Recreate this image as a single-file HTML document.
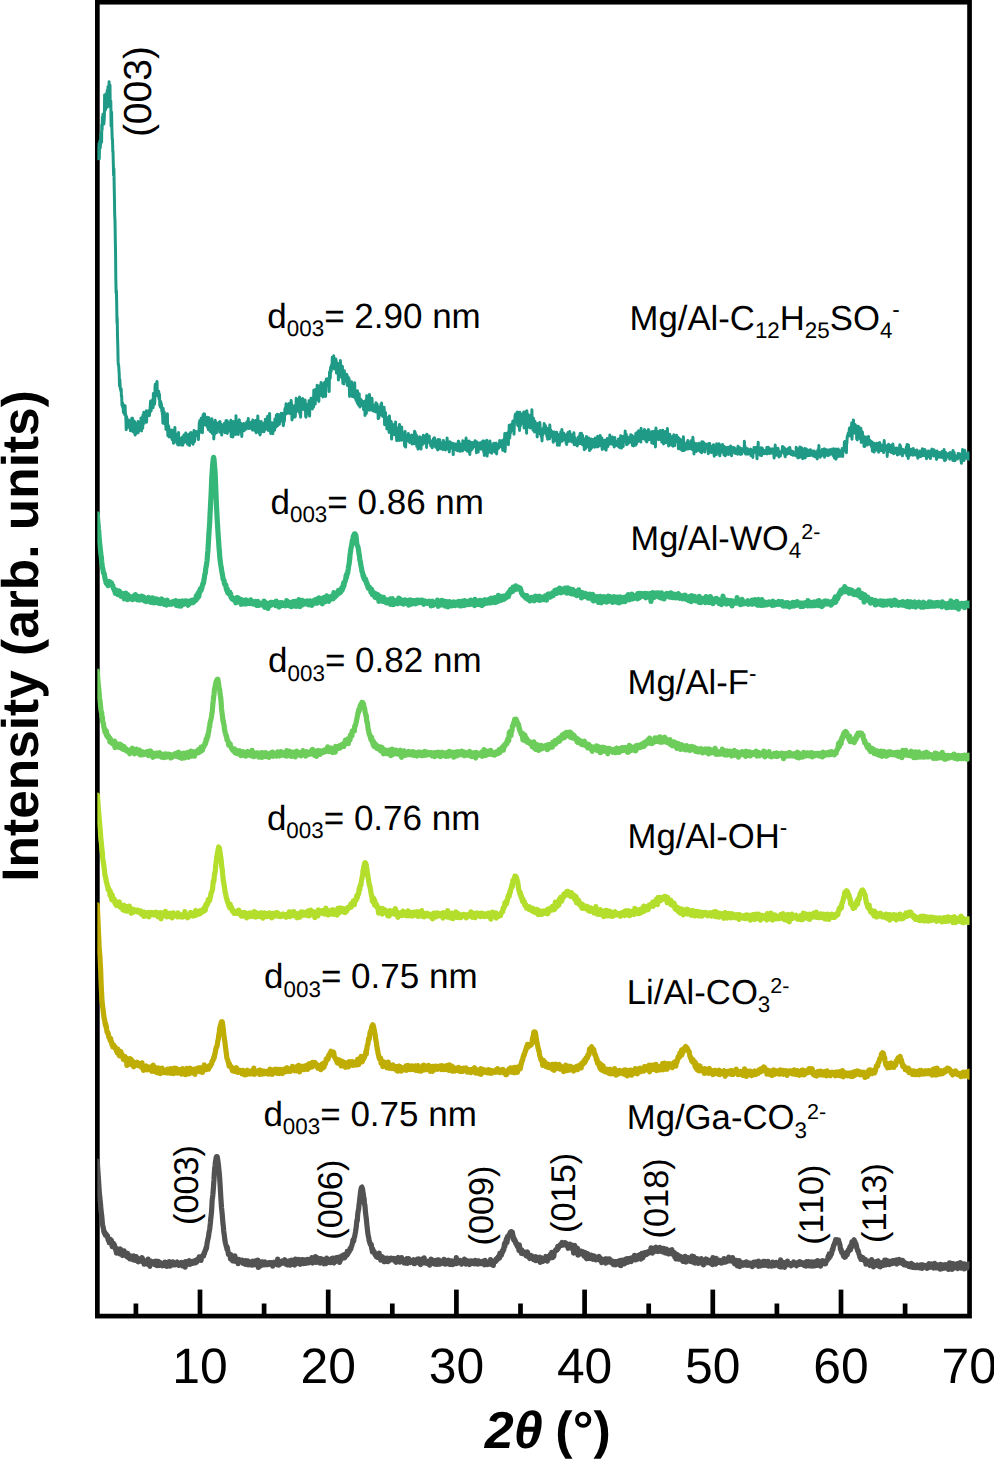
<!DOCTYPE html>
<html lang="en">
<head>
<meta charset="utf-8">
<title>XRD patterns of layered double hydroxides</title>
<style>
html,body{margin:0;padding:0;background:#fff;}
body{width:994px;height:1459px;overflow:hidden;}
svg{display:block;}
text{font-family:"Liberation Sans",sans-serif;fill:#000;text-rendering:geometricPrecision;font-kerning:none;}
</style>
</head>
<body>
<svg width="994" height="1459" viewBox="0 0 994 1459">
<rect x="0" y="0" width="994" height="1459" fill="#fff"/>
<g id="axes" stroke="#000" stroke-width="4.7" fill="none">
<rect x="97.35" y="2.2" width="872.20" height="1313.90"/>
<line x1="135.90" y1="1303.5" x2="135.90" y2="1316.1"/>
<line x1="200.00" y1="1289.6" x2="200.00" y2="1316.1"/>
<line x1="264.10" y1="1303.5" x2="264.10" y2="1316.1"/>
<line x1="328.20" y1="1289.6" x2="328.20" y2="1316.1"/>
<line x1="392.30" y1="1303.5" x2="392.30" y2="1316.1"/>
<line x1="456.40" y1="1289.6" x2="456.40" y2="1316.1"/>
<line x1="520.50" y1="1303.5" x2="520.50" y2="1316.1"/>
<line x1="584.60" y1="1289.6" x2="584.60" y2="1316.1"/>
<line x1="648.70" y1="1303.5" x2="648.70" y2="1316.1"/>
<line x1="712.80" y1="1289.6" x2="712.80" y2="1316.1"/>
<line x1="776.90" y1="1303.5" x2="776.90" y2="1316.1"/>
<line x1="841.00" y1="1289.6" x2="841.00" y2="1316.1"/>
<line x1="905.10" y1="1303.5" x2="905.10" y2="1316.1"/>
</g>
<clipPath id="plotclip"><rect x="97.35" y="2.2" width="872.20" height="1313.90"/></clipPath>
<g id="curves" clip-path="url(#plotclip)">
<path d="M97.3,158.0 97.6,158.9 97.9,153.2 98.2,147.3 98.5,149.2 98.8,143.7 99.0,150.3 99.3,158.6 99.6,143.4 99.9,141.0 100.2,148.1 100.4,145.7 100.7,142.4 101.0,132.9 101.3,138.3 101.6,142.3 101.8,125.0 102.1,130.2 102.4,117.2 102.7,120.2 103.0,114.0 103.2,124.5 103.5,114.3 103.8,124.0 104.1,120.8 104.4,115.7 104.6,94.9 104.9,108.4 105.2,110.2 105.5,109.4 105.8,94.1 106.0,100.6 106.3,94.6 106.6,94.0 106.9,107.4 107.2,90.5 107.4,94.8 107.7,100.4 108.0,86.7 108.3,89.4 108.6,90.9 108.8,91.1 109.1,81.8 109.4,94.2 109.7,106.6 110.0,85.0 110.2,106.9 110.5,103.7 110.8,101.0 111.1,126.1 111.4,121.3 111.6,112.1 111.9,128.8 112.2,139.2 112.5,139.2 112.8,151.4 113.0,151.2 113.3,162.8 113.6,175.5 113.9,168.4 114.2,186.6 114.4,196.1 114.7,215.2 115.0,220.5 115.3,238.9 115.6,256.1 115.8,277.5 116.1,292.7 116.4,290.5 116.7,304.5 117.0,322.9 117.2,317.9 117.5,335.8 117.8,346.4 118.1,361.4 118.4,365.1 118.6,365.2 118.9,369.2 119.2,373.5 119.5,385.9 119.8,379.3 120.0,382.9 120.3,388.9 120.6,389.1 120.9,391.1 121.2,388.8 121.4,396.2 121.7,396.0 122.0,405.5 122.3,404.7 122.6,403.0 122.8,407.8 123.1,404.5 123.4,412.4 123.7,408.8 124.0,412.9 124.2,405.5 124.5,414.4 124.8,406.2 125.1,405.8 125.4,414.9 125.6,413.3 125.9,419.2 126.2,429.7 126.5,416.5 126.8,418.3 127.0,422.8 127.3,424.8 127.6,422.4 127.9,422.7 128.2,427.3 128.4,426.8 128.7,420.0 129.0,424.6 129.3,425.4 129.6,420.8 129.8,427.0 130.1,422.2 130.4,430.7 130.7,427.4 131.0,427.2 131.2,424.3 131.5,426.6 131.8,418.3 132.1,422.4 132.4,429.3 132.6,418.2 132.9,431.8 133.2,420.2 133.5,431.6 133.8,424.5 134.0,431.9 134.3,429.0 134.6,421.5 134.9,434.1 135.2,435.0 135.4,428.2 135.7,427.2 136.0,427.7 136.3,423.9 136.6,433.2 136.8,425.6 137.1,427.7 137.4,424.2 137.7,424.8 138.0,421.6 138.2,432.8 138.5,426.2 138.8,431.0 139.1,426.4 139.4,423.0 139.6,424.3 139.9,423.0 140.2,425.2 140.5,423.1 140.8,423.1 141.0,417.9 141.3,420.1 141.6,430.9 141.9,420.0 142.2,417.9 142.4,423.8 142.7,428.3 143.0,414.9 143.3,420.2 143.6,417.8 143.8,412.3 144.1,423.3 144.4,419.5 144.7,419.5 145.0,415.3 145.2,420.5 145.5,415.5 145.8,416.9 146.1,411.9 146.4,410.9 146.6,422.2 146.9,413.2 147.2,416.4 147.5,414.3 147.8,411.8 148.0,410.9 148.3,415.6 148.6,410.7 148.9,410.8 149.2,410.9 149.4,415.7 149.7,412.7 150.0,410.7 150.3,405.6 150.6,401.0 150.8,411.4 151.1,410.8 151.4,404.8 151.7,407.4 152.0,407.8 152.2,407.4 152.5,406.9 152.8,399.4 153.1,407.8 153.4,393.5 153.6,402.5 153.9,399.7 154.2,400.4 154.5,404.3 154.8,401.4 155.0,387.7 155.3,384.2 155.6,395.9 155.9,386.4 156.2,391.0 156.4,395.1 156.7,383.1 157.0,381.4 157.3,393.8 157.6,393.7 157.8,393.4 158.1,396.0 158.4,393.0 158.7,391.2 159.0,399.0 159.2,396.3 159.5,394.2 159.8,405.5 160.1,403.8 160.4,407.0 160.6,401.4 160.9,404.0 161.2,403.4 161.5,405.0 161.8,411.1 162.0,407.4 162.3,413.7 162.6,414.6 162.9,423.3 163.2,408.3 163.4,419.9 163.7,416.3 164.0,417.6 164.3,412.0 164.6,417.5 164.8,424.0 165.1,421.1 165.4,422.8 165.7,422.1 166.0,429.5 166.2,425.1 166.5,416.1 166.8,423.8 167.1,418.8 167.4,413.8 167.6,426.8 167.9,435.8 168.2,430.7 168.5,425.8 168.8,427.4 169.0,436.9 169.3,433.1 169.6,432.9 169.9,432.8 170.2,433.5 170.4,437.0 170.7,436.2 171.0,435.1 171.3,430.1 171.6,436.8 171.8,432.2 172.1,439.7 172.4,430.3 172.7,435.2 173.0,436.0 173.2,430.9 173.5,443.3 173.8,442.4 174.1,435.1 174.4,440.1 174.6,438.8 174.9,427.4 175.2,438.7 175.5,437.6 175.8,438.4 176.0,434.1 176.3,437.3 176.6,437.8 176.9,443.1 177.2,440.0 177.4,438.9 177.7,444.7 178.0,437.0 178.3,437.7 178.6,432.5 178.8,445.1 179.1,443.0 179.4,442.8 179.7,441.9 180.0,439.9 180.2,440.3 180.5,438.6 180.8,438.7 181.1,439.7 181.4,445.1 181.6,441.5 181.9,439.2 182.2,437.3 182.5,437.1 182.8,445.3 183.0,441.2 183.3,439.6 183.6,438.0 183.9,435.1 184.2,438.9 184.4,442.4 184.7,437.6 185.0,438.2 185.3,438.2 185.6,439.3 185.8,432.9 186.1,437.9 186.4,435.5 186.7,442.0 187.0,435.7 187.2,440.7 187.5,444.2 187.8,437.2 188.1,436.0 188.4,439.0 188.6,438.1 188.9,434.3 189.2,439.7 189.5,445.6 189.8,436.8 190.0,436.9 190.3,433.6 190.6,438.7 190.9,432.5 191.2,433.0 191.4,442.2 191.7,433.5 192.0,441.2 192.3,442.9 192.6,437.8 192.8,438.8 193.1,444.3 193.4,435.6 193.7,433.8 194.0,430.6 194.2,436.0 194.5,441.6 194.8,439.3 195.1,431.3 195.4,431.4 195.6,432.5 195.9,435.6 196.2,433.2 196.5,434.6 196.8,434.7 197.0,431.8 197.3,432.6 197.6,433.3 197.9,431.7 198.2,433.9 198.4,439.6 198.7,433.5 199.0,430.7 199.3,422.5 199.6,431.4 199.8,420.5 200.1,422.5 200.4,432.1 200.7,430.8 201.0,426.2 201.2,418.3 201.5,423.4 201.8,421.1 202.1,426.2 202.4,432.7 202.6,422.6 202.9,417.3 203.2,414.8 203.5,419.4 203.8,418.4 204.0,413.7 204.3,419.5 204.6,413.9 204.9,424.5 205.2,424.6 205.4,425.2 205.7,418.6 206.0,423.6 206.3,421.2 206.6,420.6 206.8,421.4 207.1,417.5 207.4,417.3 207.7,427.8 208.0,423.7 208.2,425.9 208.5,429.8 208.8,417.8 209.1,422.4 209.4,427.0 209.6,428.3 209.9,425.0 210.2,431.5 210.5,427.9 210.8,421.6 211.0,422.9 211.3,430.8 211.6,429.3 211.9,418.7 212.2,433.4 212.4,430.1 212.7,433.5 213.0,425.7 213.3,426.2 213.6,422.5 213.8,439.0 214.1,426.8 214.4,434.8 214.7,424.8 215.0,428.5 215.2,420.3 215.5,426.1 215.8,432.3 216.1,422.3 216.4,432.8 216.6,429.5 216.9,423.3 217.2,425.8 217.5,426.0 217.8,427.9 218.0,425.7 218.3,424.4 218.6,426.8 218.9,423.6 219.2,422.4 219.4,428.0 219.7,432.2 220.0,421.4 220.3,428.3 220.6,425.4 220.8,423.9 221.1,432.2 221.4,426.0 221.7,435.1 222.0,424.9 222.2,430.1 222.5,427.4 222.8,425.0 223.1,431.1 223.4,427.7 223.6,431.2 223.9,428.2 224.2,423.6 224.5,428.0 224.8,428.7 225.0,432.8 225.3,424.4 225.6,428.3 225.9,420.7 226.2,431.4 226.4,423.6 226.7,420.4 227.0,428.2 227.3,433.5 227.6,421.6 227.8,423.6 228.1,425.2 228.4,423.4 228.7,430.2 229.0,424.9 229.2,425.2 229.5,431.1 229.8,425.1 230.1,430.4 230.4,424.1 230.6,423.0 230.9,420.2 231.2,436.8 231.5,427.0 231.8,429.6 232.0,428.3 232.3,429.2 232.6,428.7 232.9,437.0 233.2,423.8 233.4,421.4 233.7,423.9 234.0,422.4 234.3,431.8 234.6,432.1 234.8,424.1 235.1,422.1 235.4,426.8 235.7,434.6 236.0,415.7 236.2,430.7 236.5,423.5 236.8,433.0 237.1,423.5 237.4,427.0 237.6,421.5 237.9,423.9 238.2,434.5 238.5,432.0 238.8,426.5 239.0,424.3 239.3,419.7 239.6,426.5 239.9,428.1 240.2,427.8 240.4,427.8 240.7,423.1 241.0,427.9 241.3,428.0 241.6,434.0 241.8,436.5 242.1,427.5 242.4,424.7 242.7,427.8 243.0,425.4 243.2,424.7 243.5,427.8 243.8,423.4 244.1,430.8 244.4,427.6 244.6,429.1 244.9,427.2 245.2,424.7 245.5,423.7 245.8,426.9 246.0,425.5 246.3,429.0 246.6,427.9 246.9,421.8 247.2,428.2 247.4,421.8 247.7,425.1 248.0,426.5 248.3,418.5 248.6,428.2 248.8,428.5 249.1,427.1 249.4,425.9 249.7,426.1 250.0,423.3 250.2,426.5 250.5,425.2 250.8,428.1 251.1,422.3 251.4,428.7 251.6,428.3 251.9,427.0 252.2,425.6 252.5,430.1 252.8,420.1 253.0,429.6 253.3,428.7 253.6,428.8 253.9,429.3 254.2,424.6 254.4,426.3 254.7,430.4 255.0,429.4 255.3,428.4 255.6,420.6 255.8,429.8 256.1,432.7 256.4,431.9 256.7,428.4 257.0,420.3 257.2,431.6 257.5,426.7 257.8,415.9 258.1,429.0 258.4,420.5 258.6,421.4 258.9,424.4 259.2,433.0 259.5,425.5 259.8,428.4 260.0,435.0 260.3,434.3 260.6,426.7 260.9,426.0 261.2,421.4 261.4,423.9 261.7,428.9 262.0,428.8 262.3,427.5 262.6,431.4 262.8,423.4 263.1,426.7 263.4,430.2 263.7,429.5 264.0,431.7 264.2,428.6 264.5,425.4 264.8,428.4 265.1,422.2 265.4,419.3 265.6,429.3 265.9,426.4 266.2,428.0 266.5,418.9 266.8,424.9 267.0,423.8 267.3,422.5 267.6,416.2 267.9,424.8 268.2,430.4 268.4,428.0 268.7,423.5 269.0,426.1 269.3,429.5 269.6,413.6 269.8,425.5 270.1,428.4 270.4,429.0 270.7,433.5 271.0,430.9 271.2,427.1 271.5,426.9 271.8,429.0 272.1,422.8 272.4,424.9 272.6,429.1 272.9,433.7 273.2,423.9 273.5,424.2 273.8,425.2 274.0,430.2 274.3,423.7 274.6,430.3 274.9,419.0 275.2,422.3 275.4,422.0 275.7,426.3 276.0,427.2 276.3,415.3 276.6,417.8 276.8,423.2 277.1,418.4 277.4,414.2 277.7,425.7 278.0,422.9 278.2,422.6 278.5,417.9 278.8,424.6 279.1,418.5 279.4,424.3 279.6,414.8 279.9,414.8 280.2,419.5 280.5,415.0 280.8,421.1 281.0,418.9 281.3,413.2 281.6,417.6 281.9,415.3 282.2,420.9 282.4,413.4 282.7,414.0 283.0,421.3 283.3,425.7 283.6,424.2 283.8,414.8 284.1,415.2 284.4,420.9 284.7,412.8 285.0,408.4 285.2,413.1 285.5,414.3 285.8,407.9 286.1,403.7 286.4,404.3 286.6,413.8 286.9,406.8 287.2,409.3 287.5,410.7 287.8,412.3 288.0,407.5 288.3,411.2 288.6,404.4 288.9,406.7 289.2,403.4 289.4,413.5 289.7,407.9 290.0,404.5 290.3,406.2 290.6,406.9 290.8,411.2 291.1,400.4 291.4,403.0 291.7,406.1 292.0,419.9 292.2,412.4 292.5,407.4 292.8,411.3 293.1,417.6 293.4,406.8 293.6,406.2 293.9,413.6 294.2,410.2 294.5,411.1 294.8,405.5 295.0,417.0 295.3,416.0 295.6,410.6 295.9,411.1 296.2,398.3 296.4,410.9 296.7,407.0 297.0,409.9 297.3,411.1 297.6,406.3 297.8,399.9 298.1,409.6 298.4,404.4 298.7,406.3 299.0,405.0 299.2,406.3 299.5,397.0 299.8,413.6 300.1,409.1 300.4,413.1 300.6,417.2 300.9,408.0 301.2,399.4 301.5,403.7 301.8,402.2 302.0,405.5 302.3,408.3 302.6,398.4 302.9,409.5 303.2,400.8 303.4,409.3 303.7,407.4 304.0,406.4 304.3,407.6 304.6,405.4 304.8,405.0 305.1,400.0 305.4,407.8 305.7,416.6 306.0,417.2 306.2,414.0 306.5,411.0 306.8,404.4 307.1,414.3 307.4,407.0 307.6,406.8 307.9,405.5 308.2,407.1 308.5,404.4 308.8,405.8 309.0,400.7 309.3,403.8 309.6,416.1 309.9,404.6 310.2,403.5 310.4,406.8 310.7,407.3 311.0,398.2 311.3,402.2 311.6,407.2 311.8,403.7 312.1,402.6 312.4,409.0 312.7,397.9 313.0,401.2 313.2,397.9 313.5,407.1 313.8,390.2 314.1,395.9 314.4,396.2 314.6,401.6 314.9,400.9 315.2,404.3 315.5,389.6 315.8,400.5 316.0,395.1 316.3,393.0 316.6,398.5 316.9,391.1 317.2,385.2 317.4,393.2 317.7,387.4 318.0,391.3 318.3,396.0 318.6,395.5 318.8,401.5 319.1,392.6 319.4,385.9 319.7,389.5 320.0,388.5 320.2,386.8 320.5,394.7 320.8,389.2 321.1,382.5 321.4,395.4 321.6,391.3 321.9,393.4 322.2,392.0 322.5,394.4 322.8,391.2 323.0,396.9 323.3,392.7 323.6,392.3 323.9,392.2 324.2,382.7 324.4,388.8 324.7,388.1 325.0,390.1 325.3,382.0 325.6,396.5 325.8,388.6 326.1,381.7 326.4,378.9 326.7,385.5 327.0,385.9 327.2,382.1 327.5,385.4 327.8,380.8 328.1,385.8 328.4,378.4 328.6,380.7 328.9,384.7 329.2,391.6 329.5,372.4 329.8,374.0 330.0,371.0 330.3,378.2 330.6,367.4 330.9,369.9 331.2,371.4 331.4,365.7 331.7,364.9 332.0,366.5 332.3,357.3 332.6,359.8 332.8,364.4 333.1,366.6 333.4,364.4 333.7,355.7 334.0,362.3 334.2,368.9 334.5,367.6 334.8,364.4 335.1,360.2 335.4,368.2 335.6,362.1 335.9,359.1 336.2,361.2 336.5,373.1 336.8,366.9 337.0,372.0 337.3,363.7 337.6,371.3 337.9,363.6 338.2,366.2 338.4,380.1 338.7,371.5 339.0,365.3 339.3,367.7 339.6,370.2 339.8,375.0 340.1,366.6 340.4,360.5 340.7,368.3 341.0,370.2 341.2,371.0 341.5,377.5 341.8,372.7 342.1,375.6 342.4,366.2 342.6,376.7 342.9,383.5 343.2,377.2 343.5,375.1 343.8,375.1 344.0,383.9 344.3,370.7 344.6,375.4 344.9,378.8 345.2,380.8 345.4,375.4 345.7,379.7 346.0,377.2 346.3,379.7 346.6,378.9 346.8,374.3 347.1,380.5 347.4,385.5 347.7,376.7 348.0,380.8 348.2,385.8 348.5,377.6 348.8,384.4 349.1,378.7 349.4,390.1 349.6,396.4 349.9,395.4 350.2,384.8 350.5,390.0 350.8,387.4 351.0,387.8 351.3,395.4 351.6,381.7 351.9,393.9 352.2,388.9 352.4,396.6 352.7,391.0 353.0,387.3 353.3,392.4 353.6,395.1 353.8,392.1 354.1,394.8 354.4,390.3 354.7,382.8 355.0,398.1 355.2,397.5 355.5,395.2 355.8,395.3 356.1,400.4 356.4,393.5 356.6,392.7 356.9,395.6 357.2,402.7 357.5,390.7 357.8,403.6 358.0,395.2 358.3,393.4 358.6,405.2 358.9,399.1 359.2,393.7 359.4,398.7 359.7,405.3 360.0,407.0 360.3,399.6 360.6,403.9 360.8,405.8 361.1,399.6 361.4,404.7 361.7,403.1 362.0,400.9 362.2,401.3 362.5,404.2 362.8,404.1 363.1,401.4 363.4,402.2 363.6,409.6 363.9,405.4 364.2,408.7 364.5,410.3 364.8,407.4 365.0,415.5 365.3,400.8 365.6,408.6 365.9,403.3 366.2,413.7 366.4,413.0 366.7,395.7 367.0,400.4 367.3,408.2 367.6,408.9 367.8,408.7 368.1,404.9 368.4,407.4 368.7,408.4 369.0,404.9 369.2,410.2 369.5,394.6 369.8,408.4 370.1,400.5 370.4,410.0 370.6,404.4 370.9,401.3 371.2,407.4 371.5,401.3 371.8,401.4 372.0,398.3 372.3,405.7 372.6,408.2 372.9,410.8 373.2,405.3 373.4,411.0 373.7,406.2 374.0,405.8 374.3,409.0 374.6,411.4 374.8,404.9 375.1,405.4 375.4,406.0 375.7,407.3 376.0,402.8 376.2,412.1 376.5,405.5 376.8,409.9 377.1,404.0 377.4,409.9 377.6,410.3 377.9,406.8 378.2,418.6 378.5,411.1 378.8,418.1 379.0,414.5 379.3,407.3 379.6,408.9 379.9,413.1 380.2,411.8 380.4,412.1 380.7,410.9 381.0,404.2 381.3,411.9 381.6,403.0 381.8,415.5 382.1,410.8 382.4,411.2 382.7,413.9 383.0,416.5 383.2,409.0 383.5,407.9 383.8,411.4 384.1,407.3 384.4,412.6 384.6,424.8 384.9,413.0 385.2,421.3 385.5,412.4 385.8,420.5 386.0,418.1 386.3,419.7 386.6,423.0 386.9,428.9 387.2,422.2 387.4,422.4 387.7,417.8 388.0,425.4 388.3,422.0 388.6,427.4 388.8,423.9 389.1,432.4 389.4,416.0 389.7,424.1 390.0,429.8 390.2,424.7 390.5,423.1 390.8,425.8 391.1,421.2 391.4,428.3 391.6,439.1 391.9,433.6 392.2,423.8 392.5,425.2 392.8,427.5 393.0,434.1 393.3,426.2 393.6,427.0 393.9,434.3 394.2,434.5 394.4,429.2 394.7,426.1 395.0,424.4 395.3,428.4 395.6,421.9 395.8,435.2 396.1,429.4 396.4,434.5 396.7,440.7 397.0,437.8 397.2,428.1 397.5,436.9 397.8,438.3 398.1,430.4 398.4,429.8 398.6,433.5 398.9,427.5 399.2,440.5 399.5,424.5 399.8,430.1 400.0,433.7 400.3,434.1 400.6,435.8 400.9,436.4 401.2,434.6 401.4,440.2 401.7,427.1 402.0,435.9 402.3,433.2 402.6,436.7 402.8,437.2 403.1,432.8 403.4,434.0 403.7,439.8 404.0,438.2 404.2,434.2 404.5,445.0 404.8,446.1 405.1,431.5 405.4,438.5 405.6,447.1 405.9,440.5 406.2,438.4 406.5,436.8 406.8,435.6 407.0,437.0 407.3,435.8 407.6,440.8 407.9,436.5 408.2,436.4 408.4,433.6 408.7,438.1 409.0,435.0 409.3,437.7 409.6,442.4 409.8,439.9 410.1,440.5 410.4,440.0 410.7,439.0 411.0,438.4 411.2,437.7 411.5,441.8 411.8,435.0 412.1,444.1 412.4,439.3 412.6,436.4 412.9,437.4 413.2,436.8 413.5,440.0 413.8,436.8 414.0,443.7 414.3,436.7 414.6,431.2 414.9,437.0 415.2,432.3 415.4,439.6 415.7,443.7 416.0,442.2 416.3,435.0 416.6,437.2 416.8,446.5 417.1,441.2 417.4,440.1 417.7,444.0 418.0,449.1 418.2,445.0 418.5,440.8 418.8,441.7 419.1,442.6 419.4,438.3 419.6,436.7 419.9,440.8 420.2,437.2 420.5,440.4 420.8,441.1 421.0,449.1 421.3,437.8 421.6,440.4 421.9,440.3 422.2,442.5 422.4,444.7 422.7,439.3 423.0,438.2 423.3,435.3 423.6,437.9 423.8,443.1 424.1,441.5 424.4,437.8 424.7,440.1 425.0,441.6 425.2,443.3 425.5,439.5 425.8,440.7 426.1,435.3 426.4,437.7 426.6,447.4 426.9,434.2 427.2,440.7 427.5,442.7 427.8,440.7 428.0,439.3 428.3,441.9 428.6,442.2 428.9,442.0 429.2,435.9 429.4,441.9 429.7,439.5 430.0,440.6 430.3,443.4 430.6,444.8 430.8,445.8 431.1,441.1 431.4,446.0 431.7,446.9 432.0,446.8 432.2,447.7 432.5,442.6 432.8,442.6 433.1,446.0 433.4,438.7 433.6,444.1 433.9,441.6 434.2,442.3 434.5,437.7 434.8,440.6 435.0,443.6 435.3,446.7 435.6,447.1 435.9,443.6 436.2,443.3 436.4,441.3 436.7,445.4 437.0,443.3 437.3,446.2 437.6,450.0 437.8,444.2 438.1,439.5 438.4,441.6 438.7,439.7 439.0,440.6 439.2,448.8 439.5,445.4 439.8,439.8 440.1,446.8 440.4,448.8 440.6,443.7 440.9,442.7 441.2,443.8 441.5,445.9 441.8,447.1 442.0,448.8 442.3,449.0 442.6,448.9 442.9,449.5 443.2,447.3 443.4,440.4 443.7,444.9 444.0,446.3 444.3,444.1 444.6,448.3 444.8,444.3 445.1,442.5 445.4,450.0 445.7,447.6 446.0,446.2 446.2,448.5 446.5,448.9 446.8,446.6 447.1,437.9 447.4,443.5 447.6,444.2 447.9,442.5 448.2,446.3 448.5,449.4 448.8,444.1 449.0,442.1 449.3,452.0 449.6,444.3 449.9,441.8 450.2,446.5 450.4,447.1 450.7,443.5 451.0,448.2 451.3,444.2 451.6,442.9 451.8,446.3 452.1,448.2 452.4,443.8 452.7,446.8 453.0,445.5 453.2,454.6 453.5,443.6 453.8,450.1 454.1,445.7 454.4,445.4 454.6,448.1 454.9,448.6 455.2,449.8 455.5,446.9 455.8,444.0 456.0,444.2 456.3,447.4 456.6,447.7 456.9,450.2 457.2,447.2 457.4,449.2 457.7,450.6 458.0,446.4 458.3,441.3 458.6,442.2 458.8,441.4 459.1,450.9 459.4,443.3 459.7,449.8 460.0,447.7 460.2,451.3 460.5,449.1 460.8,445.6 461.1,445.3 461.4,446.2 461.6,446.5 461.9,444.3 462.2,445.9 462.5,451.0 462.8,440.7 463.0,446.8 463.3,443.1 463.6,446.6 463.9,448.6 464.2,445.8 464.4,448.4 464.7,441.1 465.0,449.4 465.3,444.1 465.6,448.0 465.8,446.6 466.1,438.0 466.4,443.7 466.7,446.7 467.0,450.9 467.2,446.9 467.5,446.9 467.8,441.7 468.1,450.5 468.4,451.7 468.6,446.2 468.9,445.4 469.2,441.1 469.5,448.9 469.8,454.5 470.0,448.4 470.3,450.1 470.6,447.8 470.9,443.1 471.2,450.3 471.4,442.4 471.7,445.6 472.0,447.1 472.3,449.0 472.6,447.5 472.8,447.5 473.1,444.0 473.4,442.4 473.7,446.5 474.0,444.2 474.2,442.4 474.5,442.5 474.8,445.0 475.1,440.8 475.4,442.4 475.6,441.6 475.9,447.2 476.2,447.9 476.5,452.8 476.8,442.1 477.0,444.7 477.3,449.6 477.6,446.2 477.9,445.9 478.2,452.1 478.4,445.9 478.7,443.5 479.0,443.0 479.3,448.1 479.6,448.0 479.8,443.0 480.1,444.2 480.4,448.8 480.7,449.0 481.0,445.4 481.2,449.2 481.5,449.1 481.8,442.1 482.1,446.5 482.4,448.7 482.6,445.8 482.9,441.1 483.2,446.7 483.5,449.8 483.8,452.3 484.0,441.1 484.3,455.4 484.6,444.3 484.9,450.5 485.2,451.3 485.4,450.6 485.7,448.1 486.0,444.3 486.3,449.6 486.6,445.6 486.8,440.2 487.1,456.1 487.4,449.8 487.7,453.1 488.0,445.0 488.2,452.0 488.5,452.4 488.8,452.3 489.1,447.6 489.4,444.1 489.6,447.1 489.9,441.1 490.2,442.5 490.5,447.8 490.8,444.6 491.0,447.0 491.3,447.2 491.6,453.2 491.9,451.3 492.2,447.3 492.4,451.0 492.7,445.0 493.0,446.3 493.3,450.0 493.6,443.5 493.8,446.3 494.1,443.2 494.4,447.4 494.7,452.0 495.0,444.7 495.2,447.6 495.5,444.2 495.8,443.3 496.1,443.0 496.4,451.2 496.6,453.9 496.9,448.1 497.2,444.3 497.5,448.6 497.8,445.4 498.0,448.8 498.3,447.2 498.6,447.1 498.9,448.0 499.2,444.2 499.4,444.7 499.7,440.5 500.0,444.4 500.3,441.3 500.6,445.2 500.8,442.5 501.1,445.8 501.4,446.8 501.7,440.7 502.0,442.6 502.2,442.0 502.5,447.4 502.8,450.3 503.1,447.5 503.4,443.5 503.6,449.2 503.9,439.2 504.2,448.8 504.5,441.2 504.8,433.6 505.0,451.6 505.3,447.4 505.6,437.7 505.9,441.3 506.2,439.3 506.4,439.9 506.7,433.3 507.0,435.6 507.3,439.4 507.6,437.8 507.8,441.1 508.1,436.1 508.4,444.8 508.7,431.6 509.0,435.1 509.2,425.2 509.5,427.3 509.8,437.9 510.1,427.3 510.4,433.2 510.6,429.9 510.9,424.8 511.2,427.3 511.5,425.9 511.8,425.4 512.0,430.4 512.3,429.3 512.6,423.1 512.9,420.9 513.2,425.6 513.4,423.1 513.7,427.5 514.0,434.2 514.3,425.2 514.6,420.5 514.8,419.2 515.1,415.4 515.4,414.7 515.7,413.8 516.0,416.2 516.2,415.8 516.5,421.1 516.8,415.9 517.1,416.8 517.4,412.1 517.6,425.3 517.9,420.1 518.2,426.0 518.5,421.4 518.8,424.7 519.0,416.7 519.3,421.2 519.6,430.4 519.9,412.3 520.2,423.4 520.4,425.8 520.7,420.0 521.0,421.6 521.3,424.0 521.6,415.1 521.8,420.1 522.1,414.2 522.4,415.1 522.7,415.5 523.0,417.8 523.2,419.2 523.5,420.7 523.8,412.0 524.1,428.0 524.4,424.2 524.6,422.3 524.9,417.3 525.2,418.6 525.5,421.7 525.8,421.1 526.0,411.4 526.3,422.8 526.6,433.2 526.9,410.8 527.2,424.3 527.4,421.4 527.7,419.3 528.0,426.4 528.3,414.4 528.6,420.9 528.8,427.1 529.1,419.4 529.4,418.4 529.7,421.0 530.0,418.5 530.2,428.0 530.5,416.6 530.8,425.1 531.1,415.3 531.4,424.5 531.6,421.1 531.9,409.7 532.2,422.1 532.5,417.4 532.8,420.6 533.0,430.2 533.3,418.1 533.6,418.7 533.9,430.7 534.2,424.9 534.4,431.9 534.7,426.5 535.0,421.3 535.3,425.4 535.6,431.8 535.8,430.8 536.1,426.8 536.4,427.4 536.7,426.9 537.0,425.1 537.2,437.0 537.5,428.4 537.8,423.4 538.1,426.7 538.4,432.5 538.6,432.4 538.9,429.0 539.2,426.7 539.5,430.1 539.8,422.4 540.0,424.3 540.3,434.1 540.6,428.4 540.9,432.5 541.2,436.5 541.4,434.0 541.7,431.3 542.0,441.0 542.3,434.5 542.6,430.0 542.8,435.0 543.1,433.7 543.4,428.1 543.7,432.4 544.0,431.5 544.2,423.6 544.5,431.7 544.8,431.3 545.1,430.8 545.4,425.6 545.6,431.4 545.9,432.9 546.2,433.6 546.5,428.3 546.8,436.1 547.0,428.2 547.3,432.6 547.6,439.3 547.9,430.8 548.2,431.7 548.4,438.6 548.7,432.4 549.0,432.9 549.3,435.2 549.6,438.8 549.8,425.1 550.1,431.0 550.4,430.4 550.7,430.1 551.0,431.2 551.2,431.4 551.5,436.2 551.8,431.3 552.1,435.7 552.4,436.9 552.6,432.3 552.9,435.9 553.2,442.3 553.5,436.9 553.8,433.0 554.0,435.5 554.3,432.0 554.6,437.0 554.9,439.5 555.2,432.7 555.4,435.3 555.7,440.7 556.0,434.2 556.3,437.1 556.6,432.3 556.8,433.2 557.1,434.5 557.4,445.2 557.7,435.1 558.0,434.7 558.2,434.6 558.5,436.3 558.8,439.6 559.1,437.8 559.4,445.2 559.6,438.0 559.9,442.9 560.2,438.4 560.5,439.8 560.8,431.9 561.0,437.0 561.3,437.3 561.6,436.7 561.9,429.4 562.2,441.2 562.4,436.4 562.7,436.2 563.0,437.0 563.3,437.2 563.6,439.7 563.8,433.3 564.1,434.7 564.4,439.4 564.7,438.9 565.0,437.0 565.2,436.3 565.5,435.4 565.8,438.4 566.1,443.1 566.4,434.7 566.6,444.5 566.9,442.0 567.2,437.2 567.5,441.9 567.8,433.5 568.0,432.6 568.3,434.3 568.6,437.6 568.9,438.0 569.2,437.3 569.4,439.7 569.7,431.4 570.0,441.2 570.3,434.2 570.6,437.1 570.8,438.0 571.1,435.4 571.4,434.6 571.7,436.0 572.0,439.7 572.2,442.0 572.5,441.9 572.8,436.3 573.1,437.1 573.4,436.7 573.6,441.7 573.9,432.7 574.2,444.7 574.5,438.5 574.8,437.4 575.0,441.5 575.3,444.1 575.6,441.7 575.9,444.3 576.2,441.0 576.4,445.0 576.7,445.1 577.0,440.3 577.3,445.9 577.6,441.4 577.8,441.1 578.1,437.6 578.4,439.9 578.7,443.7 579.0,436.4 579.2,443.4 579.5,442.4 579.8,442.2 580.1,433.4 580.4,440.9 580.6,443.6 580.9,438.7 581.2,441.8 581.5,433.2 581.8,443.9 582.0,439.3 582.3,444.7 582.6,435.3 582.9,444.2 583.2,441.0 583.4,444.7 583.7,438.7 584.0,439.8 584.3,449.8 584.6,439.2 584.8,439.7 585.1,441.2 585.4,438.7 585.7,446.4 586.0,448.3 586.2,440.0 586.5,436.5 586.8,446.5 587.1,446.3 587.4,445.4 587.6,446.6 587.9,439.7 588.2,442.1 588.5,438.0 588.8,438.0 589.0,446.1 589.3,440.6 589.6,450.6 589.9,443.2 590.2,440.8 590.4,445.7 590.7,449.1 591.0,444.7 591.3,439.0 591.6,444.4 591.8,447.8 592.1,441.5 592.4,440.6 592.7,446.6 593.0,443.7 593.2,439.6 593.5,442.0 593.8,440.8 594.1,444.3 594.4,443.7 594.6,447.2 594.9,445.7 595.2,438.1 595.5,444.7 595.8,446.4 596.0,444.9 596.3,446.8 596.6,441.6 596.9,440.2 597.2,446.5 597.4,439.8 597.7,436.2 598.0,446.8 598.3,441.0 598.6,442.3 598.8,438.7 599.1,438.9 599.4,439.5 599.7,442.1 600.0,444.5 600.2,435.6 600.5,445.8 600.8,439.3 601.1,439.6 601.4,445.5 601.6,442.9 601.9,438.0 602.2,449.4 602.5,440.2 602.8,443.9 603.0,443.7 603.3,447.8 603.6,441.5 603.9,446.4 604.2,440.4 604.4,446.7 604.7,440.3 605.0,441.6 605.3,449.3 605.6,443.9 605.8,443.1 606.1,450.3 606.4,443.9 606.7,439.8 607.0,445.1 607.2,438.5 607.5,446.4 607.8,446.6 608.1,440.5 608.4,440.2 608.6,443.0 608.9,442.4 609.2,438.9 609.5,444.2 609.8,435.1 610.0,440.6 610.3,440.7 610.6,441.1 610.9,443.1 611.2,437.7 611.4,444.0 611.7,441.2 612.0,439.6 612.3,437.0 612.6,437.6 612.8,442.9 613.1,438.3 613.4,441.8 613.7,445.3 614.0,445.1 614.2,446.9 614.5,440.4 614.8,437.5 615.1,444.9 615.4,442.4 615.6,445.2 615.9,441.2 616.2,445.4 616.5,444.1 616.8,443.6 617.0,442.8 617.3,442.4 617.6,441.7 617.9,441.7 618.2,444.3 618.4,438.9 618.7,446.9 619.0,440.3 619.3,444.2 619.6,440.3 619.8,439.6 620.1,447.8 620.4,439.3 620.7,435.8 621.0,437.8 621.2,439.2 621.5,448.1 621.8,441.0 622.1,443.6 622.4,436.5 622.6,441.4 622.9,442.5 623.2,446.5 623.5,437.4 623.8,442.1 624.0,440.9 624.3,436.0 624.6,439.6 624.9,438.6 625.2,431.0 625.4,441.7 625.7,441.4 626.0,437.7 626.3,434.3 626.6,444.7 626.8,440.1 627.1,442.9 627.4,444.3 627.7,437.0 628.0,441.9 628.2,437.9 628.5,438.5 628.8,438.3 629.1,438.6 629.4,442.7 629.6,438.9 629.9,437.8 630.2,437.3 630.5,439.5 630.8,434.7 631.0,436.2 631.3,437.8 631.6,435.8 631.9,437.4 632.2,435.5 632.4,445.5 632.7,442.8 633.0,439.3 633.3,437.3 633.6,446.0 633.8,438.6 634.1,437.0 634.4,438.4 634.7,438.4 635.0,442.6 635.2,437.0 635.5,445.2 635.8,433.5 636.1,439.6 636.4,432.9 636.6,443.9 636.9,435.4 637.2,436.4 637.5,440.3 637.8,441.5 638.0,432.1 638.3,435.1 638.6,430.8 638.9,436.9 639.2,435.9 639.4,434.9 639.7,433.5 640.0,434.6 640.3,433.1 640.6,438.2 640.8,442.1 641.1,428.3 641.4,435.5 641.7,434.3 642.0,437.9 642.2,432.1 642.5,435.3 642.8,431.7 643.1,438.7 643.4,436.2 643.6,435.2 643.9,437.3 644.2,434.8 644.5,429.5 644.8,438.2 645.0,437.0 645.3,435.2 645.6,439.8 645.9,440.7 646.2,431.4 646.4,432.7 646.7,442.0 647.0,441.5 647.3,432.9 647.6,431.1 647.8,433.3 648.1,433.8 648.4,429.5 648.7,436.0 649.0,430.7 649.2,431.0 649.5,439.6 649.8,433.2 650.1,435.6 650.4,438.5 650.6,439.2 650.9,434.6 651.2,436.2 651.5,432.7 651.8,443.0 652.0,438.6 652.3,431.6 652.6,436.1 652.9,438.9 653.2,438.0 653.4,443.4 653.7,441.6 654.0,434.0 654.3,435.8 654.6,431.1 654.8,437.2 655.1,436.8 655.4,447.0 655.7,436.7 656.0,428.0 656.2,433.7 656.5,436.8 656.8,431.4 657.1,433.0 657.4,435.0 657.6,437.8 657.9,435.8 658.2,433.0 658.5,439.7 658.8,434.5 659.0,434.6 659.3,431.2 659.6,433.6 659.9,439.3 660.2,430.4 660.4,436.5 660.7,439.6 661.0,435.4 661.3,437.8 661.6,432.5 661.8,442.1 662.1,441.3 662.4,437.9 662.7,430.2 663.0,433.0 663.2,441.0 663.5,443.9 663.8,438.4 664.1,442.1 664.4,434.9 664.6,436.6 664.9,437.4 665.2,439.1 665.5,431.5 665.8,441.1 666.0,442.7 666.3,433.1 666.6,432.4 666.9,439.0 667.2,435.2 667.4,428.6 667.7,440.9 668.0,438.4 668.3,436.1 668.6,446.0 668.8,438.5 669.1,435.1 669.4,438.5 669.7,434.2 670.0,435.3 670.2,439.8 670.5,436.3 670.8,436.8 671.1,444.9 671.4,441.9 671.6,441.8 671.9,440.9 672.2,440.8 672.5,444.6 672.8,439.2 673.0,446.3 673.3,436.1 673.6,438.8 673.9,434.8 674.2,438.8 674.4,442.1 674.7,445.6 675.0,438.1 675.3,440.7 675.6,439.5 675.8,438.3 676.1,436.9 676.4,441.5 676.7,435.3 677.0,442.0 677.2,441.8 677.5,439.6 677.8,438.5 678.1,437.4 678.4,448.8 678.6,437.8 678.9,447.9 679.2,444.8 679.5,441.6 679.8,439.0 680.0,446.6 680.3,449.0 680.6,440.1 680.9,442.3 681.2,446.9 681.4,444.6 681.7,450.2 682.0,441.7 682.3,445.5 682.6,439.7 682.8,450.8 683.1,441.5 683.4,436.7 683.7,443.7 684.0,443.7 684.2,450.5 684.5,443.2 684.8,444.3 685.1,446.4 685.4,449.6 685.6,444.4 685.9,448.0 686.2,446.4 686.5,443.8 686.8,445.1 687.0,445.0 687.3,442.0 687.6,448.9 687.9,440.6 688.2,448.9 688.4,448.2 688.7,445.0 689.0,442.9 689.3,444.6 689.6,446.9 689.8,447.8 690.1,446.4 690.4,448.7 690.7,443.9 691.0,446.4 691.2,440.8 691.5,448.2 691.8,446.3 692.1,444.6 692.4,449.6 692.6,448.2 692.9,437.3 693.2,446.2 693.5,441.7 693.8,449.5 694.0,454.0 694.3,444.7 694.6,446.6 694.9,445.6 695.2,447.5 695.4,448.5 695.7,450.5 696.0,443.6 696.3,451.4 696.6,443.9 696.8,447.6 697.1,450.3 697.4,449.0 697.7,444.0 698.0,444.8 698.2,445.6 698.5,446.8 698.8,450.5 699.1,443.2 699.4,448.5 699.6,449.0 699.9,448.9 700.2,448.6 700.5,451.8 700.8,448.8 701.0,449.9 701.3,449.1 701.6,452.8 701.9,441.8 702.2,451.3 702.4,446.8 702.7,446.7 703.0,444.7 703.3,442.1 703.6,446.6 703.8,445.7 704.1,449.2 704.4,443.4 704.7,452.0 705.0,448.7 705.2,447.2 705.5,445.8 705.8,445.6 706.1,444.7 706.4,446.4 706.6,448.1 706.9,447.6 707.2,444.0 707.5,447.4 707.8,445.6 708.0,448.7 708.3,453.7 708.6,450.1 708.9,447.4 709.2,443.6 709.4,444.3 709.7,443.5 710.0,450.5 710.3,446.3 710.6,448.7 710.8,446.7 711.1,448.8 711.4,452.6 711.7,446.7 712.0,447.7 712.2,446.4 712.5,451.2 712.8,445.8 713.1,445.5 713.4,444.8 713.6,444.8 713.9,450.2 714.2,456.2 714.5,446.1 714.8,451.7 715.0,449.7 715.3,445.9 715.6,448.2 715.9,448.4 716.2,447.1 716.4,454.6 716.7,443.8 717.0,450.3 717.3,450.1 717.6,447.6 717.8,449.7 718.1,451.8 718.4,449.7 718.7,450.5 719.0,451.3 719.2,443.7 719.5,453.6 719.8,455.8 720.1,452.2 720.4,452.3 720.6,445.6 720.9,449.2 721.2,447.3 721.5,448.0 721.8,452.3 722.0,447.4 722.3,449.3 722.6,444.4 722.9,449.3 723.2,450.0 723.4,447.8 723.7,447.8 724.0,455.0 724.3,446.5 724.6,447.0 724.8,447.7 725.1,453.2 725.4,455.7 725.7,450.9 726.0,448.0 726.2,448.8 726.5,452.9 726.8,447.5 727.1,454.1 727.4,454.0 727.6,450.3 727.9,451.9 728.2,452.2 728.5,454.4 728.8,447.3 729.0,453.4 729.3,449.2 729.6,448.2 729.9,450.6 730.2,449.7 730.4,447.6 730.7,446.0 731.0,447.8 731.3,454.3 731.6,455.7 731.8,452.2 732.1,453.6 732.4,449.0 732.7,450.3 733.0,451.2 733.2,447.6 733.5,447.8 733.8,450.8 734.1,449.7 734.4,447.7 734.6,451.6 734.9,449.9 735.2,453.4 735.5,450.6 735.8,449.8 736.0,451.0 736.3,450.2 736.6,448.9 736.9,449.6 737.2,452.7 737.4,452.5 737.7,454.2 738.0,446.2 738.3,449.7 738.6,449.7 738.8,451.3 739.1,449.6 739.4,449.4 739.7,452.9 740.0,451.3 740.2,447.7 740.5,454.4 740.8,453.5 741.1,449.4 741.4,453.1 741.6,448.9 741.9,453.9 742.2,450.3 742.5,448.8 742.8,449.9 743.0,448.9 743.3,451.5 743.6,451.4 743.9,451.1 744.2,449.5 744.4,441.3 744.7,451.3 745.0,446.0 745.3,451.7 745.6,454.0 745.8,451.8 746.1,450.0 746.4,450.6 746.7,450.7 747.0,449.6 747.2,449.5 747.5,448.6 747.8,454.2 748.1,451.1 748.4,453.6 748.6,450.5 748.9,451.3 749.2,450.7 749.5,452.4 749.8,453.3 750.0,451.8 750.3,449.4 750.6,449.1 750.9,455.6 751.2,450.4 751.4,450.4 751.7,455.1 752.0,454.1 752.3,452.6 752.6,450.2 752.8,457.4 753.1,452.3 753.4,452.7 753.7,450.8 754.0,447.5 754.2,447.7 754.5,452.3 754.8,452.3 755.1,450.6 755.4,448.2 755.6,447.5 755.9,450.4 756.2,447.5 756.5,453.7 756.8,454.3 757.0,458.8 757.3,453.6 757.6,449.8 757.9,449.0 758.2,442.3 758.4,449.8 758.7,450.9 759.0,453.9 759.3,453.0 759.6,452.9 759.8,451.9 760.1,453.1 760.4,455.2 760.7,448.6 761.0,450.2 761.2,447.7 761.5,455.6 761.8,454.8 762.1,453.4 762.4,448.3 762.6,451.9 762.9,450.8 763.2,451.6 763.5,450.9 763.8,452.8 764.0,450.4 764.3,453.7 764.6,452.1 764.9,450.7 765.2,451.2 765.4,450.3 765.7,453.6 766.0,450.8 766.3,452.2 766.6,450.5 766.8,447.6 767.1,453.9 767.4,448.7 767.7,453.3 768.0,452.6 768.2,447.2 768.5,449.0 768.8,450.2 769.1,449.4 769.4,448.4 769.6,453.5 769.9,450.9 770.2,452.6 770.5,450.4 770.8,452.4 771.0,449.6 771.3,451.5 771.6,453.1 771.9,451.7 772.2,450.4 772.4,448.8 772.7,452.0 773.0,452.5 773.3,450.9 773.6,449.6 773.8,453.0 774.1,458.1 774.4,450.9 774.7,452.5 775.0,452.6 775.2,445.0 775.5,452.0 775.8,449.8 776.1,455.3 776.4,451.0 776.6,449.7 776.9,451.1 777.2,452.1 777.5,450.3 777.8,451.6 778.0,448.2 778.3,451.2 778.6,453.8 778.9,456.9 779.2,453.6 779.4,452.5 779.7,454.8 780.0,454.4 780.3,456.1 780.6,454.6 780.8,451.5 781.1,452.5 781.4,452.3 781.7,452.6 782.0,452.4 782.2,449.8 782.5,446.4 782.8,450.1 783.1,446.7 783.4,452.1 783.6,451.9 783.9,447.6 784.2,453.7 784.5,454.2 784.8,452.2 785.0,456.3 785.3,456.8 785.6,448.9 785.9,454.7 786.2,453.1 786.4,453.1 786.7,454.4 787.0,450.2 787.3,450.6 787.6,450.0 787.8,450.2 788.1,451.9 788.4,448.4 788.7,449.5 789.0,453.6 789.2,452.0 789.5,453.2 789.8,447.4 790.1,450.2 790.4,450.8 790.6,452.3 790.9,450.8 791.2,454.6 791.5,452.1 791.8,452.3 792.0,452.4 792.3,454.1 792.6,451.2 792.9,455.2 793.2,453.5 793.4,452.8 793.7,452.5 794.0,453.7 794.3,455.0 794.6,454.8 794.8,453.4 795.1,454.7 795.4,452.8 795.7,455.7 796.0,452.5 796.2,447.3 796.5,455.9 796.8,452.8 797.1,449.6 797.4,452.1 797.6,450.4 797.9,457.9 798.2,453.9 798.5,448.7 798.8,454.0 799.0,451.7 799.3,457.5 799.6,450.1 799.9,447.1 800.2,452.9 800.4,451.9 800.7,451.7 801.0,447.4 801.3,453.8 801.6,457.0 801.8,448.0 802.1,455.7 802.4,451.4 802.7,458.7 803.0,453.9 803.2,452.4 803.5,455.6 803.8,454.2 804.1,451.4 804.4,454.7 804.6,451.6 804.9,448.5 805.2,458.0 805.5,452.1 805.8,451.4 806.0,453.8 806.3,449.1 806.6,449.6 806.9,451.7 807.2,451.7 807.4,453.1 807.7,455.8 808.0,451.8 808.3,454.2 808.6,454.5 808.8,450.3 809.1,453.6 809.4,450.7 809.7,455.6 810.0,454.1 810.2,453.0 810.5,449.7 810.8,453.3 811.1,451.1 811.4,454.8 811.6,452.7 811.9,451.0 812.2,455.3 812.5,454.8 812.8,451.5 813.0,455.9 813.3,452.3 813.6,452.2 813.9,453.3 814.2,451.1 814.4,451.9 814.7,452.6 815.0,456.8 815.3,456.7 815.6,452.3 815.8,457.0 816.1,452.9 816.4,453.9 816.7,455.2 817.0,453.7 817.2,459.0 817.5,453.6 817.8,450.0 818.1,456.2 818.4,452.0 818.6,452.2 818.9,445.5 819.2,455.5 819.5,455.0 819.8,455.0 820.0,455.4 820.3,457.2 820.6,452.8 820.9,455.3 821.2,451.1 821.4,452.1 821.7,455.6 822.0,453.9 822.3,449.6 822.6,453.8 822.8,452.5 823.1,450.9 823.4,454.0 823.7,451.9 824.0,449.0 824.2,450.2 824.5,457.3 824.8,449.1 825.1,453.5 825.4,454.4 825.6,454.5 825.9,449.8 826.2,452.1 826.5,453.2 826.8,454.9 827.0,451.3 827.3,450.0 827.6,455.4 827.9,455.6 828.2,453.8 828.4,451.3 828.7,453.8 829.0,453.1 829.3,454.9 829.6,449.7 829.8,453.1 830.1,452.4 830.4,450.0 830.7,453.3 831.0,452.9 831.2,451.7 831.5,453.8 831.8,449.2 832.1,452.6 832.4,453.8 832.6,453.4 832.9,455.4 833.2,449.7 833.5,448.9 833.8,453.3 834.0,453.8 834.3,458.0 834.6,454.2 834.9,450.5 835.2,454.7 835.4,450.5 835.7,448.9 836.0,459.2 836.3,453.4 836.6,454.4 836.8,454.0 837.1,457.1 837.4,453.3 837.7,455.6 838.0,449.9 838.2,449.0 838.5,456.1 838.8,456.2 839.1,453.8 839.4,453.0 839.6,452.9 839.9,450.7 840.2,456.3 840.5,454.1 840.8,453.7 841.0,453.3 841.3,454.9 841.6,453.4 841.9,453.7 842.2,448.4 842.4,452.4 842.7,456.5 843.0,448.6 843.3,449.1 843.6,451.4 843.8,451.0 844.1,449.3 844.4,441.9 844.7,447.6 845.0,441.6 845.2,441.9 845.5,445.7 845.8,442.2 846.1,445.3 846.4,452.8 846.6,443.9 846.9,443.2 847.2,436.7 847.5,437.0 847.8,434.7 848.0,436.0 848.3,433.1 848.6,434.0 848.9,435.0 849.2,431.0 849.4,428.4 849.7,427.8 850.0,434.8 850.3,432.4 850.6,436.1 850.8,435.6 851.1,428.8 851.4,432.8 851.7,422.9 852.0,439.3 852.2,434.1 852.5,427.5 852.8,423.1 853.1,430.0 853.4,419.9 853.6,424.9 853.9,431.8 854.2,428.9 854.5,426.5 854.8,433.1 855.0,424.4 855.3,430.5 855.6,427.2 855.9,425.9 856.2,432.0 856.4,425.7 856.7,439.0 857.0,428.1 857.3,439.9 857.6,426.5 857.8,434.3 858.1,426.6 858.4,426.3 858.7,433.2 859.0,435.7 859.2,427.6 859.5,438.4 859.8,430.4 860.1,434.7 860.4,436.2 860.6,437.5 860.9,428.3 861.2,442.5 861.5,438.8 861.8,435.4 862.0,433.7 862.3,431.7 862.6,433.5 862.9,441.1 863.2,438.3 863.4,435.9 863.7,438.5 864.0,446.4 864.3,440.0 864.6,439.4 864.8,446.4 865.1,443.5 865.4,442.2 865.7,440.1 866.0,437.1 866.2,438.6 866.5,441.1 866.8,442.1 867.1,444.2 867.4,445.0 867.6,444.0 867.9,444.2 868.2,440.2 868.5,436.5 868.8,442.1 869.0,440.8 869.3,441.9 869.6,443.3 869.9,440.2 870.2,440.8 870.4,444.2 870.7,445.0 871.0,442.6 871.3,446.4 871.6,444.2 871.8,441.8 872.1,445.3 872.4,451.2 872.7,443.2 873.0,449.1 873.2,449.9 873.5,450.3 873.8,443.1 874.1,452.1 874.4,446.2 874.6,445.1 874.9,445.3 875.2,448.0 875.5,446.3 875.8,445.7 876.0,450.3 876.3,444.2 876.6,443.2 876.9,448.9 877.2,448.7 877.4,450.0 877.7,443.5 878.0,450.1 878.3,448.3 878.6,452.2 878.8,443.2 879.1,447.7 879.4,446.3 879.7,442.4 880.0,445.1 880.2,450.7 880.5,445.9 880.8,445.2 881.1,450.0 881.4,450.5 881.6,450.5 881.9,445.3 882.2,447.5 882.5,450.8 882.8,445.9 883.0,445.7 883.3,450.4 883.6,452.6 883.9,444.7 884.2,440.5 884.4,443.9 884.7,445.3 885.0,447.9 885.3,450.1 885.6,448.0 885.8,446.4 886.1,448.9 886.4,445.8 886.7,448.5 887.0,446.8 887.2,456.4 887.5,451.1 887.8,446.4 888.1,446.0 888.4,447.7 888.6,444.3 888.9,446.9 889.2,447.0 889.5,451.6 889.8,448.0 890.0,447.0 890.3,445.5 890.6,446.0 890.9,449.2 891.2,448.8 891.4,452.6 891.7,447.7 892.0,452.5 892.3,450.3 892.6,449.6 892.8,444.1 893.1,446.2 893.4,451.8 893.7,453.7 894.0,450.4 894.2,452.0 894.5,448.8 894.8,449.0 895.1,448.2 895.4,452.8 895.6,451.1 895.9,449.5 896.2,449.3 896.5,451.8 896.8,451.2 897.0,448.1 897.3,455.0 897.6,451.1 897.9,450.5 898.2,454.5 898.4,453.3 898.7,450.3 899.0,452.1 899.3,447.8 899.6,449.0 899.8,444.7 900.1,454.0 900.4,445.7 900.7,452.7 901.0,448.7 901.2,448.3 901.5,450.4 901.8,451.7 902.1,452.7 902.4,455.8 902.6,452.1 902.9,453.5 903.2,449.6 903.5,453.1 903.8,451.7 904.0,450.1 904.3,451.1 904.6,451.2 904.9,451.9 905.2,452.5 905.4,450.1 905.7,449.6 906.0,453.5 906.3,447.1 906.6,450.0 906.8,455.7 907.1,444.6 907.4,449.9 907.7,453.5 908.0,447.5 908.2,458.5 908.5,445.1 908.8,455.6 909.1,455.9 909.4,454.3 909.6,451.4 909.9,452.9 910.2,449.7 910.5,454.1 910.8,449.2 911.0,451.4 911.3,454.7 911.6,449.3 911.9,451.3 912.2,452.7 912.4,448.9 912.7,455.3 913.0,453.2 913.3,448.5 913.6,452.3 913.8,450.5 914.1,450.8 914.4,452.7 914.7,450.8 915.0,455.0 915.2,450.8 915.5,455.1 915.8,452.6 916.1,454.9 916.4,451.4 916.6,451.5 916.9,449.9 917.2,454.3 917.5,455.2 917.8,458.2 918.0,456.1 918.3,453.6 918.6,452.5 918.9,454.0 919.2,453.0 919.4,456.7 919.7,455.5 920.0,451.1 920.3,451.5 920.6,456.6 920.8,454.0 921.1,452.7 921.4,456.2 921.7,452.4 922.0,452.7 922.2,452.3 922.5,448.7 922.8,455.6 923.1,450.6 923.4,452.2 923.6,451.8 923.9,455.4 924.2,453.5 924.5,453.7 924.8,449.6 925.0,453.5 925.3,450.2 925.6,454.5 925.9,454.7 926.2,453.8 926.4,458.8 926.7,455.2 927.0,455.4 927.3,454.3 927.6,453.6 927.8,456.3 928.1,456.7 928.4,451.0 928.7,456.6 929.0,455.4 929.2,456.5 929.5,455.3 929.8,451.3 930.1,451.5 930.4,458.6 930.6,454.9 930.9,451.0 931.2,455.2 931.5,453.6 931.8,450.1 932.0,449.1 932.3,450.7 932.6,455.2 932.9,454.4 933.2,454.0 933.4,455.3 933.7,456.0 934.0,449.8 934.3,454.0 934.6,452.8 934.8,451.9 935.1,453.5 935.4,454.5 935.7,454.2 936.0,451.5 936.2,453.7 936.5,459.5 936.8,452.5 937.1,451.0 937.4,455.6 937.6,456.3 937.9,456.1 938.2,452.4 938.5,457.3 938.8,453.2 939.0,452.5 939.3,453.7 939.6,454.9 939.9,456.8 940.2,456.6 940.4,455.1 940.7,457.3 941.0,455.4 941.3,457.3 941.6,452.0 941.8,451.6 942.1,457.1 942.4,452.1 942.7,454.6 943.0,455.1 943.2,454.2 943.5,454.3 943.8,458.6 944.1,449.6 944.4,457.4 944.6,460.7 944.9,455.5 945.2,455.4 945.5,457.1 945.8,459.7 946.0,452.7 946.3,455.7 946.6,455.1 946.9,456.8 947.2,455.9 947.4,457.0 947.7,454.6 948.0,455.7 948.3,454.0 948.6,454.0 948.8,455.3 949.1,455.3 949.4,452.9 949.7,459.2 950.0,455.3 950.2,452.5 950.5,458.2 950.8,453.9 951.1,456.8 951.4,455.6 951.6,456.3 951.9,456.1 952.2,454.4 952.5,455.8 952.8,460.4 953.0,450.6 953.3,455.9 953.6,456.8 953.9,453.3 954.2,452.6 954.4,460.8 954.7,454.9 955.0,460.6 955.3,457.0 955.6,456.0 955.8,456.9 956.1,457.3 956.4,458.6 956.7,456.9 957.0,456.2 957.2,456.3 957.5,459.0 957.8,457.8 958.1,453.6 958.4,454.4 958.6,456.7 958.9,454.5 959.2,455.1 959.5,453.7 959.8,455.3 960.0,456.9 960.3,458.3 960.6,456.0 960.9,460.7 961.2,455.8 961.4,463.3 961.7,458.3 962.0,457.1 962.3,454.9 962.6,449.5 962.8,455.7 963.1,456.4 963.4,460.5 963.7,452.9 964.0,460.4 964.2,455.5 964.5,457.7 964.8,450.2 965.1,456.4 965.4,455.3 965.6,457.6 965.9,456.3 966.2,453.4 966.5,458.3 966.8,457.7 967.0,457.5 967.3,458.4 967.6,458.6 967.9,456.0 968.2,453.0 968.4,452.9 968.7,459.2 969.0,457.7 969.3,456.3 969.6,455.1 969.8,456.2 970.1,456.2 970.4,455.3" fill="none" stroke="#1f9a86" stroke-width="3.0" stroke-linejoin="round" stroke-linecap="round"/>
<path d="M97.3,513.9 97.7,521.1 98.1,524.3 98.4,528.2 98.8,532.1 99.1,536.7 99.5,541.6 99.9,545.3 100.2,548.2 100.6,551.7 100.9,554.4 101.3,556.8 101.7,561.8 102.0,563.8 102.4,567.7 102.7,568.0 103.1,570.4 103.5,572.9 103.8,573.5 104.2,573.5 104.5,575.4 104.9,578.0 105.3,579.6 105.6,580.3 106.0,582.4 106.3,583.3 106.7,583.6 107.1,584.0 107.4,584.3 107.8,585.2 108.1,585.6 108.5,584.8 108.9,584.9 109.2,583.7 109.6,581.5 109.9,582.1 110.3,583.6 110.7,583.0 111.0,583.4 111.4,582.7 111.7,583.7 112.1,585.1 112.5,586.2 112.8,585.5 113.2,587.3 113.5,588.5 113.9,588.5 114.3,590.0 114.6,591.1 115.0,589.5 115.3,593.4 115.7,590.3 116.1,590.7 116.4,590.9 116.8,590.5 117.1,592.4 117.5,592.0 117.9,594.7 118.2,593.3 118.6,593.4 118.9,592.5 119.3,590.9 119.7,593.0 120.0,592.0 120.4,594.9 120.7,593.6 121.1,596.3 121.5,595.0 121.8,595.3 122.2,594.5 122.5,594.6 122.9,595.4 123.3,595.9 123.6,593.6 124.0,595.5 124.3,598.9 124.7,594.8 125.1,594.7 125.4,594.1 125.8,593.1 126.1,597.2 126.5,595.6 126.9,596.0 127.2,598.5 127.6,599.6 127.9,594.5 128.3,597.6 128.7,597.0 129.0,596.8 129.4,597.0 129.7,596.3 130.1,598.8 130.5,597.5 130.8,597.1 131.2,598.6 131.5,598.1 131.9,597.6 132.3,597.4 132.6,599.6 133.0,597.9 133.3,597.0 133.7,596.0 134.1,596.8 134.4,595.8 134.8,597.6 135.1,597.9 135.5,594.6 135.9,597.7 136.2,598.7 136.6,598.1 136.9,596.5 137.3,599.8 137.7,597.0 138.0,596.3 138.4,596.5 138.7,598.2 139.1,599.7 139.5,600.0 139.8,598.7 140.2,596.7 140.5,597.5 140.9,597.2 141.3,598.4 141.6,596.1 142.0,598.9 142.3,599.7 142.7,598.6 143.1,599.6 143.4,597.6 143.8,596.9 144.1,598.1 144.5,600.8 144.9,600.7 145.2,598.6 145.6,601.1 145.9,598.9 146.3,601.6 146.7,600.2 147.0,598.8 147.4,600.7 147.7,598.5 148.1,598.3 148.5,597.6 148.8,600.1 149.2,599.7 149.5,599.8 149.9,599.3 150.3,602.1 150.6,599.4 151.0,599.0 151.3,601.9 151.7,602.3 152.1,600.7 152.4,597.8 152.8,599.5 153.1,601.3 153.5,600.5 153.9,602.8 154.2,598.6 154.6,601.6 154.9,599.8 155.3,602.7 155.7,600.7 156.0,602.4 156.4,600.0 156.7,599.0 157.1,599.5 157.5,600.3 157.8,599.7 158.2,603.0 158.5,603.2 158.9,601.8 159.3,600.0 159.6,601.3 160.0,600.6 160.3,603.7 160.7,602.1 161.1,602.4 161.4,601.2 161.8,599.0 162.1,600.8 162.5,600.4 162.9,602.5 163.2,602.2 163.6,601.0 163.9,601.6 164.3,604.4 164.7,600.9 165.0,601.0 165.4,602.0 165.7,601.4 166.1,601.8 166.5,603.2 166.8,605.0 167.2,600.1 167.5,602.6 167.9,602.7 168.3,602.6 168.6,602.5 169.0,602.3 169.3,604.2 169.7,602.2 170.1,602.7 170.4,602.9 170.8,603.0 171.1,602.7 171.5,604.3 171.9,602.9 172.2,603.2 172.6,602.9 172.9,601.6 173.3,601.8 173.7,601.5 174.0,603.3 174.4,602.0 174.7,601.5 175.1,603.3 175.5,603.7 175.8,600.5 176.2,605.3 176.5,603.0 176.9,602.8 177.3,604.5 177.6,603.1 178.0,602.1 178.3,606.0 178.7,601.4 179.1,602.8 179.4,604.1 179.8,601.4 180.1,602.7 180.5,603.4 180.9,606.2 181.2,601.6 181.6,602.7 181.9,603.7 182.3,602.9 182.7,601.0 183.0,603.3 183.4,602.8 183.7,603.3 184.1,604.2 184.5,604.0 184.8,603.1 185.2,602.9 185.5,600.9 185.9,602.2 186.3,602.7 186.6,601.8 187.0,602.5 187.3,601.1 187.7,604.4 188.1,605.2 188.4,601.6 188.8,602.7 189.1,601.7 189.5,603.8 189.9,602.6 190.2,602.0 190.6,601.5 190.9,602.0 191.3,600.3 191.7,602.6 192.0,600.6 192.4,602.2 192.7,601.6 193.1,602.6 193.5,601.2 193.8,602.1 194.2,599.7 194.5,601.1 194.9,599.9 195.3,600.0 195.6,599.4 196.0,600.0 196.3,595.9 196.7,598.3 197.1,595.4 197.4,598.3 197.8,593.6 198.1,594.2 198.5,592.6 198.9,596.4 199.2,591.7 199.6,592.9 199.9,591.3 200.3,589.0 200.7,590.1 201.0,590.4 201.4,588.6 201.7,588.7 202.1,586.3 202.5,585.5 202.8,583.8 203.2,583.1 203.5,583.2 203.9,580.1 204.3,578.2 204.6,575.7 205.0,573.6 205.3,573.6 205.7,569.1 206.1,567.1 206.4,565.3 206.8,562.7 207.1,560.2 207.5,554.8 207.9,551.0 208.2,545.9 208.6,539.3 208.9,533.4 209.3,528.1 209.7,522.6 210.0,514.8 210.4,508.1 210.7,501.4 211.1,494.3 211.5,484.7 211.8,477.0 212.2,471.8 212.5,466.6 212.9,462.2 213.3,458.5 213.6,457.3 214.0,458.9 214.3,462.9 214.7,467.7 215.1,472.2 215.4,479.5 215.8,488.9 216.1,497.2 216.5,505.8 216.9,513.5 217.2,519.6 217.6,525.6 217.9,531.2 218.3,537.0 218.7,542.3 219.0,547.6 219.4,551.8 219.7,556.1 220.1,559.6 220.5,563.2 220.8,565.2 221.2,567.1 221.5,569.8 221.9,571.7 222.3,574.2 222.6,575.5 223.0,578.5 223.3,579.7 223.7,579.8 224.1,580.8 224.4,583.5 224.8,584.4 225.1,584.9 225.5,584.5 225.9,585.1 226.2,588.5 226.6,589.8 226.9,590.7 227.3,589.0 227.7,592.6 228.0,591.1 228.4,593.1 228.7,593.8 229.1,592.7 229.5,593.6 229.8,592.1 230.2,594.3 230.5,593.6 230.9,597.1 231.3,597.1 231.6,598.6 232.0,598.3 232.3,597.4 232.7,599.0 233.1,598.4 233.4,599.9 233.8,599.8 234.1,598.5 234.5,599.9 234.9,600.1 235.2,599.7 235.6,601.5 235.9,602.8 236.3,599.9 236.7,600.0 237.0,597.5 237.4,600.6 237.7,600.2 238.1,597.9 238.5,601.4 238.8,601.9 239.2,600.1 239.5,600.7 239.9,600.0 240.3,602.5 240.6,599.3 241.0,601.1 241.3,604.4 241.7,601.7 242.1,602.4 242.4,601.6 242.8,600.2 243.1,601.9 243.5,602.5 243.9,600.6 244.2,602.5 244.6,603.9 244.9,603.7 245.3,600.0 245.7,600.9 246.0,600.0 246.4,603.8 246.7,603.2 247.1,603.4 247.5,601.2 247.8,600.9 248.2,602.7 248.5,602.7 248.9,601.4 249.3,602.9 249.6,603.6 250.0,603.0 250.3,601.3 250.7,599.8 251.1,602.5 251.4,603.1 251.8,602.5 252.1,602.3 252.5,602.0 252.9,604.0 253.2,602.9 253.6,603.2 253.9,601.7 254.3,602.3 254.7,603.4 255.0,601.8 255.4,601.5 255.7,602.8 256.1,605.0 256.5,603.6 256.8,605.4 257.2,603.2 257.5,603.0 257.9,601.5 258.3,602.7 258.6,605.5 259.0,604.0 259.3,604.6 259.7,604.6 260.1,603.6 260.4,603.4 260.8,603.9 261.1,604.7 261.5,604.4 261.9,604.5 262.2,604.0 262.6,602.8 262.9,603.5 263.3,602.6 263.7,605.3 264.0,601.1 264.4,603.7 264.7,607.3 265.1,603.6 265.5,602.5 265.8,604.1 266.2,605.9 266.5,603.9 266.9,605.0 267.3,604.3 267.6,603.7 268.0,608.5 268.3,604.3 268.7,603.5 269.1,603.6 269.4,604.8 269.8,604.9 270.1,605.4 270.5,604.5 270.9,602.4 271.2,605.1 271.6,604.0 271.9,604.0 272.3,602.4 272.7,603.6 273.0,603.4 273.4,604.4 273.7,602.5 274.1,604.5 274.5,604.6 274.8,603.0 275.2,603.6 275.5,603.3 275.9,605.7 276.3,601.1 276.6,604.0 277.0,602.2 277.3,603.9 277.7,605.7 278.1,603.6 278.4,604.7 278.8,603.3 279.1,607.1 279.5,605.7 279.9,606.0 280.2,602.6 280.6,602.9 280.9,605.9 281.3,604.2 281.7,604.1 282.0,604.9 282.4,602.7 282.7,605.4 283.1,604.4 283.5,605.0 283.8,603.4 284.2,605.0 284.5,603.3 284.9,605.6 285.3,605.8 285.6,605.5 286.0,604.9 286.3,605.1 286.7,600.5 287.1,605.3 287.4,603.7 287.8,604.2 288.1,603.7 288.5,602.1 288.9,603.3 289.2,604.9 289.6,605.9 289.9,603.1 290.3,602.7 290.7,605.9 291.0,602.6 291.4,606.7 291.7,603.9 292.1,602.6 292.5,605.1 292.8,606.1 293.2,601.7 293.5,605.8 293.9,603.2 294.3,605.7 294.6,603.0 295.0,601.3 295.3,604.2 295.7,604.8 296.1,606.4 296.4,605.8 296.8,604.4 297.1,603.0 297.5,602.6 297.9,602.9 298.2,602.1 298.6,602.8 298.9,599.6 299.3,603.4 299.7,603.1 300.0,606.7 300.4,604.1 300.7,602.4 301.1,603.8 301.5,601.3 301.8,602.1 302.2,600.3 302.5,604.9 302.9,603.7 303.3,601.2 303.6,602.7 304.0,604.1 304.3,603.4 304.7,603.3 305.1,601.5 305.4,601.8 305.8,602.8 306.1,603.9 306.5,601.4 306.9,601.0 307.2,604.1 307.6,601.2 307.9,604.0 308.3,602.8 308.7,603.6 309.0,604.8 309.4,603.3 309.7,603.4 310.1,600.9 310.5,601.2 310.8,603.1 311.2,604.3 311.5,604.1 311.9,605.3 312.3,602.5 312.6,602.3 313.0,603.4 313.3,601.9 313.7,601.8 314.1,600.3 314.4,603.2 314.8,600.2 315.1,602.4 315.5,599.6 315.9,603.2 316.2,600.1 316.6,602.7 316.9,599.2 317.3,600.8 317.7,603.0 318.0,600.2 318.4,601.4 318.7,600.5 319.1,597.9 319.5,601.5 319.8,601.7 320.2,599.4 320.5,601.7 320.9,599.7 321.3,599.4 321.6,600.7 322.0,599.7 322.3,603.9 322.7,598.3 323.1,601.5 323.4,601.8 323.8,597.5 324.1,597.8 324.5,601.0 324.9,599.4 325.2,600.6 325.6,601.6 325.9,599.3 326.3,598.3 326.7,595.8 327.0,599.9 327.4,598.2 327.7,599.8 328.1,599.6 328.5,597.2 328.8,601.4 329.2,600.4 329.5,599.9 329.9,596.9 330.3,597.8 330.6,597.5 331.0,597.5 331.3,596.3 331.7,598.4 332.1,597.9 332.4,597.9 332.8,596.4 333.1,598.8 333.5,597.0 333.9,592.5 334.2,595.3 334.6,595.9 334.9,597.2 335.3,595.1 335.7,594.9 336.0,594.0 336.4,595.7 336.7,593.8 337.1,593.2 337.5,592.7 337.8,594.3 338.2,592.4 338.5,590.3 338.9,593.4 339.3,591.1 339.6,592.3 340.0,592.0 340.3,592.7 340.7,591.9 341.1,589.5 341.4,589.5 341.8,587.6 342.1,590.4 342.5,588.2 342.9,588.6 343.2,585.7 343.6,582.8 343.9,586.1 344.3,583.4 344.7,582.4 345.0,581.2 345.4,580.7 345.7,579.4 346.1,575.5 346.5,577.6 346.8,574.2 347.2,572.9 347.5,573.8 347.9,571.3 348.3,568.8 348.6,566.1 349.0,564.8 349.3,562.4 349.7,559.1 350.1,554.2 350.4,552.4 350.8,549.4 351.1,547.7 351.5,545.7 351.9,543.8 352.2,540.9 352.6,540.2 352.9,538.8 353.3,536.4 353.7,535.4 354.0,535.4 354.4,533.9 354.7,533.9 355.1,533.8 355.5,534.9 355.8,535.2 356.2,537.7 356.5,540.7 356.9,544.5 357.3,545.3 357.6,546.1 358.0,547.1 358.3,548.7 358.7,551.3 359.1,554.6 359.4,555.2 359.8,560.1 360.1,560.5 360.5,562.5 360.9,565.3 361.2,566.8 361.6,568.5 361.9,571.6 362.3,571.7 362.7,573.3 363.0,575.6 363.4,576.8 363.7,575.6 364.1,578.9 364.5,578.6 364.8,579.1 365.2,580.5 365.5,578.9 365.9,580.5 366.3,582.1 366.6,583.8 367.0,583.2 367.3,584.2 367.7,586.4 368.1,587.6 368.4,587.3 368.8,588.6 369.1,586.8 369.5,587.5 369.9,588.9 370.2,588.5 370.6,588.7 370.9,592.4 371.3,590.1 371.7,589.5 372.0,592.1 372.4,594.5 372.7,592.4 373.1,594.5 373.5,592.5 373.8,592.8 374.2,592.9 374.5,594.0 374.9,597.2 375.3,593.3 375.6,597.6 376.0,594.2 376.3,595.5 376.7,597.3 377.1,597.3 377.4,597.0 377.8,594.6 378.1,597.6 378.5,595.8 378.9,601.3 379.2,597.4 379.6,598.2 379.9,596.4 380.3,597.6 380.7,596.6 381.0,600.1 381.4,598.5 381.7,599.8 382.1,598.2 382.5,598.7 382.8,601.4 383.2,598.3 383.5,597.3 383.9,600.6 384.3,598.6 384.6,599.7 385.0,601.7 385.3,599.4 385.7,601.9 386.1,599.9 386.4,602.9 386.8,602.8 387.1,600.4 387.5,600.9 387.9,600.1 388.2,601.6 388.6,602.9 388.9,599.5 389.3,602.7 389.7,599.7 390.0,600.3 390.4,599.0 390.7,604.5 391.1,601.6 391.5,601.9 391.8,600.6 392.2,603.1 392.5,598.6 392.9,601.6 393.3,604.7 393.6,601.1 394.0,601.7 394.3,602.6 394.7,600.5 395.1,601.7 395.4,603.0 395.8,601.9 396.1,602.2 396.5,601.2 396.9,602.1 397.2,601.8 397.6,603.8 397.9,602.7 398.3,601.4 398.7,598.2 399.0,602.7 399.4,602.8 399.7,600.4 400.1,598.9 400.5,600.1 400.8,603.1 401.2,600.2 401.5,601.1 401.9,602.1 402.3,603.5 402.6,601.7 403.0,601.6 403.3,601.0 403.7,604.1 404.1,603.3 404.4,601.7 404.8,599.8 405.1,600.7 405.5,602.6 405.9,600.8 406.2,603.1 406.6,602.3 406.9,602.3 407.3,602.8 407.7,602.6 408.0,600.6 408.4,601.4 408.7,605.2 409.1,600.2 409.5,601.2 409.8,603.4 410.2,601.7 410.5,600.8 410.9,600.0 411.3,602.7 411.6,603.4 412.0,603.9 412.3,602.0 412.7,603.4 413.1,600.5 413.4,602.2 413.8,601.0 414.1,602.3 414.5,603.1 414.9,603.5 415.2,600.6 415.6,603.9 415.9,601.4 416.3,600.6 416.7,601.9 417.0,600.0 417.4,602.1 417.7,602.5 418.1,601.9 418.5,602.9 418.8,601.7 419.2,602.2 419.5,600.2 419.9,602.3 420.3,601.0 420.6,601.6 421.0,602.1 421.3,602.5 421.7,600.0 422.1,600.1 422.4,601.9 422.8,603.0 423.1,602.9 423.5,603.6 423.9,604.2 424.2,603.1 424.6,602.4 424.9,601.0 425.3,601.1 425.7,601.8 426.0,602.9 426.4,602.8 426.7,602.5 427.1,602.3 427.5,603.4 427.8,602.9 428.2,603.0 428.5,603.0 428.9,601.8 429.3,601.2 429.6,603.3 430.0,603.2 430.3,602.4 430.7,602.1 431.1,605.9 431.4,601.7 431.8,602.4 432.1,603.1 432.5,601.2 432.9,603.0 433.2,605.3 433.6,604.1 433.9,603.7 434.3,603.7 434.7,603.0 435.0,604.2 435.4,602.7 435.7,602.3 436.1,603.1 436.5,604.2 436.8,603.4 437.2,603.9 437.5,600.2 437.9,604.7 438.3,606.3 438.6,604.9 439.0,602.6 439.3,601.9 439.7,603.5 440.1,601.7 440.4,604.1 440.8,602.4 441.1,604.5 441.5,605.0 441.9,600.3 442.2,603.6 442.6,602.2 442.9,601.2 443.3,602.3 443.7,602.9 444.0,604.7 444.4,601.1 444.7,604.7 445.1,606.1 445.5,604.1 445.8,604.0 446.2,603.3 446.5,601.6 446.9,604.0 447.3,603.8 447.6,604.3 448.0,606.9 448.3,604.3 448.7,603.9 449.1,605.5 449.4,601.5 449.8,601.8 450.1,602.8 450.5,602.5 450.9,604.3 451.2,602.9 451.6,605.8 451.9,605.5 452.3,604.5 452.7,602.9 453.0,604.2 453.4,604.5 453.7,601.9 454.1,603.9 454.5,604.4 454.8,603.7 455.2,605.6 455.5,605.1 455.9,602.3 456.3,603.6 456.6,602.2 457.0,604.2 457.3,602.2 457.7,604.7 458.1,603.9 458.4,604.7 458.8,603.2 459.1,601.4 459.5,605.8 459.9,603.1 460.2,605.3 460.6,603.9 460.9,604.3 461.3,605.9 461.7,603.8 462.0,605.3 462.4,601.2 462.7,604.5 463.1,602.9 463.5,603.1 463.8,603.3 464.2,603.7 464.5,605.5 464.9,600.6 465.3,603.3 465.6,602.2 466.0,604.8 466.3,602.6 466.7,603.8 467.1,602.6 467.4,604.1 467.8,604.5 468.1,602.5 468.5,603.1 468.9,601.1 469.2,603.5 469.6,604.2 469.9,602.2 470.3,604.5 470.7,600.1 471.0,600.4 471.4,601.0 471.7,602.2 472.1,602.9 472.5,602.8 472.8,602.7 473.2,603.8 473.5,602.1 473.9,601.0 474.3,601.0 474.6,605.7 475.0,599.4 475.3,602.4 475.7,604.7 476.1,603.3 476.4,601.4 476.8,602.6 477.1,603.8 477.5,604.2 477.9,601.2 478.2,603.6 478.6,602.8 478.9,604.0 479.3,604.4 479.7,601.9 480.0,600.3 480.4,602.9 480.7,604.8 481.1,603.2 481.5,602.6 481.8,605.6 482.2,600.7 482.5,603.4 482.9,601.3 483.3,602.2 483.6,602.2 484.0,604.2 484.3,600.7 484.7,601.2 485.1,599.7 485.4,602.6 485.8,601.2 486.1,602.4 486.5,600.3 486.9,601.3 487.2,603.2 487.6,601.5 487.9,602.6 488.3,602.4 488.7,601.1 489.0,599.4 489.4,602.9 489.7,601.7 490.1,602.8 490.5,598.5 490.8,599.0 491.2,598.2 491.5,600.0 491.9,602.7 492.3,601.9 492.6,601.0 493.0,601.2 493.3,602.0 493.7,600.4 494.1,601.4 494.4,600.9 494.8,597.6 495.1,600.1 495.5,602.5 495.9,599.9 496.2,600.2 496.6,599.4 496.9,599.5 497.3,601.7 497.7,599.7 498.0,598.5 498.4,595.4 498.7,598.9 499.1,596.8 499.5,596.9 499.8,600.6 500.2,600.4 500.5,596.5 500.9,600.4 501.3,599.7 501.6,597.8 502.0,599.8 502.3,596.3 502.7,596.8 503.1,596.3 503.4,596.6 503.8,599.4 504.1,596.0 504.5,596.1 504.9,596.3 505.2,597.8 505.6,597.0 505.9,598.0 506.3,596.1 506.7,595.0 507.0,595.4 507.4,595.5 507.7,593.7 508.1,594.7 508.5,596.6 508.8,592.3 509.2,592.6 509.5,593.7 509.9,590.7 510.3,590.1 510.6,589.4 511.0,590.7 511.3,590.7 511.7,589.7 512.1,589.8 512.4,591.6 512.8,590.8 513.1,587.2 513.5,589.2 513.9,589.2 514.2,590.1 514.6,588.5 514.9,587.8 515.3,588.0 515.7,585.9 516.0,588.5 516.4,587.5 516.7,589.1 517.1,586.8 517.5,587.6 517.8,586.9 518.2,587.0 518.5,589.0 518.9,588.0 519.3,589.1 519.6,588.0 520.0,589.7 520.3,588.1 520.7,590.2 521.1,590.7 521.4,593.0 521.8,593.0 522.1,593.2 522.5,594.8 522.9,594.5 523.2,595.3 523.6,596.0 523.9,595.1 524.3,595.1 524.7,596.3 525.0,595.5 525.4,596.9 525.7,598.2 526.1,598.1 526.5,596.6 526.8,595.6 527.2,597.5 527.5,597.6 527.9,599.5 528.3,597.7 528.6,598.1 529.0,599.4 529.3,598.0 529.7,598.5 530.1,601.0 530.4,600.7 530.8,599.7 531.1,599.2 531.5,597.4 531.9,599.6 532.2,598.9 532.6,599.1 532.9,598.0 533.3,598.8 533.7,598.5 534.0,599.2 534.4,600.8 534.7,599.2 535.1,596.3 535.5,597.3 535.8,596.3 536.2,597.5 536.5,599.4 536.9,599.1 537.3,597.6 537.6,598.9 538.0,597.3 538.3,596.3 538.7,596.3 539.1,597.1 539.4,600.4 539.8,596.3 540.1,600.0 540.5,600.1 540.9,597.8 541.2,598.0 541.6,597.1 541.9,597.9 542.3,598.9 542.7,597.9 543.0,599.3 543.4,599.5 543.7,598.2 544.1,598.1 544.5,597.5 544.8,598.0 545.2,595.8 545.5,598.0 545.9,597.6 546.3,596.1 546.6,600.1 547.0,595.8 547.3,595.8 547.7,597.2 548.1,594.0 548.4,595.4 548.8,594.1 549.1,594.7 549.5,595.7 549.9,596.1 550.2,597.0 550.6,596.4 550.9,596.7 551.3,595.6 551.7,593.7 552.0,595.9 552.4,593.2 552.7,592.7 553.1,595.7 553.5,594.4 553.8,593.3 554.2,593.9 554.5,593.8 554.9,590.3 555.3,592.0 555.6,590.2 556.0,592.0 556.3,590.7 556.7,593.5 557.1,592.1 557.4,590.2 557.8,591.2 558.1,589.4 558.5,591.2 558.9,592.0 559.2,591.5 559.6,588.0 559.9,590.5 560.3,591.8 560.7,591.5 561.0,592.8 561.4,588.9 561.7,591.8 562.1,589.9 562.5,591.2 562.8,591.5 563.2,591.9 563.5,589.9 563.9,591.1 564.3,588.9 564.6,588.5 565.0,591.6 565.3,590.6 565.7,588.1 566.1,589.3 566.4,590.7 566.8,593.1 567.1,592.3 567.5,591.9 567.9,587.8 568.2,590.5 568.6,591.4 568.9,591.2 569.3,591.3 569.7,590.2 570.0,593.3 570.4,592.9 570.7,590.5 571.1,589.2 571.5,593.8 571.8,589.9 572.2,592.6 572.5,593.8 572.9,589.5 573.3,591.5 573.6,590.6 574.0,592.0 574.3,591.8 574.7,594.4 575.1,592.5 575.4,591.7 575.8,593.6 576.1,591.6 576.5,591.6 576.9,595.7 577.2,591.1 577.6,591.8 577.9,592.8 578.3,591.2 578.7,589.8 579.0,594.9 579.4,592.2 579.7,592.7 580.1,593.1 580.5,592.4 580.8,592.4 581.2,594.4 581.5,598.0 581.9,595.6 582.3,595.8 582.6,592.5 583.0,594.9 583.3,593.3 583.7,596.4 584.1,595.0 584.4,595.5 584.8,595.4 585.1,594.8 585.5,593.5 585.9,596.7 586.2,593.9 586.6,594.3 586.9,595.7 587.3,595.2 587.7,596.8 588.0,598.0 588.4,597.0 588.7,597.0 589.1,596.8 589.5,598.2 589.8,594.2 590.2,597.7 590.5,595.8 590.9,595.5 591.3,597.5 591.6,597.0 592.0,598.5 592.3,599.4 592.7,594.4 593.1,597.9 593.4,601.0 593.8,599.4 594.1,600.4 594.5,598.5 594.9,596.4 595.2,596.9 595.6,599.7 595.9,600.1 596.3,597.7 596.7,598.5 597.0,599.3 597.4,596.5 597.7,598.6 598.1,601.5 598.5,602.4 598.8,599.2 599.2,602.0 599.5,598.7 599.9,598.3 600.3,596.3 600.6,600.9 601.0,599.1 601.3,602.9 601.7,600.1 602.1,599.9 602.4,597.1 602.8,601.8 603.1,599.2 603.5,599.5 603.9,596.5 604.2,601.1 604.6,601.2 604.9,598.8 605.3,599.8 605.7,600.3 606.0,601.1 606.4,599.9 606.7,602.2 607.1,599.3 607.5,598.8 607.8,599.0 608.2,596.0 608.5,598.5 608.9,601.2 609.3,600.1 609.6,598.5 610.0,600.2 610.3,596.7 610.7,599.3 611.1,600.4 611.4,600.7 611.8,598.5 612.1,601.0 612.5,602.4 612.9,599.0 613.2,600.7 613.6,597.3 613.9,596.7 614.3,600.5 614.7,599.7 615.0,599.9 615.4,598.7 615.7,599.1 616.1,600.8 616.5,602.1 616.8,599.2 617.2,597.1 617.5,601.4 617.9,600.4 618.3,600.5 618.6,599.8 619.0,602.9 619.3,599.6 619.7,600.2 620.1,596.8 620.4,598.6 620.8,598.4 621.1,599.4 621.5,599.9 621.9,598.4 622.2,601.8 622.6,597.9 622.9,598.7 623.3,599.6 623.7,597.5 624.0,600.0 624.4,600.0 624.7,598.7 625.1,601.7 625.5,599.1 625.8,599.3 626.2,597.4 626.5,596.3 626.9,597.7 627.3,598.1 627.6,597.8 628.0,599.5 628.3,594.7 628.7,596.5 629.1,595.4 629.4,599.9 629.8,597.0 630.1,597.0 630.5,596.0 630.9,598.9 631.2,596.8 631.6,597.7 631.9,594.2 632.3,598.9 632.7,597.6 633.0,597.8 633.4,598.7 633.7,596.5 634.1,596.4 634.5,597.6 634.8,597.1 635.2,596.0 635.5,596.4 635.9,595.5 636.3,597.2 636.6,597.5 637.0,596.0 637.3,598.8 637.7,593.6 638.1,595.5 638.4,598.4 638.8,595.2 639.1,593.4 639.5,597.8 639.9,596.5 640.2,593.9 640.6,596.9 640.9,594.1 641.3,593.6 641.7,595.4 642.0,594.9 642.4,593.9 642.7,595.0 643.1,594.0 643.5,595.6 643.8,595.5 644.2,596.6 644.5,594.8 644.9,593.4 645.3,593.4 645.6,595.0 646.0,597.8 646.3,596.7 646.7,594.4 647.1,596.8 647.4,593.6 647.8,596.9 648.1,594.7 648.5,596.5 648.9,596.2 649.2,594.9 649.6,595.8 649.9,593.6 650.3,595.1 650.7,596.9 651.0,601.5 651.4,596.3 651.7,595.3 652.1,593.6 652.5,596.8 652.8,592.6 653.2,593.9 653.5,595.7 653.9,593.3 654.3,597.5 654.6,596.8 655.0,594.3 655.3,594.3 655.7,593.1 656.1,593.0 656.4,595.8 656.8,596.1 657.1,595.7 657.5,595.5 657.9,594.3 658.2,595.7 658.6,592.9 658.9,595.2 659.3,597.4 659.7,597.2 660.0,594.5 660.4,594.7 660.7,597.3 661.1,597.9 661.5,592.9 661.8,594.6 662.2,595.6 662.5,597.1 662.9,594.0 663.3,596.3 663.6,594.9 664.0,599.0 664.3,596.0 664.7,595.2 665.1,594.9 665.4,597.1 665.8,596.5 666.1,593.9 666.5,595.9 666.9,593.5 667.2,594.5 667.6,593.7 667.9,593.7 668.3,594.7 668.7,594.3 669.0,596.6 669.4,597.0 669.7,595.5 670.1,594.2 670.5,597.2 670.8,592.9 671.2,593.1 671.5,597.2 671.9,597.1 672.3,597.6 672.6,595.8 673.0,594.3 673.3,595.5 673.7,597.1 674.1,595.1 674.4,595.3 674.8,594.3 675.1,594.7 675.5,597.8 675.9,597.2 676.2,594.8 676.6,594.9 676.9,595.8 677.3,597.5 677.7,594.9 678.0,596.5 678.4,593.5 678.7,594.9 679.1,597.5 679.5,598.2 679.8,595.2 680.2,595.8 680.5,598.2 680.9,596.4 681.3,596.2 681.6,597.9 682.0,597.4 682.3,598.8 682.7,598.4 683.1,596.4 683.4,597.1 683.8,597.2 684.1,595.3 684.5,595.9 684.9,598.9 685.2,595.1 685.6,599.0 685.9,598.0 686.3,597.4 686.7,598.5 687.0,598.4 687.4,599.6 687.7,597.2 688.1,597.5 688.5,597.5 688.8,600.7 689.2,599.4 689.5,596.6 689.9,597.6 690.3,597.0 690.6,598.2 691.0,598.5 691.3,601.7 691.7,595.6 692.1,599.9 692.4,599.0 692.8,597.4 693.1,598.2 693.5,597.8 693.9,598.6 694.2,600.1 694.6,596.4 694.9,600.6 695.3,598.2 695.7,601.0 696.0,599.4 696.4,600.7 696.7,599.8 697.1,600.6 697.5,599.1 697.8,597.8 698.2,600.1 698.5,600.2 698.9,602.3 699.3,596.3 699.6,599.0 700.0,600.9 700.3,597.5 700.7,599.1 701.1,602.6 701.4,601.6 701.8,598.3 702.1,601.7 702.5,601.4 702.9,600.8 703.2,600.3 703.6,600.1 703.9,598.5 704.3,599.1 704.7,600.9 705.0,600.1 705.4,602.6 705.7,599.5 706.1,596.5 706.5,599.6 706.8,600.5 707.2,600.7 707.5,600.2 707.9,599.0 708.3,602.4 708.6,599.3 709.0,601.3 709.3,599.9 709.7,598.6 710.1,602.4 710.4,596.7 710.8,599.2 711.1,601.1 711.5,599.9 711.9,601.6 712.2,600.4 712.6,599.9 712.9,603.7 713.3,600.3 713.7,600.4 714.0,599.1 714.4,599.6 714.7,601.6 715.1,601.5 715.5,600.7 715.8,599.8 716.2,601.8 716.5,598.4 716.9,600.4 717.3,600.5 717.6,599.7 718.0,601.1 718.3,600.0 718.7,599.8 719.1,603.6 719.4,602.1 719.8,602.8 720.1,601.1 720.5,602.5 720.9,602.2 721.2,602.9 721.6,604.6 721.9,600.9 722.3,601.6 722.7,601.2 723.0,596.2 723.4,599.3 723.7,601.3 724.1,602.2 724.5,600.5 724.8,603.0 725.2,603.2 725.5,600.8 725.9,603.5 726.3,603.9 726.6,602.1 727.0,600.1 727.3,603.6 727.7,601.3 728.1,601.0 728.4,601.7 728.8,600.8 729.1,603.1 729.5,602.7 729.9,603.4 730.2,602.5 730.6,600.6 730.9,601.5 731.3,603.0 731.7,601.2 732.0,605.9 732.4,601.4 732.7,601.0 733.1,603.5 733.5,602.9 733.8,601.8 734.2,601.6 734.5,602.5 734.9,603.1 735.3,603.0 735.6,601.5 736.0,602.6 736.3,603.2 736.7,603.1 737.1,597.7 737.4,600.8 737.8,601.0 738.1,601.8 738.5,602.4 738.9,603.4 739.2,603.0 739.6,602.0 739.9,602.2 740.3,604.7 740.7,601.3 741.0,602.6 741.4,604.4 741.7,602.7 742.1,599.4 742.5,602.8 742.8,601.8 743.2,602.2 743.5,603.8 743.9,603.0 744.3,602.0 744.6,603.6 745.0,603.0 745.3,602.6 745.7,602.8 746.1,602.8 746.4,602.0 746.8,601.8 747.1,602.5 747.5,601.2 747.9,600.7 748.2,604.4 748.6,602.2 748.9,602.5 749.3,602.4 749.7,602.6 750.0,602.6 750.4,602.7 750.7,601.5 751.1,603.9 751.5,601.7 751.8,604.1 752.2,600.0 752.5,601.2 752.9,604.1 753.3,602.5 753.6,601.8 754.0,603.3 754.3,601.3 754.7,602.9 755.1,599.7 755.4,602.2 755.8,601.9 756.1,603.6 756.5,604.1 756.9,601.7 757.2,605.1 757.6,602.0 757.9,600.0 758.3,599.6 758.7,605.1 759.0,602.8 759.4,602.0 759.7,601.9 760.1,601.4 760.5,604.9 760.8,602.9 761.2,605.5 761.5,602.7 761.9,599.7 762.3,604.2 762.6,602.5 763.0,602.7 763.3,605.3 763.7,602.7 764.1,604.7 764.4,603.1 764.8,602.1 765.1,603.9 765.5,602.3 765.9,604.9 766.2,604.5 766.6,603.3 766.9,604.1 767.3,604.0 767.7,602.9 768.0,604.5 768.4,603.0 768.7,604.1 769.1,602.0 769.5,603.5 769.8,603.9 770.2,602.2 770.5,602.8 770.9,602.6 771.3,604.4 771.6,602.4 772.0,604.0 772.3,605.5 772.7,603.9 773.1,601.2 773.4,603.6 773.8,604.9 774.1,603.1 774.5,605.0 774.9,604.4 775.2,604.1 775.6,603.2 775.9,602.8 776.3,603.2 776.7,603.7 777.0,604.3 777.4,604.2 777.7,603.2 778.1,603.7 778.5,604.2 778.8,601.4 779.2,602.6 779.5,602.6 779.9,603.4 780.3,603.3 780.6,603.3 781.0,602.5 781.3,604.6 781.7,604.1 782.1,601.5 782.4,603.8 782.8,602.2 783.1,606.1 783.5,603.1 783.9,603.2 784.2,603.9 784.6,603.5 784.9,603.7 785.3,606.0 785.7,604.1 786.0,605.0 786.4,605.4 786.7,602.5 787.1,606.2 787.5,604.8 787.8,605.2 788.2,602.7 788.5,605.0 788.9,604.5 789.3,603.2 789.6,607.1 790.0,604.7 790.3,603.6 790.7,604.2 791.1,605.2 791.4,605.5 791.8,604.8 792.1,605.6 792.5,606.0 792.9,602.3 793.2,603.3 793.6,602.7 793.9,604.1 794.3,606.0 794.7,604.9 795.0,602.6 795.4,603.6 795.7,605.4 796.1,603.3 796.5,603.9 796.8,604.4 797.2,601.5 797.5,605.1 797.9,604.5 798.3,604.8 798.6,602.7 799.0,603.0 799.3,603.2 799.7,604.4 800.1,604.1 800.4,604.2 800.8,606.5 801.1,605.8 801.5,603.0 801.9,603.1 802.2,606.4 802.6,603.6 802.9,605.9 803.3,606.2 803.7,603.3 804.0,603.6 804.4,604.1 804.7,602.8 805.1,602.7 805.5,603.5 805.8,605.2 806.2,603.4 806.5,603.7 806.9,603.3 807.3,602.1 807.6,606.0 808.0,600.7 808.3,603.1 808.7,604.7 809.1,602.0 809.4,604.8 809.8,605.7 810.1,602.8 810.5,604.2 810.9,602.4 811.2,604.6 811.6,604.0 811.9,604.2 812.3,605.8 812.7,604.5 813.0,605.7 813.4,604.7 813.7,602.2 814.1,604.2 814.5,604.5 814.8,601.8 815.2,605.6 815.5,603.9 815.9,604.3 816.3,602.5 816.6,603.8 817.0,604.1 817.3,603.3 817.7,603.8 818.1,600.8 818.4,605.6 818.8,602.1 819.1,600.6 819.5,602.3 819.9,602.4 820.2,604.3 820.6,602.3 820.9,603.9 821.3,602.2 821.7,606.6 822.0,604.2 822.4,606.2 822.7,602.0 823.1,604.3 823.5,602.1 823.8,604.2 824.2,604.3 824.5,601.1 824.9,601.7 825.3,601.7 825.6,601.2 826.0,602.2 826.3,601.9 826.7,601.2 827.1,603.3 827.4,603.9 827.8,601.3 828.1,602.3 828.5,603.0 828.9,602.7 829.2,602.0 829.6,604.1 829.9,604.1 830.3,603.8 830.7,602.6 831.0,605.1 831.4,604.7 831.7,602.2 832.1,602.3 832.5,603.6 832.8,601.1 833.2,602.2 833.5,601.5 833.9,600.2 834.3,600.4 834.6,598.3 835.0,599.2 835.3,596.8 835.7,602.3 836.1,600.9 836.4,600.1 836.8,598.3 837.1,598.9 837.5,598.8 837.9,598.0 838.2,597.4 838.6,594.6 838.9,595.7 839.3,594.1 839.7,592.6 840.0,591.8 840.4,593.5 840.7,593.6 841.1,590.0 841.5,592.9 841.8,592.0 842.2,589.8 842.5,589.5 842.9,589.7 843.3,591.0 843.6,589.3 844.0,588.1 844.3,590.4 844.7,586.7 845.1,590.1 845.4,591.8 845.8,590.5 846.1,591.3 846.5,590.9 846.9,591.3 847.2,590.4 847.6,589.0 847.9,590.0 848.3,590.3 848.7,592.5 849.0,593.2 849.4,591.3 849.7,589.6 850.1,589.7 850.5,590.6 850.8,593.2 851.2,591.6 851.5,591.1 851.9,590.1 852.3,592.7 852.6,591.9 853.0,591.5 853.3,591.9 853.7,594.4 854.1,591.8 854.4,594.7 854.8,594.3 855.1,592.6 855.5,594.1 855.9,592.8 856.2,591.9 856.6,592.9 856.9,592.1 857.3,594.6 857.7,594.0 858.0,595.1 858.4,595.6 858.7,589.8 859.1,595.3 859.5,592.3 859.8,595.4 860.2,594.1 860.5,595.7 860.9,597.7 861.3,593.3 861.6,596.3 862.0,596.1 862.3,593.5 862.7,597.5 863.1,596.8 863.4,596.1 863.8,596.0 864.1,602.1 864.5,596.8 864.9,594.9 865.2,596.4 865.6,597.4 865.9,597.6 866.3,598.2 866.7,597.0 867.0,599.5 867.4,598.2 867.7,597.1 868.1,598.0 868.5,598.8 868.8,600.8 869.2,600.4 869.5,599.4 869.9,600.0 870.3,600.5 870.6,603.2 871.0,599.6 871.3,601.3 871.7,601.8 872.1,599.5 872.4,601.3 872.8,601.3 873.1,600.6 873.5,602.1 873.9,602.8 874.2,603.1 874.6,601.3 874.9,601.9 875.3,604.9 875.7,600.3 876.0,602.2 876.4,603.2 876.7,602.2 877.1,602.9 877.5,602.3 877.8,603.2 878.2,604.0 878.5,601.9 878.9,602.5 879.3,602.2 879.6,601.7 880.0,602.3 880.3,600.8 880.7,603.5 881.1,604.9 881.4,604.9 881.8,604.3 882.1,601.2 882.5,604.7 882.9,601.6 883.2,602.6 883.6,605.3 883.9,601.2 884.3,603.9 884.7,603.2 885.0,602.6 885.4,601.6 885.7,603.5 886.1,602.3 886.5,604.4 886.8,604.7 887.2,601.1 887.5,602.3 887.9,602.6 888.3,601.4 888.6,601.5 889.0,603.3 889.3,602.9 889.7,600.9 890.1,602.5 890.4,603.9 890.8,601.6 891.1,602.0 891.5,605.5 891.9,605.1 892.2,601.1 892.6,601.5 892.9,603.9 893.3,601.7 893.7,603.1 894.0,602.8 894.4,604.2 894.7,600.0 895.1,600.4 895.5,601.8 895.8,604.9 896.2,603.3 896.5,601.2 896.9,604.3 897.3,604.6 897.6,603.3 898.0,603.2 898.3,604.3 898.7,605.3 899.1,603.9 899.4,604.4 899.8,603.7 900.1,603.2 900.5,602.5 900.9,604.1 901.2,603.4 901.6,603.5 901.9,605.1 902.3,604.5 902.7,605.0 903.0,601.7 903.4,604.6 903.7,603.1 904.1,602.8 904.5,602.7 904.8,605.6 905.2,605.1 905.5,603.0 905.9,602.4 906.3,604.0 906.6,603.4 907.0,606.3 907.3,602.0 907.7,601.5 908.1,603.7 908.4,604.1 908.8,604.3 909.1,605.2 909.5,607.0 909.9,603.7 910.2,603.4 910.6,601.8 910.9,604.5 911.3,605.4 911.7,603.9 912.0,605.9 912.4,604.3 912.7,606.4 913.1,604.7 913.5,602.8 913.8,603.4 914.2,602.2 914.5,602.0 914.9,604.7 915.3,605.6 915.6,607.1 916.0,604.3 916.3,604.1 916.7,602.9 917.1,605.8 917.4,605.0 917.8,603.7 918.1,605.4 918.5,605.3 918.9,602.0 919.2,605.5 919.6,604.7 919.9,604.0 920.3,604.0 920.7,607.0 921.0,606.7 921.4,607.1 921.7,603.0 922.1,603.7 922.5,605.9 922.8,603.0 923.2,603.7 923.5,602.2 923.9,607.2 924.3,606.1 924.6,605.3 925.0,605.0 925.3,604.2 925.7,604.2 926.1,605.6 926.4,603.8 926.8,606.4 927.1,604.1 927.5,603.6 927.9,606.6 928.2,604.6 928.6,605.6 928.9,604.3 929.3,601.8 929.7,605.6 930.0,603.0 930.4,606.3 930.7,602.7 931.1,602.3 931.5,605.3 931.8,605.4 932.2,605.0 932.5,603.2 932.9,606.1 933.3,602.9 933.6,604.3 934.0,603.8 934.3,604.4 934.7,606.1 935.1,604.0 935.4,605.7 935.8,605.8 936.1,602.6 936.5,603.3 936.9,604.4 937.2,604.1 937.6,605.3 937.9,602.3 938.3,605.9 938.7,605.9 939.0,604.7 939.4,603.0 939.7,604.9 940.1,604.2 940.5,605.7 940.8,604.8 941.2,605.9 941.5,604.3 941.9,606.9 942.3,601.8 942.6,603.5 943.0,605.6 943.3,602.8 943.7,605.9 944.1,603.2 944.4,605.0 944.8,603.7 945.1,604.3 945.5,605.1 945.9,604.8 946.2,604.4 946.6,607.8 946.9,604.9 947.3,603.6 947.7,606.2 948.0,606.0 948.4,606.6 948.7,607.3 949.1,603.6 949.5,606.3 949.8,606.5 950.2,604.9 950.5,605.2 950.9,600.8 951.3,604.1 951.6,607.3 952.0,602.5 952.3,604.2 952.7,605.3 953.1,605.7 953.4,607.1 953.8,602.5 954.1,605.0 954.5,606.1 954.9,603.1 955.2,604.8 955.6,607.5 955.9,606.7 956.3,605.6 956.7,601.3 957.0,604.7 957.4,605.4 957.7,604.5 958.1,604.8 958.5,609.1 958.8,604.6 959.2,603.6 959.5,605.2 959.9,604.5 960.3,604.5 960.6,604.8 961.0,606.0 961.3,605.2 961.7,603.3 962.1,604.7 962.4,605.5 962.8,604.3 963.1,606.5 963.5,606.0 963.9,603.5 964.2,605.3 964.6,607.6 964.9,607.0 965.3,604.8 965.7,606.1 966.0,604.0 966.4,602.9 966.7,605.7 967.1,605.2 967.5,605.6 967.8,604.9 968.2,605.3 968.5,604.2 968.9,605.5 969.3,606.0 969.6,604.8 970.0,606.0 970.3,602.5" fill="none" stroke="#35b779" stroke-width="5.2" stroke-linejoin="round" stroke-linecap="round"/>
<path d="M97.3,671.1 97.7,677.8 98.1,682.4 98.4,685.4 98.8,689.3 99.1,692.5 99.5,697.2 99.9,700.8 100.2,702.6 100.6,706.7 100.9,709.3 101.3,711.9 101.7,712.7 102.0,716.7 102.4,717.1 102.7,721.9 103.1,722.7 103.5,723.5 103.8,727.1 104.2,728.5 104.5,728.4 104.9,731.9 105.3,730.0 105.6,732.3 106.0,734.3 106.3,730.6 106.7,735.7 107.1,735.0 107.4,735.8 107.8,735.1 108.1,737.6 108.5,736.3 108.9,737.0 109.2,738.2 109.6,737.7 109.9,742.0 110.3,738.5 110.7,739.7 111.0,740.7 111.4,741.5 111.7,743.0 112.1,743.4 112.5,742.1 112.8,742.2 113.2,743.1 113.5,744.6 113.9,744.7 114.3,743.1 114.6,741.0 115.0,747.6 115.3,746.0 115.7,745.2 116.1,745.5 116.4,744.5 116.8,743.9 117.1,745.2 117.5,745.5 117.9,745.1 118.2,744.1 118.6,745.9 118.9,747.4 119.3,746.0 119.7,747.0 120.0,744.0 120.4,746.9 120.7,747.2 121.1,745.7 121.5,745.1 121.8,748.4 122.2,746.8 122.5,748.8 122.9,747.6 123.3,749.3 123.6,748.0 124.0,746.4 124.3,748.6 124.7,748.4 125.1,749.9 125.4,748.4 125.8,748.6 126.1,750.6 126.5,751.1 126.9,750.6 127.2,751.1 127.6,750.4 127.9,750.9 128.3,751.2 128.7,750.6 129.0,750.2 129.4,750.4 129.7,753.8 130.1,750.4 130.5,750.2 130.8,750.1 131.2,750.6 131.5,751.1 131.9,749.2 132.3,748.1 132.6,751.5 133.0,748.8 133.3,751.6 133.7,751.5 134.1,753.1 134.4,753.9 134.8,752.1 135.1,750.9 135.5,750.1 135.9,750.7 136.2,752.0 136.6,749.0 136.9,752.2 137.3,752.1 137.7,753.1 138.0,751.8 138.4,752.5 138.7,751.4 139.1,751.9 139.5,750.1 139.8,752.8 140.2,754.9 140.5,753.0 140.9,753.4 141.3,751.5 141.6,755.0 142.0,752.0 142.3,754.2 142.7,753.3 143.1,751.9 143.4,754.7 143.8,753.4 144.1,753.6 144.5,754.1 144.9,753.5 145.2,753.0 145.6,754.2 145.9,753.1 146.3,753.8 146.7,752.8 147.0,751.7 147.4,752.9 147.7,753.2 148.1,753.9 148.5,755.6 148.8,751.6 149.2,754.2 149.5,751.0 149.9,752.6 150.3,753.4 150.6,751.0 151.0,751.6 151.3,754.4 151.7,754.3 152.1,754.1 152.4,753.1 152.8,757.3 153.1,754.1 153.5,753.1 153.9,756.7 154.2,755.3 154.6,753.9 154.9,756.1 155.3,754.7 155.7,755.4 156.0,754.9 156.4,753.1 156.7,755.9 157.1,754.8 157.5,753.2 157.8,753.6 158.2,756.0 158.5,754.2 158.9,754.8 159.3,755.7 159.6,755.0 160.0,752.7 160.3,755.7 160.7,756.1 161.1,756.1 161.4,757.1 161.8,755.4 162.1,756.0 162.5,757.1 162.9,754.6 163.2,757.4 163.6,757.4 163.9,756.1 164.3,757.6 164.7,756.2 165.0,753.9 165.4,756.6 165.7,755.5 166.1,755.7 166.5,755.3 166.8,757.0 167.2,755.9 167.5,754.2 167.9,755.9 168.3,756.2 168.6,754.2 169.0,754.6 169.3,754.7 169.7,754.4 170.1,755.7 170.4,756.6 170.8,757.9 171.1,756.9 171.5,756.7 171.9,756.8 172.2,757.1 172.6,754.8 172.9,756.2 173.3,755.7 173.7,755.1 174.0,754.7 174.4,754.6 174.7,754.9 175.1,753.6 175.5,756.0 175.8,755.3 176.2,755.4 176.5,755.7 176.9,756.3 177.3,754.5 177.6,755.1 178.0,753.0 178.3,752.2 178.7,752.6 179.1,757.3 179.4,752.7 179.8,755.8 180.1,757.2 180.5,754.5 180.9,757.3 181.2,757.6 181.6,756.4 181.9,758.3 182.3,755.9 182.7,754.0 183.0,755.7 183.4,754.3 183.7,753.1 184.1,753.1 184.5,758.0 184.8,754.1 185.2,754.7 185.5,753.8 185.9,754.9 186.3,754.3 186.6,754.1 187.0,752.9 187.3,752.6 187.7,753.5 188.1,754.9 188.4,757.3 188.8,755.8 189.1,756.8 189.5,754.9 189.9,754.1 190.2,752.3 190.6,754.1 190.9,751.1 191.3,753.6 191.7,756.2 192.0,754.3 192.4,755.4 192.7,753.2 193.1,751.8 193.5,753.0 193.8,753.0 194.2,755.2 194.5,756.2 194.9,752.3 195.3,752.8 195.6,753.0 196.0,752.7 196.3,751.5 196.7,753.0 197.1,753.2 197.4,753.0 197.8,750.8 198.1,751.9 198.5,749.6 198.9,752.7 199.2,750.0 199.6,750.6 199.9,750.0 200.3,749.4 200.7,748.4 201.0,747.1 201.4,751.2 201.7,748.8 202.1,748.4 202.5,750.3 202.8,746.8 203.2,747.2 203.5,745.9 203.9,746.9 204.3,745.4 204.6,744.5 205.0,743.1 205.3,743.2 205.7,743.6 206.1,739.2 206.4,740.5 206.8,739.4 207.1,738.4 207.5,735.7 207.9,736.5 208.2,733.6 208.6,732.4 208.9,730.4 209.3,727.2 209.7,726.5 210.0,722.8 210.4,721.7 210.7,720.3 211.1,718.5 211.5,716.4 211.8,713.9 212.2,712.4 212.5,708.4 212.9,703.6 213.3,700.3 213.6,697.2 214.0,694.3 214.3,691.0 214.7,688.2 215.1,687.1 215.4,684.8 215.8,683.1 216.1,681.7 216.5,680.6 216.9,680.4 217.2,679.4 217.6,679.7 217.9,679.2 218.3,681.9 218.7,684.3 219.0,687.7 219.4,688.6 219.7,689.8 220.1,693.9 220.5,696.3 220.8,698.9 221.2,703.1 221.5,708.5 221.9,711.9 222.3,714.8 222.6,716.9 223.0,721.3 223.3,720.9 223.7,724.0 224.1,724.7 224.4,729.4 224.8,730.4 225.1,732.6 225.5,733.5 225.9,734.9 226.2,736.5 226.6,736.0 226.9,739.6 227.3,740.6 227.7,740.0 228.0,741.3 228.4,742.6 228.7,745.1 229.1,744.3 229.5,744.5 229.8,744.4 230.2,743.8 230.5,745.6 230.9,747.1 231.3,747.3 231.6,748.2 232.0,749.5 232.3,749.6 232.7,749.8 233.1,750.6 233.4,750.4 233.8,750.5 234.1,751.3 234.5,748.9 234.9,752.7 235.2,749.6 235.6,752.6 235.9,751.6 236.3,753.3 236.7,751.9 237.0,750.6 237.4,753.6 237.7,752.5 238.1,752.5 238.5,752.6 238.8,754.0 239.2,753.8 239.5,753.1 239.9,750.7 240.3,752.4 240.6,753.2 241.0,755.7 241.3,753.8 241.7,753.2 242.1,755.1 242.4,753.4 242.8,753.6 243.1,753.9 243.5,751.7 243.9,755.2 244.2,754.5 244.6,753.6 244.9,752.5 245.3,754.4 245.7,756.1 246.0,753.4 246.4,752.8 246.7,754.9 247.1,752.2 247.5,751.4 247.8,753.9 248.2,753.6 248.5,754.2 248.9,753.8 249.3,755.1 249.6,754.3 250.0,753.9 250.3,754.1 250.7,755.6 251.1,756.0 251.4,756.0 251.8,755.7 252.1,750.3 252.5,753.4 252.9,754.3 253.2,755.1 253.6,752.5 253.9,756.7 254.3,755.2 254.7,753.9 255.0,755.0 255.4,754.3 255.7,753.7 256.1,755.5 256.5,754.1 256.8,752.8 257.2,753.9 257.5,754.6 257.9,753.2 258.3,756.5 258.6,753.2 259.0,757.2 259.3,756.0 259.7,753.4 260.1,754.9 260.4,756.3 260.8,754.4 261.1,753.0 261.5,754.8 261.9,757.4 262.2,752.6 262.6,755.4 262.9,754.6 263.3,754.5 263.7,754.1 264.0,754.2 264.4,756.0 264.7,755.4 265.1,753.2 265.5,756.7 265.8,752.7 266.2,755.5 266.5,754.8 266.9,756.2 267.3,755.0 267.6,756.0 268.0,754.5 268.3,755.8 268.7,754.9 269.1,757.4 269.4,753.5 269.8,756.1 270.1,755.1 270.5,754.7 270.9,753.6 271.2,755.0 271.6,752.3 271.9,752.4 272.3,755.3 272.7,752.2 273.0,756.3 273.4,753.9 273.7,754.6 274.1,754.4 274.5,754.9 274.8,753.9 275.2,753.7 275.5,754.1 275.9,755.7 276.3,755.8 276.6,756.0 277.0,754.7 277.3,753.9 277.7,751.8 278.1,755.1 278.4,755.3 278.8,753.6 279.1,755.3 279.5,755.9 279.9,754.3 280.2,755.6 280.6,754.5 280.9,751.7 281.3,753.4 281.7,753.5 282.0,754.8 282.4,752.9 282.7,753.5 283.1,752.7 283.5,754.0 283.8,754.1 284.2,755.4 284.5,755.1 284.9,754.2 285.3,754.3 285.6,754.2 286.0,754.1 286.3,756.2 286.7,750.5 287.1,753.7 287.4,754.4 287.8,755.5 288.1,752.4 288.5,754.4 288.9,755.1 289.2,753.3 289.6,751.2 289.9,753.4 290.3,752.2 290.7,754.8 291.0,752.7 291.4,756.4 291.7,754.1 292.1,752.7 292.5,753.1 292.8,752.3 293.2,754.4 293.5,755.9 293.9,753.5 294.3,755.1 294.6,752.5 295.0,754.2 295.3,757.0 295.7,751.8 296.1,755.5 296.4,755.4 296.8,751.1 297.1,751.7 297.5,752.3 297.9,755.0 298.2,753.1 298.6,753.4 298.9,754.6 299.3,753.8 299.7,753.9 300.0,753.2 300.4,755.2 300.7,752.5 301.1,755.9 301.5,753.1 301.8,752.4 302.2,754.4 302.5,754.2 302.9,750.7 303.3,753.8 303.6,751.6 304.0,752.3 304.3,754.6 304.7,752.2 305.1,753.9 305.4,752.9 305.8,756.1 306.1,753.2 306.5,751.7 306.9,751.8 307.2,752.0 307.6,753.5 307.9,753.3 308.3,754.6 308.7,753.5 309.0,753.4 309.4,753.6 309.7,753.0 310.1,753.5 310.5,754.2 310.8,754.2 311.2,752.3 311.5,750.5 311.9,751.9 312.3,753.4 312.6,749.4 313.0,752.2 313.3,753.5 313.7,752.1 314.1,751.2 314.4,755.3 314.8,754.7 315.1,752.4 315.5,754.6 315.9,754.5 316.2,751.0 316.6,756.4 316.9,751.2 317.3,752.1 317.7,750.9 318.0,752.5 318.4,750.5 318.7,752.3 319.1,753.8 319.5,752.6 319.8,751.8 320.2,754.4 320.5,750.8 320.9,753.5 321.3,751.6 321.6,752.3 322.0,752.0 322.3,752.1 322.7,751.7 323.1,750.6 323.4,750.9 323.8,752.3 324.1,751.4 324.5,749.9 324.9,750.5 325.2,750.4 325.6,751.3 325.9,751.6 326.3,751.4 326.7,750.2 327.0,751.1 327.4,749.1 327.7,746.8 328.1,750.8 328.5,748.5 328.8,749.4 329.2,749.0 329.5,751.6 329.9,748.8 330.3,750.9 330.6,749.7 331.0,748.6 331.3,748.0 331.7,750.9 332.1,750.7 332.4,751.1 332.8,752.6 333.1,750.2 333.5,750.2 333.9,749.5 334.2,749.7 334.6,748.9 334.9,748.0 335.3,752.1 335.7,746.4 336.0,749.3 336.4,749.4 336.7,748.9 337.1,747.1 337.5,748.1 337.8,747.5 338.2,746.5 338.5,747.8 338.9,747.1 339.3,746.7 339.6,748.3 340.0,745.6 340.3,747.6 340.7,745.8 341.1,747.2 341.4,746.4 341.8,746.5 342.1,744.4 342.5,744.5 342.9,744.1 343.2,745.4 343.6,746.0 343.9,746.3 344.3,743.6 344.7,744.3 345.0,741.4 345.4,740.2 345.7,742.0 346.1,742.0 346.5,740.5 346.8,740.0 347.2,742.7 347.5,740.6 347.9,739.0 348.3,743.7 348.6,740.4 349.0,739.2 349.3,739.9 349.7,737.4 350.1,739.9 350.4,735.0 350.8,734.6 351.1,735.4 351.5,733.8 351.9,736.0 352.2,731.0 352.6,731.3 352.9,731.8 353.3,731.4 353.7,731.1 354.0,729.2 354.4,731.0 354.7,726.1 355.1,726.0 355.5,725.7 355.8,723.5 356.2,722.3 356.5,720.7 356.9,718.9 357.3,716.5 357.6,715.3 358.0,712.4 358.3,713.1 358.7,709.7 359.1,711.3 359.4,709.5 359.8,708.0 360.1,706.1 360.5,704.8 360.9,705.9 361.2,704.1 361.6,703.7 361.9,702.5 362.3,703.3 362.7,702.6 363.0,703.7 363.4,703.6 363.7,705.4 364.1,707.8 364.5,708.2 364.8,709.8 365.2,712.7 365.5,713.4 365.9,716.1 366.3,715.4 366.6,720.0 367.0,722.5 367.3,722.2 367.7,725.2 368.1,729.1 368.4,729.8 368.8,731.7 369.1,733.8 369.5,734.2 369.9,736.1 370.2,735.4 370.6,737.8 370.9,739.7 371.3,739.6 371.7,737.3 372.0,741.6 372.4,741.6 372.7,741.2 373.1,744.6 373.5,741.4 373.8,746.2 374.2,743.8 374.5,746.7 374.9,745.2 375.3,743.8 375.6,746.0 376.0,746.6 376.3,747.2 376.7,748.2 377.1,745.6 377.4,747.9 377.8,748.5 378.1,747.3 378.5,746.6 378.9,746.8 379.2,749.5 379.6,749.8 379.9,747.6 380.3,747.1 380.7,751.0 381.0,747.2 381.4,749.8 381.7,748.6 382.1,747.5 382.5,750.3 382.8,750.0 383.2,752.5 383.5,753.8 383.9,750.5 384.3,752.3 384.6,752.5 385.0,750.4 385.3,750.0 385.7,753.6 386.1,751.0 386.4,751.5 386.8,751.3 387.1,751.6 387.5,751.0 387.9,752.9 388.2,753.7 388.6,751.5 388.9,750.2 389.3,752.2 389.7,750.1 390.0,751.3 390.4,754.0 390.7,755.6 391.1,752.9 391.5,750.9 391.8,753.5 392.2,749.2 392.5,751.5 392.9,754.6 393.3,753.6 393.6,750.6 394.0,750.2 394.3,753.8 394.7,752.6 395.1,751.8 395.4,753.3 395.8,751.9 396.1,750.0 396.5,753.9 396.9,751.9 397.2,751.4 397.6,750.9 397.9,753.2 398.3,751.7 398.7,753.8 399.0,752.5 399.4,754.4 399.7,752.4 400.1,752.0 400.5,750.2 400.8,751.4 401.2,754.0 401.5,757.3 401.9,751.3 402.3,751.6 402.6,753.5 403.0,753.7 403.3,752.1 403.7,753.2 404.1,750.9 404.4,752.7 404.8,754.4 405.1,755.5 405.5,752.9 405.9,752.8 406.2,753.8 406.6,754.8 406.9,753.9 407.3,752.2 407.7,753.7 408.0,754.6 408.4,752.3 408.7,751.4 409.1,754.0 409.5,753.8 409.8,754.7 410.2,753.4 410.5,752.4 410.9,752.7 411.3,751.9 411.6,752.0 412.0,752.6 412.3,752.7 412.7,755.0 413.1,751.7 413.4,753.4 413.8,752.6 414.1,755.5 414.5,753.8 414.9,752.9 415.2,754.6 415.6,753.6 415.9,752.8 416.3,755.7 416.7,754.5 417.0,756.0 417.4,755.2 417.7,754.6 418.1,753.8 418.5,752.1 418.8,754.6 419.2,753.7 419.5,754.6 419.9,753.6 420.3,752.7 420.6,752.2 421.0,754.6 421.3,755.5 421.7,753.3 422.1,754.3 422.4,755.6 422.8,752.5 423.1,753.2 423.5,752.2 423.9,755.4 424.2,754.1 424.6,753.1 424.9,751.5 425.3,753.5 425.7,755.2 426.0,753.4 426.4,753.2 426.7,754.7 427.1,752.1 427.5,753.9 427.8,754.7 428.2,752.8 428.5,752.7 428.9,754.2 429.3,753.7 429.6,753.6 430.0,754.2 430.3,754.2 430.7,752.6 431.1,753.0 431.4,754.6 431.8,755.5 432.1,755.8 432.5,752.8 432.9,755.5 433.2,755.0 433.6,753.9 433.9,754.7 434.3,755.2 434.7,756.5 435.0,752.6 435.4,754.9 435.7,753.8 436.1,753.8 436.5,755.6 436.8,755.2 437.2,752.7 437.5,753.7 437.9,754.4 438.3,752.1 438.6,755.3 439.0,754.0 439.3,754.3 439.7,754.6 440.1,756.6 440.4,754.2 440.8,753.6 441.1,756.5 441.5,753.5 441.9,753.4 442.2,752.2 442.6,755.7 442.9,754.5 443.3,754.8 443.7,754.4 444.0,754.0 444.4,753.1 444.7,753.1 445.1,754.8 445.5,754.4 445.8,756.5 446.2,753.2 446.5,753.5 446.9,752.8 447.3,756.1 447.6,752.5 448.0,755.3 448.3,756.2 448.7,754.0 449.1,755.2 449.4,751.3 449.8,753.7 450.1,752.0 450.5,754.5 450.9,754.3 451.2,753.2 451.6,755.6 451.9,754.7 452.3,753.5 452.7,753.6 453.0,752.2 453.4,754.0 453.7,757.2 454.1,753.3 454.5,754.8 454.8,753.5 455.2,755.4 455.5,754.9 455.9,753.9 456.3,751.8 456.6,753.6 457.0,755.9 457.3,753.9 457.7,755.1 458.1,753.6 458.4,751.7 458.8,754.8 459.1,754.7 459.5,753.5 459.9,753.7 460.2,754.7 460.6,753.4 460.9,754.7 461.3,754.0 461.7,751.0 462.0,754.1 462.4,753.4 462.7,753.1 463.1,754.8 463.5,753.6 463.8,755.0 464.2,755.7 464.5,754.4 464.9,752.1 465.3,753.2 465.6,755.5 466.0,753.9 466.3,753.1 466.7,754.1 467.1,754.9 467.4,754.6 467.8,755.1 468.1,753.1 468.5,753.8 468.9,753.8 469.2,754.2 469.6,751.3 469.9,753.9 470.3,752.3 470.7,756.1 471.0,756.3 471.4,756.5 471.7,755.3 472.1,753.5 472.5,755.5 472.8,753.9 473.2,755.0 473.5,752.9 473.9,753.3 474.3,754.8 474.6,756.5 475.0,754.1 475.3,757.2 475.7,757.9 476.1,752.3 476.4,754.0 476.8,752.7 477.1,753.9 477.5,753.3 477.9,753.9 478.2,755.4 478.6,755.3 478.9,754.4 479.3,754.0 479.7,754.2 480.0,754.2 480.4,754.8 480.7,754.0 481.1,754.6 481.5,752.1 481.8,755.0 482.2,756.3 482.5,754.2 482.9,751.9 483.3,755.7 483.6,753.4 484.0,749.7 484.3,753.5 484.7,754.7 485.1,754.4 485.4,755.5 485.8,754.7 486.1,754.0 486.5,751.0 486.9,752.2 487.2,754.0 487.6,754.7 487.9,752.3 488.3,752.8 488.7,754.3 489.0,751.0 489.4,750.9 489.7,753.3 490.1,754.0 490.5,752.9 490.8,750.4 491.2,753.6 491.5,751.7 491.9,754.4 492.3,753.4 492.6,753.9 493.0,754.4 493.3,752.7 493.7,754.6 494.1,755.1 494.4,753.9 494.8,755.1 495.1,752.6 495.5,754.4 495.9,753.5 496.2,751.9 496.6,752.9 496.9,752.2 497.3,752.0 497.7,752.6 498.0,753.7 498.4,751.7 498.7,752.0 499.1,749.7 499.5,751.5 499.8,752.6 500.2,751.9 500.5,751.1 500.9,749.5 501.3,748.5 501.6,749.4 502.0,747.3 502.3,747.1 502.7,749.8 503.1,746.8 503.4,750.2 503.8,745.7 504.1,747.5 504.5,745.2 504.9,746.2 505.2,744.2 505.6,744.7 505.9,743.8 506.3,742.6 506.7,743.1 507.0,743.6 507.4,739.9 507.7,741.1 508.1,739.1 508.5,738.0 508.8,740.6 509.2,732.9 509.5,734.3 509.9,731.6 510.3,733.1 510.6,732.4 511.0,735.5 511.3,730.9 511.7,731.5 512.1,729.9 512.4,726.2 512.8,726.2 513.1,726.2 513.5,723.4 513.9,722.4 514.2,721.6 514.6,719.4 514.9,719.4 515.3,719.8 515.7,719.8 516.0,719.1 516.4,720.0 516.7,720.8 517.1,721.6 517.5,723.4 517.8,724.0 518.2,725.3 518.5,724.2 518.9,726.3 519.3,729.3 519.6,728.6 520.0,731.4 520.3,731.5 520.7,732.1 521.1,734.2 521.4,733.1 521.8,733.3 522.1,734.1 522.5,735.7 522.9,740.0 523.2,733.5 523.6,737.0 523.9,737.2 524.3,739.3 524.7,737.8 525.0,735.2 525.4,741.0 525.7,737.9 526.1,739.7 526.5,738.2 526.8,738.9 527.2,740.0 527.5,742.3 527.9,742.5 528.3,740.6 528.6,742.6 529.0,741.4 529.3,742.4 529.7,742.7 530.1,743.7 530.4,742.0 530.8,743.0 531.1,743.8 531.5,743.8 531.9,742.6 532.2,746.7 532.6,743.6 532.9,745.7 533.3,745.0 533.7,746.8 534.0,741.9 534.4,748.4 534.7,745.2 535.1,743.9 535.5,746.1 535.8,749.4 536.2,747.0 536.5,744.6 536.9,745.9 537.3,748.7 537.6,744.8 538.0,746.7 538.3,746.7 538.7,750.4 539.1,746.9 539.4,749.3 539.8,746.6 540.1,746.5 540.5,749.1 540.9,748.7 541.2,745.4 541.6,748.8 541.9,748.8 542.3,747.1 542.7,748.3 543.0,748.3 543.4,747.3 543.7,747.1 544.1,747.0 544.5,747.5 544.8,745.9 545.2,747.6 545.5,745.5 545.9,747.6 546.3,747.2 546.6,745.8 547.0,748.3 547.3,749.7 547.7,748.7 548.1,744.6 548.4,748.3 548.8,746.6 549.1,746.0 549.5,745.0 549.9,745.7 550.2,747.6 550.6,746.1 550.9,744.5 551.3,743.9 551.7,744.0 552.0,745.4 552.4,747.2 552.7,742.4 553.1,743.8 553.5,743.0 553.8,742.3 554.2,743.8 554.5,743.9 554.9,740.6 555.3,741.1 555.6,744.2 556.0,742.7 556.3,742.8 556.7,741.0 557.1,740.9 557.4,741.9 557.8,740.2 558.1,739.0 558.5,740.3 558.9,741.4 559.2,738.1 559.6,741.1 559.9,740.2 560.3,737.4 560.7,738.5 561.0,738.1 561.4,738.8 561.7,738.5 562.1,735.2 562.5,734.8 562.8,738.1 563.2,736.5 563.5,736.6 563.9,736.2 564.3,737.7 564.6,733.5 565.0,736.6 565.3,733.6 565.7,735.6 566.1,736.3 566.4,732.3 566.8,734.7 567.1,733.6 567.5,733.5 567.9,733.9 568.2,732.4 568.6,732.5 568.9,734.6 569.3,734.9 569.7,733.1 570.0,732.1 570.4,737.3 570.7,735.8 571.1,735.0 571.5,733.3 571.8,734.2 572.2,735.6 572.5,734.2 572.9,738.2 573.3,736.4 573.6,737.1 574.0,735.3 574.3,735.8 574.7,736.3 575.1,738.3 575.4,737.8 575.8,738.1 576.1,739.4 576.5,739.6 576.9,741.7 577.2,739.6 577.6,738.7 577.9,740.4 578.3,742.7 578.7,740.2 579.0,741.2 579.4,740.8 579.7,742.2 580.1,742.1 580.5,740.7 580.8,741.8 581.2,743.8 581.5,744.3 581.9,744.2 582.3,744.3 582.6,742.6 583.0,742.7 583.3,745.0 583.7,741.9 584.1,743.8 584.4,741.2 584.8,743.7 585.1,743.4 585.5,742.8 585.9,745.7 586.2,743.9 586.6,744.6 586.9,745.0 587.3,744.4 587.7,747.9 588.0,745.2 588.4,746.4 588.7,744.3 589.1,745.7 589.5,746.1 589.8,746.2 590.2,746.0 590.5,747.2 590.9,749.4 591.3,747.1 591.6,747.2 592.0,747.0 592.3,751.3 592.7,750.1 593.1,748.7 593.4,749.0 593.8,747.1 594.1,748.0 594.5,748.6 594.9,748.6 595.2,747.3 595.6,747.5 595.9,749.4 596.3,749.1 596.7,745.8 597.0,749.0 597.4,750.7 597.7,748.0 598.1,749.3 598.5,746.9 598.8,750.3 599.2,747.5 599.5,747.3 599.9,748.7 600.3,752.7 600.6,748.4 601.0,747.4 601.3,750.0 601.7,749.7 602.1,751.8 602.4,747.6 602.8,747.2 603.1,749.1 603.5,750.1 603.9,750.1 604.2,751.2 604.6,747.5 604.9,748.5 605.3,749.5 605.7,751.0 606.0,750.5 606.4,749.2 606.7,748.4 607.1,751.1 607.5,751.3 607.8,753.8 608.2,749.7 608.5,752.3 608.9,748.3 609.3,749.2 609.6,749.1 610.0,749.4 610.3,748.8 610.7,749.3 611.1,750.1 611.4,749.5 611.8,751.1 612.1,750.1 612.5,750.2 612.9,752.3 613.2,750.7 613.6,750.5 613.9,750.2 614.3,750.4 614.7,751.1 615.0,749.2 615.4,752.0 615.7,752.6 616.1,752.0 616.5,749.6 616.8,748.1 617.2,749.7 617.5,750.6 617.9,751.5 618.3,750.1 618.6,749.9 619.0,752.5 619.3,749.4 619.7,751.8 620.1,751.6 620.4,748.4 620.8,750.7 621.1,749.5 621.5,748.9 621.9,747.6 622.2,748.0 622.6,750.7 622.9,749.5 623.3,750.4 623.7,748.5 624.0,749.5 624.4,749.5 624.7,747.7 625.1,747.4 625.5,750.4 625.8,749.9 626.2,748.3 626.5,749.4 626.9,750.5 627.3,752.1 627.6,748.1 628.0,750.2 628.3,752.3 628.7,749.3 629.1,751.2 629.4,745.3 629.8,751.0 630.1,748.8 630.5,746.1 630.9,749.8 631.2,750.2 631.6,750.3 631.9,750.2 632.3,748.3 632.7,747.2 633.0,747.5 633.4,748.1 633.7,748.6 634.1,747.2 634.5,747.9 634.8,749.1 635.2,748.2 635.5,751.0 635.9,750.7 636.3,745.7 636.6,746.5 637.0,745.4 637.3,745.5 637.7,747.8 638.1,745.5 638.4,745.3 638.8,746.3 639.1,747.7 639.5,745.9 639.9,745.7 640.2,747.5 640.6,746.7 640.9,746.5 641.3,747.1 641.7,744.0 642.0,745.6 642.4,744.2 642.7,746.5 643.1,746.0 643.5,743.0 643.8,746.5 644.2,742.5 644.5,745.9 644.9,744.2 645.3,742.4 645.6,741.8 646.0,742.9 646.3,743.2 646.7,742.0 647.1,743.8 647.4,740.6 647.8,742.6 648.1,742.4 648.5,739.4 648.9,742.6 649.2,740.1 649.6,738.1 649.9,740.8 650.3,741.3 650.7,742.9 651.0,740.7 651.4,743.6 651.7,743.5 652.1,742.9 652.5,743.2 652.8,741.5 653.2,740.0 653.5,741.8 653.9,742.3 654.3,741.0 654.6,740.2 655.0,738.0 655.3,741.5 655.7,740.9 656.1,738.2 656.4,740.4 656.8,741.3 657.1,739.9 657.5,741.2 657.9,741.1 658.2,737.7 658.6,739.4 658.9,740.6 659.3,741.2 659.7,741.9 660.0,736.9 660.4,739.7 660.7,740.8 661.1,741.6 661.5,742.3 661.8,738.4 662.2,739.3 662.5,738.3 662.9,741.2 663.3,738.0 663.6,741.9 664.0,741.6 664.3,741.0 664.7,737.0 665.1,739.4 665.4,741.7 665.8,738.5 666.1,740.4 666.5,740.8 666.9,742.4 667.2,741.6 667.6,741.7 667.9,740.8 668.3,741.6 668.7,741.6 669.0,743.1 669.4,741.8 669.7,743.9 670.1,739.7 670.5,744.5 670.8,742.5 671.2,744.7 671.5,743.2 671.9,744.6 672.3,745.8 672.6,742.7 673.0,743.9 673.3,743.7 673.7,744.4 674.1,741.8 674.4,744.2 674.8,744.2 675.1,743.5 675.5,744.6 675.9,742.7 676.2,747.3 676.6,746.0 676.9,748.3 677.3,744.3 677.7,744.0 678.0,746.3 678.4,743.5 678.7,746.4 679.1,745.2 679.5,745.8 679.8,746.8 680.2,746.6 680.5,749.4 680.9,747.6 681.3,744.8 681.6,748.3 682.0,744.9 682.3,747.1 682.7,745.2 683.1,745.9 683.4,749.2 683.8,746.5 684.1,746.5 684.5,746.7 684.9,747.1 685.2,749.8 685.6,746.0 685.9,746.0 686.3,748.8 686.7,745.6 687.0,747.5 687.4,749.8 687.7,748.2 688.1,747.6 688.5,747.3 688.8,747.1 689.2,747.7 689.5,748.8 689.9,750.5 690.3,750.2 690.6,748.0 691.0,747.8 691.3,750.0 691.7,746.4 692.1,748.5 692.4,748.7 692.8,747.7 693.1,747.9 693.5,749.9 693.9,747.1 694.2,748.2 694.6,748.7 694.9,749.8 695.3,747.8 695.7,751.4 696.0,749.4 696.4,749.6 696.7,749.5 697.1,749.1 697.5,748.7 697.8,751.9 698.2,750.6 698.5,750.2 698.9,751.8 699.3,749.4 699.6,751.4 700.0,750.6 700.3,749.3 700.7,751.7 701.1,748.6 701.4,751.7 701.8,749.6 702.1,751.5 702.5,752.9 702.9,751.8 703.2,750.2 703.6,751.0 703.9,750.6 704.3,749.5 704.7,749.6 705.0,751.3 705.4,752.1 705.7,748.8 706.1,751.3 706.5,752.1 706.8,751.6 707.2,750.1 707.5,753.0 707.9,749.9 708.3,752.5 708.6,753.9 709.0,748.8 709.3,752.1 709.7,752.2 710.1,752.1 710.4,750.7 710.8,751.4 711.1,749.9 711.5,752.1 711.9,752.7 712.2,751.0 712.6,750.7 712.9,751.3 713.3,752.0 713.7,752.1 714.0,751.9 714.4,752.2 714.7,750.3 715.1,748.3 715.5,753.1 715.8,754.2 716.2,750.3 716.5,751.3 716.9,752.7 717.3,753.7 717.6,753.3 718.0,754.2 718.3,752.3 718.7,753.0 719.1,753.0 719.4,751.9 719.8,754.2 720.1,753.4 720.5,753.9 720.9,752.0 721.2,754.0 721.6,751.2 721.9,753.2 722.3,749.0 722.7,751.3 723.0,753.8 723.4,752.1 723.7,753.0 724.1,750.5 724.5,755.0 724.8,753.7 725.2,752.8 725.5,753.5 725.9,753.4 726.3,754.9 726.6,753.3 727.0,750.9 727.3,752.7 727.7,754.8 728.1,753.8 728.4,752.5 728.8,753.9 729.1,753.3 729.5,754.0 729.9,751.0 730.2,751.9 730.6,754.1 730.9,752.9 731.3,753.7 731.7,756.0 732.0,752.8 732.4,753.6 732.7,752.5 733.1,752.5 733.5,753.2 733.8,751.4 734.2,750.5 734.5,755.3 734.9,753.3 735.3,755.0 735.6,753.6 736.0,753.7 736.3,754.4 736.7,754.5 737.1,751.9 737.4,755.2 737.8,752.2 738.1,753.9 738.5,757.1 738.9,753.7 739.2,755.9 739.6,753.2 739.9,754.5 740.3,753.7 740.7,754.3 741.0,752.5 741.4,752.5 741.7,754.2 742.1,751.6 742.5,752.6 742.8,754.7 743.2,753.0 743.5,752.6 743.9,752.3 744.3,754.0 744.6,753.4 745.0,754.1 745.3,753.6 745.7,756.4 746.1,753.3 746.4,751.2 746.8,754.1 747.1,753.9 747.5,754.2 747.9,751.8 748.2,755.5 748.6,753.9 748.9,753.9 749.3,751.9 749.7,754.7 750.0,753.9 750.4,755.9 750.7,753.5 751.1,752.4 751.5,754.2 751.8,752.8 752.2,754.6 752.5,752.6 752.9,753.9 753.3,753.8 753.6,754.1 754.0,753.4 754.3,753.0 754.7,754.1 755.1,753.4 755.4,754.4 755.8,753.8 756.1,751.1 756.5,754.1 756.9,756.1 757.2,754.6 757.6,755.0 757.9,754.8 758.3,753.6 758.7,752.4 759.0,755.3 759.4,755.7 759.7,755.0 760.1,754.8 760.5,754.8 760.8,754.2 761.2,754.7 761.5,754.3 761.9,754.7 762.3,753.0 762.6,753.5 763.0,755.1 763.3,753.9 763.7,751.1 764.1,754.5 764.4,751.3 764.8,756.9 765.1,755.3 765.5,755.3 765.9,753.5 766.2,752.9 766.6,754.1 766.9,754.4 767.3,753.4 767.7,754.6 768.0,755.3 768.4,755.2 768.7,753.0 769.1,751.6 769.5,754.5 769.8,753.6 770.2,755.1 770.5,756.7 770.9,756.7 771.3,754.9 771.6,756.0 772.0,756.7 772.3,754.6 772.7,754.9 773.1,755.7 773.4,754.5 773.8,753.9 774.1,753.5 774.5,754.6 774.9,753.7 775.2,755.6 775.6,754.1 775.9,756.5 776.3,756.2 776.7,752.9 777.0,756.0 777.4,754.1 777.7,756.4 778.1,755.3 778.5,754.6 778.8,755.5 779.2,753.9 779.5,755.1 779.9,755.1 780.3,754.4 780.6,755.2 781.0,753.3 781.3,755.4 781.7,753.1 782.1,755.5 782.4,755.3 782.8,755.6 783.1,754.0 783.5,758.7 783.9,754.4 784.2,754.9 784.6,753.7 784.9,756.6 785.3,754.1 785.7,756.0 786.0,753.5 786.4,755.1 786.7,754.3 787.1,756.0 787.5,754.4 787.8,753.6 788.2,755.4 788.5,753.2 788.9,753.5 789.3,755.8 789.6,752.3 790.0,755.8 790.3,754.3 790.7,753.6 791.1,755.1 791.4,755.6 791.8,754.0 792.1,754.6 792.5,755.9 792.9,755.8 793.2,754.7 793.6,753.8 793.9,753.6 794.3,754.0 794.7,755.7 795.0,755.6 795.4,755.2 795.7,756.7 796.1,754.4 796.5,754.3 796.8,754.3 797.2,757.3 797.5,752.2 797.9,755.2 798.3,755.4 798.6,754.9 799.0,757.9 799.3,756.4 799.7,755.9 800.1,753.7 800.4,755.5 800.8,754.4 801.1,754.9 801.5,755.1 801.9,754.2 802.2,755.7 802.6,757.0 802.9,756.2 803.3,755.1 803.7,752.3 804.0,756.3 804.4,756.3 804.7,754.6 805.1,754.2 805.5,755.7 805.8,753.8 806.2,755.9 806.5,753.4 806.9,753.6 807.3,754.9 807.6,752.9 808.0,754.8 808.3,755.5 808.7,753.1 809.1,756.0 809.4,754.1 809.8,755.5 810.1,755.1 810.5,754.2 810.9,754.1 811.2,752.6 811.6,753.9 811.9,753.8 812.3,756.9 812.7,756.1 813.0,753.0 813.4,755.8 813.7,755.0 814.1,754.2 814.5,755.3 814.8,755.7 815.2,753.9 815.5,754.3 815.9,754.9 816.3,753.4 816.6,754.9 817.0,754.5 817.3,753.7 817.7,753.5 818.1,755.0 818.4,755.7 818.8,755.0 819.1,753.4 819.5,755.5 819.9,754.7 820.2,755.2 820.6,756.0 820.9,753.3 821.3,754.2 821.7,753.6 822.0,753.2 822.4,757.0 822.7,755.6 823.1,752.0 823.5,754.9 823.8,753.6 824.2,755.7 824.5,754.3 824.9,754.0 825.3,754.4 825.6,754.7 826.0,754.2 826.3,753.8 826.7,753.9 827.1,754.7 827.4,752.5 827.8,754.0 828.1,753.8 828.5,753.3 828.9,754.9 829.2,752.2 829.6,753.4 829.9,752.7 830.3,754.5 830.7,753.1 831.0,753.8 831.4,754.2 831.7,751.5 832.1,754.2 832.5,752.6 832.8,753.2 833.2,753.3 833.5,754.4 833.9,754.1 834.3,754.9 834.6,753.3 835.0,752.4 835.3,752.0 835.7,752.7 836.1,753.2 836.4,751.4 836.8,749.8 837.1,750.1 837.5,749.4 837.9,748.5 838.2,746.7 838.6,743.4 838.9,745.6 839.3,747.0 839.7,745.2 840.0,741.9 840.4,743.5 840.7,740.9 841.1,743.8 841.5,740.9 841.8,737.9 842.2,739.6 842.5,736.5 842.9,737.0 843.3,735.5 843.6,733.7 844.0,734.4 844.3,732.5 844.7,734.0 845.1,732.9 845.4,732.1 845.8,731.4 846.1,734.9 846.5,735.2 846.9,732.7 847.2,736.4 847.6,735.2 847.9,735.3 848.3,736.0 848.7,736.3 849.0,739.4 849.4,738.1 849.7,736.1 850.1,741.6 850.5,740.6 850.8,738.8 851.2,740.1 851.5,739.9 851.9,741.1 852.3,741.6 852.6,741.5 853.0,740.7 853.3,740.4 853.7,741.7 854.1,740.5 854.4,742.6 854.8,738.8 855.1,740.1 855.5,738.7 855.9,737.0 856.2,739.4 856.6,737.0 856.9,735.0 857.3,735.3 857.7,736.4 858.0,733.2 858.4,735.6 858.7,734.4 859.1,733.1 859.5,734.4 859.8,734.5 860.2,733.4 860.5,733.1 860.9,734.7 861.3,734.8 861.6,733.3 862.0,734.5 862.3,735.2 862.7,735.8 863.1,735.3 863.4,739.1 863.8,739.0 864.1,739.9 864.5,742.6 864.9,740.9 865.2,742.4 865.6,743.6 865.9,743.6 866.3,744.6 866.7,746.0 867.0,745.7 867.4,747.7 867.7,745.4 868.1,747.1 868.5,745.1 868.8,747.3 869.2,746.8 869.5,750.0 869.9,749.5 870.3,749.5 870.6,751.6 871.0,751.3 871.3,750.6 871.7,749.1 872.1,748.3 872.4,750.5 872.8,750.3 873.1,750.2 873.5,750.9 873.9,749.4 874.2,753.6 874.6,750.5 874.9,751.3 875.3,753.0 875.7,750.5 876.0,753.8 876.4,753.9 876.7,752.5 877.1,751.7 877.5,752.6 877.8,751.0 878.2,755.0 878.5,753.4 878.9,752.5 879.3,752.3 879.6,754.2 880.0,755.4 880.3,751.8 880.7,752.7 881.1,751.1 881.4,754.4 881.8,753.7 882.1,756.5 882.5,753.4 882.9,753.0 883.2,752.6 883.6,754.7 883.9,751.4 884.3,754.6 884.7,753.9 885.0,752.9 885.4,752.4 885.7,755.0 886.1,756.1 886.5,753.0 886.8,754.3 887.2,756.0 887.5,752.8 887.9,753.3 888.3,752.0 888.6,753.5 889.0,753.6 889.3,753.1 889.7,752.7 890.1,751.6 890.4,751.9 890.8,752.4 891.1,754.6 891.5,753.0 891.9,752.6 892.2,754.6 892.6,754.5 892.9,752.7 893.3,752.9 893.7,754.6 894.0,754.2 894.4,752.6 894.7,754.1 895.1,753.7 895.5,755.2 895.8,752.6 896.2,754.9 896.5,754.3 896.9,752.4 897.3,755.2 897.6,755.0 898.0,752.0 898.3,756.4 898.7,752.3 899.1,752.6 899.4,753.4 899.8,754.8 900.1,754.6 900.5,753.7 900.9,755.6 901.2,754.4 901.6,755.7 901.9,757.6 902.3,754.1 902.7,750.4 903.0,753.2 903.4,752.4 903.7,754.0 904.1,754.0 904.5,752.2 904.8,752.3 905.2,753.5 905.5,753.6 905.9,750.4 906.3,755.2 906.6,754.0 907.0,753.9 907.3,754.3 907.7,752.6 908.1,753.9 908.4,755.4 908.8,755.4 909.1,754.6 909.5,753.6 909.9,752.9 910.2,755.8 910.6,754.7 910.9,753.5 911.3,751.2 911.7,752.9 912.0,751.5 912.4,755.8 912.7,754.4 913.1,753.2 913.5,753.8 913.8,757.7 914.2,755.9 914.5,752.5 914.9,754.1 915.3,752.7 915.6,752.0 916.0,754.6 916.3,757.7 916.7,756.6 917.1,754.5 917.4,754.0 917.8,754.8 918.1,756.0 918.5,752.6 918.9,752.1 919.2,757.2 919.6,755.1 919.9,756.9 920.3,755.1 920.7,756.8 921.0,754.0 921.4,755.6 921.7,757.0 922.1,756.3 922.5,754.4 922.8,756.2 923.2,754.2 923.5,753.2 923.9,755.9 924.3,757.1 924.6,756.4 925.0,753.5 925.3,756.5 925.7,756.2 926.1,754.7 926.4,752.0 926.8,756.8 927.1,756.7 927.5,756.2 927.9,753.2 928.2,753.6 928.6,757.0 928.9,756.7 929.3,756.4 929.7,755.4 930.0,756.3 930.4,755.1 930.7,755.4 931.1,754.7 931.5,756.2 931.8,755.4 932.2,757.2 932.5,756.9 932.9,754.9 933.3,758.5 933.6,754.6 934.0,756.7 934.3,757.6 934.7,757.9 935.1,753.2 935.4,757.5 935.8,757.9 936.1,758.2 936.5,753.3 936.9,755.4 937.2,756.2 937.6,755.7 937.9,758.1 938.3,755.4 938.7,758.0 939.0,757.1 939.4,754.4 939.7,755.1 940.1,755.8 940.5,756.6 940.8,757.8 941.2,756.2 941.5,757.7 941.9,754.3 942.3,752.4 942.6,756.0 943.0,757.1 943.3,756.0 943.7,755.2 944.1,757.1 944.4,759.2 944.8,756.4 945.1,755.6 945.5,755.4 945.9,759.2 946.2,756.5 946.6,757.4 946.9,758.3 947.3,758.1 947.7,755.4 948.0,757.9 948.4,757.8 948.7,757.3 949.1,758.0 949.5,755.9 949.8,756.6 950.2,756.0 950.5,757.7 950.9,755.8 951.3,757.3 951.6,755.3 952.0,756.6 952.3,756.3 952.7,756.6 953.1,757.0 953.4,756.5 953.8,756.5 954.1,754.0 954.5,758.3 954.9,756.0 955.2,756.5 955.6,755.7 955.9,758.2 956.3,755.6 956.7,757.5 957.0,758.4 957.4,759.1 957.7,758.5 958.1,757.7 958.5,755.3 958.8,758.6 959.2,758.5 959.5,758.0 959.9,758.0 960.3,757.0 960.6,756.2 961.0,758.4 961.3,758.6 961.7,755.6 962.1,758.2 962.4,757.3 962.8,758.1 963.1,757.3 963.5,758.5 963.9,758.3 964.2,758.2 964.6,755.1 964.9,758.1 965.3,757.1 965.7,755.5 966.0,757.9 966.4,755.2 966.7,758.2 967.1,759.3 967.5,756.3 967.8,758.2 968.2,757.6 968.5,757.9 968.9,755.2 969.3,757.8 969.6,757.2 970.0,758.0 970.3,757.0" fill="none" stroke="#6ccd5a" stroke-width="5.2" stroke-linejoin="round" stroke-linecap="round"/>
<path d="M97.3,795.0 97.7,799.1 98.1,804.2 98.4,809.6 98.8,813.0 99.1,818.3 99.5,821.9 99.9,826.5 100.2,829.6 100.6,835.1 100.9,839.8 101.3,842.2 101.7,847.0 102.0,850.4 102.4,853.1 102.7,857.5 103.1,861.4 103.5,863.2 103.8,864.8 104.2,869.0 104.5,870.6 104.9,875.3 105.3,875.9 105.6,878.0 106.0,879.5 106.3,882.0 106.7,883.0 107.1,884.1 107.4,886.0 107.8,886.3 108.1,889.9 108.5,887.9 108.9,890.2 109.2,890.4 109.6,890.4 109.9,895.1 110.3,891.2 110.7,896.5 111.0,893.6 111.4,896.3 111.7,899.7 112.1,894.7 112.5,896.3 112.8,900.3 113.2,899.4 113.5,898.9 113.9,900.0 114.3,899.2 114.6,901.1 115.0,903.4 115.3,901.0 115.7,902.2 116.1,904.1 116.4,905.6 116.8,902.1 117.1,903.7 117.5,902.7 117.9,902.9 118.2,903.5 118.6,903.5 118.9,902.1 119.3,902.0 119.7,904.1 120.0,905.6 120.4,907.4 120.7,905.1 121.1,905.9 121.5,907.3 121.8,907.6 122.2,906.5 122.5,906.8 122.9,909.8 123.3,906.8 123.6,906.7 124.0,905.2 124.3,908.4 124.7,907.5 125.1,910.8 125.4,907.7 125.8,909.5 126.1,909.8 126.5,911.0 126.9,906.7 127.2,911.1 127.6,908.9 127.9,908.8 128.3,908.6 128.7,908.6 129.0,908.8 129.4,906.0 129.7,910.3 130.1,909.7 130.5,908.4 130.8,909.8 131.2,913.3 131.5,910.6 131.9,909.6 132.3,912.7 132.6,909.2 133.0,910.2 133.3,909.7 133.7,910.3 134.1,911.8 134.4,911.6 134.8,909.8 135.1,910.8 135.5,911.2 135.9,910.6 136.2,911.2 136.6,910.3 136.9,910.3 137.3,911.5 137.7,910.1 138.0,912.2 138.4,911.4 138.7,910.4 139.1,911.0 139.5,911.2 139.8,911.7 140.2,912.2 140.5,911.8 140.9,910.9 141.3,914.2 141.6,913.6 142.0,912.5 142.3,913.7 142.7,912.9 143.1,912.2 143.4,912.7 143.8,916.4 144.1,914.1 144.5,914.2 144.9,912.2 145.2,913.7 145.6,916.0 145.9,913.5 146.3,914.5 146.7,914.8 147.0,914.0 147.4,915.3 147.7,913.5 148.1,913.9 148.5,912.4 148.8,916.9 149.2,913.7 149.5,913.5 149.9,915.3 150.3,912.8 150.6,913.5 151.0,912.4 151.3,913.6 151.7,913.0 152.1,914.3 152.4,913.5 152.8,912.8 153.1,913.3 153.5,913.6 153.9,913.1 154.2,915.1 154.6,914.8 154.9,914.1 155.3,912.3 155.7,914.6 156.0,912.2 156.4,914.2 156.7,914.1 157.1,913.2 157.5,912.9 157.8,913.2 158.2,917.0 158.5,913.8 158.9,913.9 159.3,915.5 159.6,914.8 160.0,915.7 160.3,912.6 160.7,912.9 161.1,918.9 161.4,914.3 161.8,914.0 162.1,914.7 162.5,915.8 162.9,912.9 163.2,914.9 163.6,914.5 163.9,915.5 164.3,914.8 164.7,913.9 165.0,913.5 165.4,911.4 165.7,916.0 166.1,912.7 166.5,914.2 166.8,917.0 167.2,914.2 167.5,915.6 167.9,914.6 168.3,915.8 168.6,914.9 169.0,914.2 169.3,916.7 169.7,914.6 170.1,913.2 170.4,914.5 170.8,915.7 171.1,913.5 171.5,916.1 171.9,916.1 172.2,917.9 172.6,914.2 172.9,916.0 173.3,912.9 173.7,914.6 174.0,915.3 174.4,915.7 174.7,915.1 175.1,915.0 175.5,914.3 175.8,914.6 176.2,915.6 176.5,915.9 176.9,916.1 177.3,916.5 177.6,916.8 178.0,912.8 178.3,914.5 178.7,915.0 179.1,914.4 179.4,916.6 179.8,916.2 180.1,915.1 180.5,915.4 180.9,916.9 181.2,914.8 181.6,914.8 181.9,916.4 182.3,915.8 182.7,917.1 183.0,915.7 183.4,916.2 183.7,914.4 184.1,913.9 184.5,915.1 184.8,911.6 185.2,915.6 185.5,916.3 185.9,915.1 186.3,914.7 186.6,916.4 187.0,914.9 187.3,916.2 187.7,917.8 188.1,915.8 188.4,916.0 188.8,915.4 189.1,915.0 189.5,915.0 189.9,914.7 190.2,916.0 190.6,912.3 190.9,914.1 191.3,915.3 191.7,913.2 192.0,914.1 192.4,913.3 192.7,914.7 193.1,915.2 193.5,916.0 193.8,914.6 194.2,912.9 194.5,914.1 194.9,914.5 195.3,915.5 195.6,910.7 196.0,914.0 196.3,910.9 196.7,914.3 197.1,913.8 197.4,913.8 197.8,914.3 198.1,913.5 198.5,912.0 198.9,913.2 199.2,914.1 199.6,912.4 199.9,912.4 200.3,910.7 200.7,913.4 201.0,911.1 201.4,910.6 201.7,910.7 202.1,909.9 202.5,910.3 202.8,911.8 203.2,910.9 203.5,911.3 203.9,911.0 204.3,907.5 204.6,908.8 205.0,909.7 205.3,910.2 205.7,904.9 206.1,904.3 206.4,906.3 206.8,904.6 207.1,903.1 207.5,904.4 207.9,902.2 208.2,899.5 208.6,901.9 208.9,901.4 209.3,901.0 209.7,900.3 210.0,898.7 210.4,897.2 210.7,895.4 211.1,893.0 211.5,892.4 211.8,892.0 212.2,889.9 212.5,889.5 212.9,885.1 213.3,881.0 213.6,882.2 214.0,880.1 214.3,876.0 214.7,873.7 215.1,872.1 215.4,869.7 215.8,864.6 216.1,862.7 216.5,859.6 216.9,856.7 217.2,854.1 217.6,853.0 217.9,850.6 218.3,848.6 218.7,847.0 219.0,847.8 219.4,848.2 219.7,850.3 220.1,852.2 220.5,855.8 220.8,856.9 221.2,860.7 221.5,863.7 221.9,868.0 222.3,869.3 222.6,873.5 223.0,877.1 223.3,881.3 223.7,881.8 224.1,885.1 224.4,886.4 224.8,889.6 225.1,892.0 225.5,893.5 225.9,895.5 226.2,897.3 226.6,898.3 226.9,900.0 227.3,900.4 227.7,902.4 228.0,902.9 228.4,903.9 228.7,905.6 229.1,905.9 229.5,906.5 229.8,907.9 230.2,904.0 230.5,908.1 230.9,907.9 231.3,908.3 231.6,907.2 232.0,909.9 232.3,911.1 232.7,911.3 233.1,910.2 233.4,911.4 233.8,912.0 234.1,913.4 234.5,912.9 234.9,911.8 235.2,911.9 235.6,912.1 235.9,912.3 236.3,911.6 236.7,913.3 237.0,911.4 237.4,911.4 237.7,913.0 238.1,911.9 238.5,912.4 238.8,910.0 239.2,914.0 239.5,913.0 239.9,912.9 240.3,913.8 240.6,913.5 241.0,912.4 241.3,916.1 241.7,912.8 242.1,914.8 242.4,916.1 242.8,912.8 243.1,913.9 243.5,912.7 243.9,915.3 244.2,913.5 244.6,912.5 244.9,915.8 245.3,915.3 245.7,913.0 246.0,915.8 246.4,914.5 246.7,918.0 247.1,916.7 247.5,913.7 247.8,914.1 248.2,913.4 248.5,914.7 248.9,914.7 249.3,915.6 249.6,914.8 250.0,912.8 250.3,913.7 250.7,916.7 251.1,916.4 251.4,914.7 251.8,914.7 252.1,914.7 252.5,915.0 252.9,912.8 253.2,916.2 253.6,914.2 253.9,915.2 254.3,911.7 254.7,915.4 255.0,916.9 255.4,912.2 255.7,917.1 256.1,915.8 256.5,914.2 256.8,913.1 257.2,916.7 257.5,915.5 257.9,916.0 258.3,914.8 258.6,914.1 259.0,916.4 259.3,913.9 259.7,916.4 260.1,913.0 260.4,914.0 260.8,913.3 261.1,916.9 261.5,912.9 261.9,913.7 262.2,916.1 262.6,915.5 262.9,918.1 263.3,917.7 263.7,916.0 264.0,916.1 264.4,912.8 264.7,914.0 265.1,914.8 265.5,915.0 265.8,913.4 266.2,914.0 266.5,914.1 266.9,916.6 267.3,915.8 267.6,914.8 268.0,914.8 268.3,915.6 268.7,914.3 269.1,914.8 269.4,912.9 269.8,916.1 270.1,916.5 270.5,915.7 270.9,915.8 271.2,915.7 271.6,917.9 271.9,915.5 272.3,913.4 272.7,913.8 273.0,916.1 273.4,916.6 273.7,916.2 274.1,916.3 274.5,915.4 274.8,913.2 275.2,914.3 275.5,912.8 275.9,914.7 276.3,913.4 276.6,915.3 277.0,915.0 277.3,912.6 277.7,916.2 278.1,916.2 278.4,913.3 278.8,915.4 279.1,916.2 279.5,914.8 279.9,916.3 280.2,915.4 280.6,916.6 280.9,915.4 281.3,915.0 281.7,915.9 282.0,916.2 282.4,915.5 282.7,914.6 283.1,914.1 283.5,914.7 283.8,914.4 284.2,915.5 284.5,915.4 284.9,915.1 285.3,915.2 285.6,915.4 286.0,917.3 286.3,916.8 286.7,914.4 287.1,915.7 287.4,914.7 287.8,915.0 288.1,914.8 288.5,914.3 288.9,913.3 289.2,911.9 289.6,915.4 289.9,916.7 290.3,913.9 290.7,915.8 291.0,914.6 291.4,915.5 291.7,914.0 292.1,914.7 292.5,914.9 292.8,911.8 293.2,915.3 293.5,914.8 293.9,911.6 294.3,915.8 294.6,914.9 295.0,915.2 295.3,915.4 295.7,914.3 296.1,913.4 296.4,914.2 296.8,914.2 297.1,917.8 297.5,917.2 297.9,914.1 298.2,914.1 298.6,915.1 298.9,915.4 299.3,913.7 299.7,913.2 300.0,917.2 300.4,916.0 300.7,912.4 301.1,912.1 301.5,913.3 301.8,914.7 302.2,915.1 302.5,913.9 302.9,912.1 303.3,914.6 303.6,915.1 304.0,914.2 304.3,913.5 304.7,914.9 305.1,914.0 305.4,912.5 305.8,914.2 306.1,912.2 306.5,915.3 306.9,914.6 307.2,912.5 307.6,914.2 307.9,915.6 308.3,910.8 308.7,913.6 309.0,916.0 309.4,911.5 309.7,913.4 310.1,911.6 310.5,913.5 310.8,910.2 311.2,911.3 311.5,912.7 311.9,913.6 312.3,913.9 312.6,914.0 313.0,914.9 313.3,914.3 313.7,914.3 314.1,911.9 314.4,913.0 314.8,917.6 315.1,916.3 315.5,914.3 315.9,914.1 316.2,914.4 316.6,912.4 316.9,915.7 317.3,912.4 317.7,912.8 318.0,915.9 318.4,909.9 318.7,913.3 319.1,910.4 319.5,911.8 319.8,912.6 320.2,912.2 320.5,912.9 320.9,911.5 321.3,912.5 321.6,910.9 322.0,912.0 322.3,910.6 322.7,913.4 323.1,910.6 323.4,913.4 323.8,911.8 324.1,912.0 324.5,914.1 324.9,912.5 325.2,909.6 325.6,913.0 325.9,908.1 326.3,912.6 326.7,911.7 327.0,910.2 327.4,912.3 327.7,911.7 328.1,915.0 328.5,911.5 328.8,914.9 329.2,914.0 329.5,911.2 329.9,910.8 330.3,913.9 330.6,911.8 331.0,912.2 331.3,911.5 331.7,910.1 332.1,911.3 332.4,910.4 332.8,909.6 333.1,911.3 333.5,914.3 333.9,914.0 334.2,911.6 334.6,911.8 334.9,912.3 335.3,913.5 335.7,912.0 336.0,910.8 336.4,910.9 336.7,913.0 337.1,915.1 337.5,910.4 337.8,908.3 338.2,912.4 338.5,911.0 338.9,911.3 339.3,912.9 339.6,911.1 340.0,909.0 340.3,908.0 340.7,910.8 341.1,909.1 341.4,911.2 341.8,908.8 342.1,910.1 342.5,908.4 342.9,909.9 343.2,909.8 343.6,911.2 343.9,912.1 344.3,909.9 344.7,908.9 345.0,912.6 345.4,910.3 345.7,910.5 346.1,910.3 346.5,911.3 346.8,910.5 347.2,909.9 347.5,909.8 347.9,907.3 348.3,907.4 348.6,907.9 349.0,907.9 349.3,907.5 349.7,907.6 350.1,906.9 350.4,905.9 350.8,903.9 351.1,907.1 351.5,906.4 351.9,903.9 352.2,905.5 352.6,905.0 352.9,904.1 353.3,900.8 353.7,901.4 354.0,901.8 354.4,904.7 354.7,900.5 355.1,900.9 355.5,899.5 355.8,899.8 356.2,900.0 356.5,897.0 356.9,895.3 357.3,897.8 357.6,896.1 358.0,894.2 358.3,894.8 358.7,893.6 359.1,888.5 359.4,889.5 359.8,889.8 360.1,885.9 360.5,884.9 360.9,885.3 361.2,882.1 361.6,880.0 361.9,878.9 362.3,876.5 362.7,875.6 363.0,870.3 363.4,871.2 363.7,866.9 364.1,865.9 364.5,863.6 364.8,862.8 365.2,862.6 365.5,862.8 365.9,863.9 366.3,865.0 366.6,867.2 367.0,869.7 367.3,872.8 367.7,874.1 368.1,877.6 368.4,879.0 368.8,882.3 369.1,883.3 369.5,885.8 369.9,885.9 370.2,888.5 370.6,889.7 370.9,892.5 371.3,894.3 371.7,896.5 372.0,896.3 372.4,901.2 372.7,899.0 373.1,901.6 373.5,902.2 373.8,898.4 374.2,902.1 374.5,905.1 374.9,900.8 375.3,905.5 375.6,904.0 376.0,905.1 376.3,906.5 376.7,904.5 377.1,907.4 377.4,906.8 377.8,907.0 378.1,909.0 378.5,913.1 378.9,909.1 379.2,909.7 379.6,909.0 379.9,908.3 380.3,909.9 380.7,911.9 381.0,910.2 381.4,911.4 381.7,910.0 382.1,914.1 382.5,908.3 382.8,911.6 383.2,911.7 383.5,911.5 383.9,909.7 384.3,909.8 384.6,911.2 385.0,911.8 385.3,910.0 385.7,910.4 386.1,912.8 386.4,913.5 386.8,911.4 387.1,911.3 387.5,911.3 387.9,915.9 388.2,913.2 388.6,912.5 388.9,914.0 389.3,915.9 389.7,914.4 390.0,910.7 390.4,912.7 390.7,912.3 391.1,912.4 391.5,911.2 391.8,912.4 392.2,911.4 392.5,913.5 392.9,913.1 393.3,911.0 393.6,910.7 394.0,912.4 394.3,914.1 394.7,913.9 395.1,913.1 395.4,908.5 395.8,912.5 396.1,912.2 396.5,912.8 396.9,911.6 397.2,912.7 397.6,912.4 397.9,917.3 398.3,914.4 398.7,913.2 399.0,913.4 399.4,913.3 399.7,913.8 400.1,912.9 400.5,913.5 400.8,915.0 401.2,914.7 401.5,914.0 401.9,915.5 402.3,913.9 402.6,912.2 403.0,911.1 403.3,912.7 403.7,913.6 404.1,914.3 404.4,915.2 404.8,912.9 405.1,912.6 405.5,914.8 405.9,915.4 406.2,913.1 406.6,914.3 406.9,915.8 407.3,914.3 407.7,913.8 408.0,910.9 408.4,915.8 408.7,914.8 409.1,914.1 409.5,913.2 409.8,912.2 410.2,913.8 410.5,913.8 410.9,915.5 411.3,912.3 411.6,916.1 412.0,914.1 412.3,915.7 412.7,912.7 413.1,914.6 413.4,915.8 413.8,914.3 414.1,912.0 414.5,913.7 414.9,914.9 415.2,912.2 415.6,912.1 415.9,914.5 416.3,912.9 416.7,915.2 417.0,912.6 417.4,911.7 417.7,913.2 418.1,916.4 418.5,913.1 418.8,914.3 419.2,914.7 419.5,913.0 419.9,915.9 420.3,914.7 420.6,915.0 421.0,912.1 421.3,912.0 421.7,910.6 422.1,914.2 422.4,914.2 422.8,915.5 423.1,916.6 423.5,914.2 423.9,914.2 424.2,915.2 424.6,916.8 424.9,913.5 425.3,915.5 425.7,914.3 426.0,914.2 426.4,915.8 426.7,913.6 427.1,913.2 427.5,915.7 427.8,914.7 428.2,914.4 428.5,914.6 428.9,915.5 429.3,914.3 429.6,915.9 430.0,915.4 430.3,916.9 430.7,916.6 431.1,916.1 431.4,914.6 431.8,915.1 432.1,914.1 432.5,918.9 432.9,914.6 433.2,915.7 433.6,916.9 433.9,913.1 434.3,913.9 434.7,914.5 435.0,913.6 435.4,913.3 435.7,914.3 436.1,916.9 436.5,916.1 436.8,915.1 437.2,915.2 437.5,912.8 437.9,916.1 438.3,915.7 438.6,913.7 439.0,915.5 439.3,914.9 439.7,914.5 440.1,913.8 440.4,914.3 440.8,913.9 441.1,915.9 441.5,915.8 441.9,915.7 442.2,915.0 442.6,914.7 442.9,918.1 443.3,912.7 443.7,917.0 444.0,915.8 444.4,915.4 444.7,914.6 445.1,915.0 445.5,913.7 445.8,913.4 446.2,915.2 446.5,913.1 446.9,916.5 447.3,916.9 447.6,910.6 448.0,913.2 448.3,915.8 448.7,915.7 449.1,915.6 449.4,916.0 449.8,916.5 450.1,916.6 450.5,917.9 450.9,915.5 451.2,916.6 451.6,913.2 451.9,915.3 452.3,913.8 452.7,917.4 453.0,918.7 453.4,916.2 453.7,913.7 454.1,915.3 454.5,915.5 454.8,915.7 455.2,917.0 455.5,916.8 455.9,911.8 456.3,917.4 456.6,914.8 457.0,914.7 457.3,917.4 457.7,915.1 458.1,913.6 458.4,913.6 458.8,915.5 459.1,916.7 459.5,917.6 459.9,915.2 460.2,914.8 460.6,917.7 460.9,914.8 461.3,917.5 461.7,915.8 462.0,915.8 462.4,915.1 462.7,915.9 463.1,914.8 463.5,914.5 463.8,915.3 464.2,914.6 464.5,915.9 464.9,915.6 465.3,915.1 465.6,915.2 466.0,915.1 466.3,917.9 466.7,915.4 467.1,914.6 467.4,915.0 467.8,916.4 468.1,915.2 468.5,915.2 468.9,915.1 469.2,915.7 469.6,916.0 469.9,916.0 470.3,913.2 470.7,913.9 471.0,911.8 471.4,916.5 471.7,917.0 472.1,917.2 472.5,915.6 472.8,917.0 473.2,915.4 473.5,915.2 473.9,913.3 474.3,914.3 474.6,914.6 475.0,916.7 475.3,917.7 475.7,914.7 476.1,915.9 476.4,915.8 476.8,914.3 477.1,913.0 477.5,914.3 477.9,913.4 478.2,914.9 478.6,915.2 478.9,915.1 479.3,915.1 479.7,916.0 480.0,914.0 480.4,916.6 480.7,913.0 481.1,915.4 481.5,915.8 481.8,914.2 482.2,913.1 482.5,916.2 482.9,914.3 483.3,916.4 483.6,916.3 484.0,915.3 484.3,915.3 484.7,916.6 485.1,915.8 485.4,913.9 485.8,915.5 486.1,916.0 486.5,915.5 486.9,915.5 487.2,915.0 487.6,915.0 487.9,913.9 488.3,913.2 488.7,916.7 489.0,914.3 489.4,915.5 489.7,913.1 490.1,915.4 490.5,914.0 490.8,919.2 491.2,913.7 491.5,913.8 491.9,916.4 492.3,916.7 492.6,912.1 493.0,915.4 493.3,916.3 493.7,913.3 494.1,916.0 494.4,914.3 494.8,913.6 495.1,914.5 495.5,914.3 495.9,913.0 496.2,918.1 496.6,914.3 496.9,913.9 497.3,916.1 497.7,914.8 498.0,916.8 498.4,914.5 498.7,915.3 499.1,915.0 499.5,915.0 499.8,914.5 500.2,914.3 500.5,915.6 500.9,913.0 501.3,912.6 501.6,912.2 502.0,912.5 502.3,911.7 502.7,911.6 503.1,908.0 503.4,909.3 503.8,907.9 504.1,906.9 504.5,906.8 504.9,902.8 505.2,905.4 505.6,904.4 505.9,901.7 506.3,902.4 506.7,903.6 507.0,900.1 507.4,900.4 507.7,898.3 508.1,896.4 508.5,895.1 508.8,894.8 509.2,896.4 509.5,894.5 509.9,891.2 510.3,892.5 510.6,889.9 511.0,888.0 511.3,888.7 511.7,886.1 512.1,884.1 512.4,886.5 512.8,880.7 513.1,883.0 513.5,879.5 513.9,880.0 514.2,878.9 514.6,877.9 514.9,876.0 515.3,877.0 515.7,876.8 516.0,876.5 516.4,877.5 516.7,879.1 517.1,879.6 517.5,882.0 517.8,882.2 518.2,886.0 518.5,887.9 518.9,890.7 519.3,891.2 519.6,892.0 520.0,894.4 520.3,892.3 520.7,896.3 521.1,895.0 521.4,895.9 521.8,899.2 522.1,899.0 522.5,901.4 522.9,898.7 523.2,901.7 523.6,901.5 523.9,902.6 524.3,901.4 524.7,905.3 525.0,905.1 525.4,904.3 525.7,904.4 526.1,905.2 526.5,908.1 526.8,906.5 527.2,906.4 527.5,907.9 527.9,907.4 528.3,907.9 528.6,908.9 529.0,908.5 529.3,909.5 529.7,906.7 530.1,908.8 530.4,908.3 530.8,909.2 531.1,909.2 531.5,908.5 531.9,909.1 532.2,911.1 532.6,909.2 532.9,908.3 533.3,911.1 533.7,911.8 534.0,910.2 534.4,910.9 534.7,909.7 535.1,910.7 535.5,912.6 535.8,912.3 536.2,911.5 536.5,911.1 536.9,909.3 537.3,912.1 537.6,912.4 538.0,913.3 538.3,914.7 538.7,912.5 539.1,913.4 539.4,910.6 539.8,913.8 540.1,913.4 540.5,914.1 540.9,913.2 541.2,912.9 541.6,914.4 541.9,911.5 542.3,913.3 542.7,913.9 543.0,911.4 543.4,910.9 543.7,912.9 544.1,912.5 544.5,913.1 544.8,913.0 545.2,911.1 545.5,912.4 545.9,913.4 546.3,911.3 546.6,911.2 547.0,910.0 547.3,912.4 547.7,913.8 548.1,909.1 548.4,911.8 548.8,911.8 549.1,909.5 549.5,909.6 549.9,908.4 550.2,908.5 550.6,909.6 550.9,910.1 551.3,909.1 551.7,909.9 552.0,908.7 552.4,906.4 552.7,910.0 553.1,909.3 553.5,906.2 553.8,909.7 554.2,907.5 554.5,906.7 554.9,909.1 555.3,902.1 555.6,903.2 556.0,906.5 556.3,904.8 556.7,903.5 557.1,906.5 557.4,904.9 557.8,902.2 558.1,902.6 558.5,904.2 558.9,905.1 559.2,899.4 559.6,902.1 559.9,900.7 560.3,898.1 560.7,900.0 561.0,897.2 561.4,898.3 561.7,901.2 562.1,898.9 562.5,898.8 562.8,898.0 563.2,897.1 563.5,897.5 563.9,894.0 564.3,894.6 564.6,895.9 565.0,893.3 565.3,893.3 565.7,895.1 566.1,895.2 566.4,892.1 566.8,891.6 567.1,893.1 567.5,892.6 567.9,891.3 568.2,892.7 568.6,892.6 568.9,892.1 569.3,895.4 569.7,893.8 570.0,893.3 570.4,893.8 570.7,896.5 571.1,894.6 571.5,892.6 571.8,894.4 572.2,894.5 572.5,894.1 572.9,895.7 573.3,896.2 573.6,896.3 574.0,896.2 574.3,898.7 574.7,895.5 575.1,899.8 575.4,899.0 575.8,900.0 576.1,896.7 576.5,902.9 576.9,898.7 577.2,900.4 577.6,902.8 577.9,901.6 578.3,902.2 578.7,900.2 579.0,902.8 579.4,903.9 579.7,904.9 580.1,903.6 580.5,904.7 580.8,905.2 581.2,903.7 581.5,903.9 581.9,908.2 582.3,904.2 582.6,907.6 583.0,906.0 583.3,908.4 583.7,905.4 584.1,907.3 584.4,907.3 584.8,906.6 585.1,907.6 585.5,906.2 585.9,907.5 586.2,907.2 586.6,909.1 586.9,908.0 587.3,906.3 587.7,908.0 588.0,908.6 588.4,907.6 588.7,911.0 589.1,909.8 589.5,910.6 589.8,908.4 590.2,909.1 590.5,911.3 590.9,907.9 591.3,910.7 591.6,910.4 592.0,909.7 592.3,910.7 592.7,909.1 593.1,911.1 593.4,909.2 593.8,909.2 594.1,913.1 594.5,910.2 594.9,908.4 595.2,912.8 595.6,910.4 595.9,906.7 596.3,911.6 596.7,913.0 597.0,912.3 597.4,914.3 597.7,911.8 598.1,912.9 598.5,910.6 598.8,912.4 599.2,914.4 599.5,913.0 599.9,912.5 600.3,909.6 600.6,911.9 601.0,910.6 601.3,913.6 601.7,911.5 602.1,913.2 602.4,911.3 602.8,915.4 603.1,911.1 603.5,913.1 603.9,916.6 604.2,913.3 604.6,911.8 604.9,913.9 605.3,914.5 605.7,914.4 606.0,910.4 606.4,913.5 606.7,910.3 607.1,916.0 607.5,913.5 607.8,912.8 608.2,914.4 608.5,914.2 608.9,911.9 609.3,915.8 609.6,913.3 610.0,911.2 610.3,915.6 610.7,915.8 611.1,915.5 611.4,914.5 611.8,912.6 612.1,915.1 612.5,916.4 612.9,915.0 613.2,916.1 613.6,912.8 613.9,915.4 614.3,915.3 614.7,911.9 615.0,911.7 615.4,913.0 615.7,914.1 616.1,914.7 616.5,913.7 616.8,914.0 617.2,913.9 617.5,914.2 617.9,914.9 618.3,914.8 618.6,914.0 619.0,914.4 619.3,913.4 619.7,915.2 620.1,913.4 620.4,916.3 620.8,914.0 621.1,914.4 621.5,912.9 621.9,913.5 622.2,914.2 622.6,913.9 622.9,913.0 623.3,912.2 623.7,913.9 624.0,914.0 624.4,914.5 624.7,915.5 625.1,913.3 625.5,910.9 625.8,913.4 626.2,911.0 626.5,911.7 626.9,914.9 627.3,914.2 627.6,912.5 628.0,912.4 628.3,913.1 628.7,910.7 629.1,913.8 629.4,912.6 629.8,915.6 630.1,911.5 630.5,914.3 630.9,911.9 631.2,914.2 631.6,911.3 631.9,913.7 632.3,911.9 632.7,911.3 633.0,912.2 633.4,913.0 633.7,912.9 634.1,914.5 634.5,913.3 634.8,908.3 635.2,911.4 635.5,909.0 635.9,911.3 636.3,912.7 636.6,909.7 637.0,909.9 637.3,911.7 637.7,911.0 638.1,913.7 638.4,911.7 638.8,912.0 639.1,913.6 639.5,910.3 639.9,910.9 640.2,909.4 640.6,911.1 640.9,912.1 641.3,912.4 641.7,910.3 642.0,909.2 642.4,909.0 642.7,907.9 643.1,909.9 643.5,911.5 643.8,906.0 644.2,906.1 644.5,911.1 644.9,906.5 645.3,909.2 645.6,906.6 646.0,909.4 646.3,909.2 646.7,908.1 647.1,908.9 647.4,907.5 647.8,908.1 648.1,909.8 648.5,908.5 648.9,905.5 649.2,905.1 649.6,905.7 649.9,905.5 650.3,905.8 650.7,904.5 651.0,906.2 651.4,905.0 651.7,905.3 652.1,904.5 652.5,905.2 652.8,902.1 653.2,906.3 653.5,904.1 653.9,904.1 654.3,904.1 654.6,904.6 655.0,903.8 655.3,902.8 655.7,902.0 656.1,899.5 656.4,902.0 656.8,900.9 657.1,900.6 657.5,904.6 657.9,897.5 658.2,900.2 658.6,901.7 658.9,901.0 659.3,901.1 659.7,897.3 660.0,897.5 660.4,899.5 660.7,898.0 661.1,900.5 661.5,898.5 661.8,898.4 662.2,898.7 662.5,897.7 662.9,898.3 663.3,897.2 663.6,898.2 664.0,897.6 664.3,898.8 664.7,896.4 665.1,896.4 665.4,899.5 665.8,899.3 666.1,897.7 666.5,898.9 666.9,897.9 667.2,902.8 667.6,897.4 667.9,902.7 668.3,899.0 668.7,901.1 669.0,900.2 669.4,900.3 669.7,902.6 670.1,902.6 670.5,901.1 670.8,900.3 671.2,905.0 671.5,904.1 671.9,902.6 672.3,902.4 672.6,903.5 673.0,903.6 673.3,905.6 673.7,902.9 674.1,904.7 674.4,904.0 674.8,907.6 675.1,908.9 675.5,906.4 675.9,907.8 676.2,909.5 676.6,907.5 676.9,907.0 677.3,910.1 677.7,909.7 678.0,909.2 678.4,911.5 678.7,910.3 679.1,908.2 679.5,910.8 679.8,910.5 680.2,913.2 680.5,910.7 680.9,910.5 681.3,911.6 681.6,911.4 682.0,909.0 682.3,911.3 682.7,910.8 683.1,913.4 683.4,914.9 683.8,909.8 684.1,910.1 684.5,910.4 684.9,910.7 685.2,910.7 685.6,911.9 685.9,913.4 686.3,910.0 686.7,909.7 687.0,909.3 687.4,913.7 687.7,914.0 688.1,910.0 688.5,909.9 688.8,912.5 689.2,913.9 689.5,913.8 689.9,912.7 690.3,913.4 690.6,913.0 691.0,911.8 691.3,915.3 691.7,912.6 692.1,911.1 692.4,912.0 692.8,910.5 693.1,912.8 693.5,914.4 693.9,911.0 694.2,914.5 694.6,915.9 694.9,913.5 695.3,911.3 695.7,911.8 696.0,912.6 696.4,911.3 696.7,911.3 697.1,912.8 697.5,912.9 697.8,914.1 698.2,911.5 698.5,916.0 698.9,914.8 699.3,914.6 699.6,912.4 700.0,915.9 700.3,912.9 700.7,916.0 701.1,915.0 701.4,912.2 701.8,912.9 702.1,916.2 702.5,915.0 702.9,913.4 703.2,913.9 703.6,913.9 703.9,912.6 704.3,913.4 704.7,912.8 705.0,913.1 705.4,914.4 705.7,912.4 706.1,914.8 706.5,914.0 706.8,915.0 707.2,915.2 707.5,915.7 707.9,914.8 708.3,915.0 708.6,913.7 709.0,914.8 709.3,912.8 709.7,913.7 710.1,915.2 710.4,914.1 710.8,914.8 711.1,912.7 711.5,916.2 711.9,913.5 712.2,914.9 712.6,914.3 712.9,915.7 713.3,913.9 713.7,913.0 714.0,911.8 714.4,914.1 714.7,912.8 715.1,915.3 715.5,916.6 715.8,911.5 716.2,912.8 716.5,915.1 716.9,916.5 717.3,915.2 717.6,915.3 718.0,915.5 718.3,915.7 718.7,917.2 719.1,915.8 719.4,913.2 719.8,914.3 720.1,915.3 720.5,913.9 720.9,914.7 721.2,914.4 721.6,914.2 721.9,916.2 722.3,914.7 722.7,913.7 723.0,914.3 723.4,915.4 723.7,918.3 724.1,915.7 724.5,917.5 724.8,916.1 725.2,912.5 725.5,916.0 725.9,914.3 726.3,913.7 726.6,914.1 727.0,918.1 727.3,913.5 727.7,914.8 728.1,917.3 728.4,916.7 728.8,913.4 729.1,915.7 729.5,915.1 729.9,915.6 730.2,917.0 730.6,915.1 730.9,915.5 731.3,918.0 731.7,913.5 732.0,915.5 732.4,916.7 732.7,914.4 733.1,915.3 733.5,914.3 733.8,916.4 734.2,915.4 734.5,917.3 734.9,917.7 735.3,916.4 735.6,915.8 736.0,916.7 736.3,916.5 736.7,914.7 737.1,917.9 737.4,916.8 737.8,917.6 738.1,914.6 738.5,917.7 738.9,919.4 739.2,917.4 739.6,914.6 739.9,916.7 740.3,916.5 740.7,916.9 741.0,916.3 741.4,917.4 741.7,916.1 742.1,917.0 742.5,915.8 742.8,916.9 743.2,918.2 743.5,916.1 743.9,917.7 744.3,915.6 744.6,916.3 745.0,916.5 745.3,918.6 745.7,915.9 746.1,918.6 746.4,914.9 746.8,916.7 747.1,918.2 747.5,917.9 747.9,915.6 748.2,915.3 748.6,918.2 748.9,915.3 749.3,917.8 749.7,916.3 750.0,917.0 750.4,920.2 750.7,919.2 751.1,918.2 751.5,915.2 751.8,917.5 752.2,917.2 752.5,917.0 752.9,918.9 753.3,914.7 753.6,917.5 754.0,917.3 754.3,916.1 754.7,919.5 755.1,915.4 755.4,917.2 755.8,917.2 756.1,914.1 756.5,915.1 756.9,915.8 757.2,918.2 757.6,918.4 757.9,917.9 758.3,917.4 758.7,914.1 759.0,917.4 759.4,916.4 759.7,918.7 760.1,919.0 760.5,920.2 760.8,918.1 761.2,918.2 761.5,915.7 761.9,917.2 762.3,915.4 762.6,918.3 763.0,915.5 763.3,916.8 763.7,916.0 764.1,916.5 764.4,917.7 764.8,916.3 765.1,917.4 765.5,915.7 765.9,919.0 766.2,916.2 766.6,918.5 766.9,920.0 767.3,913.7 767.7,915.7 768.0,916.8 768.4,918.7 768.7,916.4 769.1,917.6 769.5,916.1 769.8,917.9 770.2,915.4 770.5,918.3 770.9,913.0 771.3,914.5 771.6,919.6 772.0,917.3 772.3,915.9 772.7,920.1 773.1,918.6 773.4,918.7 773.8,916.5 774.1,918.0 774.5,917.8 774.9,914.8 775.2,917.9 775.6,916.8 775.9,918.9 776.3,918.9 776.7,916.2 777.0,916.3 777.4,917.4 777.7,918.0 778.1,916.5 778.5,916.9 778.8,917.9 779.2,917.7 779.5,918.7 779.9,917.4 780.3,915.9 780.6,914.6 781.0,918.2 781.3,916.6 781.7,916.6 782.1,916.7 782.4,914.9 782.8,916.6 783.1,913.5 783.5,916.5 783.9,915.8 784.2,919.6 784.6,917.7 784.9,916.8 785.3,917.3 785.7,918.1 786.0,916.0 786.4,916.8 786.7,916.6 787.1,920.5 787.5,917.2 787.8,914.4 788.2,918.2 788.5,920.7 788.9,915.8 789.3,921.9 789.6,917.0 790.0,918.5 790.3,916.3 790.7,916.7 791.1,915.4 791.4,915.6 791.8,914.1 792.1,918.7 792.5,915.5 792.9,917.6 793.2,917.5 793.6,916.2 793.9,917.2 794.3,917.0 794.7,916.4 795.0,917.2 795.4,917.2 795.7,915.7 796.1,915.3 796.5,915.9 796.8,917.3 797.2,919.0 797.5,919.1 797.9,917.5 798.3,918.4 798.6,917.3 799.0,918.6 799.3,917.3 799.7,917.6 800.1,916.7 800.4,917.1 800.8,919.7 801.1,915.4 801.5,917.1 801.9,916.3 802.2,918.4 802.6,919.6 802.9,916.6 803.3,913.2 803.7,917.9 804.0,917.9 804.4,914.7 804.7,916.7 805.1,917.0 805.5,913.8 805.8,918.0 806.2,917.7 806.5,917.4 806.9,915.6 807.3,916.1 807.6,916.2 808.0,917.7 808.3,915.7 808.7,919.1 809.1,917.6 809.4,914.0 809.8,919.4 810.1,917.3 810.5,916.4 810.9,917.1 811.2,915.6 811.6,916.9 811.9,914.3 812.3,914.7 812.7,917.2 813.0,916.1 813.4,913.9 813.7,913.1 814.1,914.2 814.5,913.5 814.8,913.9 815.2,914.5 815.5,913.1 815.9,915.5 816.3,912.2 816.6,917.5 817.0,913.9 817.3,915.5 817.7,915.9 818.1,917.5 818.4,917.7 818.8,917.4 819.1,917.7 819.5,917.7 819.9,917.0 820.2,914.4 820.6,913.8 820.9,913.8 821.3,917.0 821.7,916.7 822.0,916.8 822.4,917.3 822.7,916.7 823.1,915.6 823.5,914.8 823.8,914.3 824.2,918.6 824.5,918.2 824.9,915.0 825.3,916.5 825.6,917.4 826.0,919.0 826.3,915.9 826.7,917.0 827.1,918.3 827.4,914.2 827.8,915.6 828.1,916.6 828.5,915.6 828.9,919.5 829.2,917.7 829.6,916.7 829.9,915.1 830.3,917.6 830.7,917.2 831.0,915.5 831.4,915.6 831.7,914.1 832.1,916.0 832.5,917.3 832.8,917.4 833.2,916.8 833.5,917.1 833.9,915.0 834.3,915.1 834.6,917.4 835.0,916.2 835.3,914.7 835.7,915.9 836.1,916.0 836.4,915.5 836.8,914.6 837.1,913.5 837.5,913.9 837.9,914.7 838.2,912.3 838.6,910.6 838.9,911.1 839.3,908.1 839.7,909.4 840.0,907.8 840.4,908.9 840.7,906.7 841.1,907.3 841.5,907.7 841.8,903.9 842.2,902.3 842.5,902.5 842.9,900.7 843.3,899.8 843.6,897.3 844.0,897.7 844.3,895.8 844.7,892.5 845.1,893.4 845.4,893.0 845.8,892.8 846.1,891.2 846.5,890.8 846.9,892.1 847.2,891.3 847.6,892.3 847.9,893.3 848.3,894.5 848.7,894.8 849.0,894.7 849.4,898.4 849.7,897.8 850.1,898.8 850.5,903.8 850.8,903.3 851.2,902.2 851.5,904.0 851.9,905.3 852.3,905.8 852.6,905.7 853.0,908.1 853.3,908.4 853.7,908.1 854.1,907.5 854.4,907.7 854.8,907.7 855.1,905.5 855.5,905.5 855.9,904.5 856.2,905.4 856.6,904.1 856.9,900.8 857.3,901.1 857.7,904.0 858.0,899.2 858.4,900.0 858.7,898.3 859.1,899.5 859.5,896.9 859.8,895.3 860.2,893.4 860.5,893.7 860.9,893.9 861.3,892.8 861.6,890.5 862.0,892.2 862.3,890.6 862.7,890.1 863.1,891.0 863.4,891.1 863.8,891.8 864.1,892.7 864.5,894.2 864.9,895.1 865.2,894.9 865.6,899.1 865.9,899.0 866.3,902.8 866.7,903.2 867.0,904.5 867.4,905.3 867.7,907.2 868.1,906.8 868.5,906.9 868.8,908.6 869.2,905.0 869.5,908.5 869.9,909.8 870.3,909.2 870.6,912.0 871.0,911.6 871.3,911.1 871.7,910.7 872.1,913.2 872.4,911.0 872.8,911.7 873.1,913.6 873.5,913.7 873.9,915.9 874.2,913.1 874.6,911.1 874.9,914.8 875.3,915.8 875.7,914.1 876.0,916.6 876.4,917.0 876.7,913.9 877.1,914.3 877.5,913.5 877.8,915.9 878.2,916.3 878.5,916.2 878.9,913.8 879.3,914.5 879.6,913.6 880.0,913.3 880.3,913.7 880.7,913.4 881.1,915.5 881.4,916.4 881.8,916.7 882.1,915.8 882.5,914.9 882.9,915.9 883.2,916.8 883.6,915.6 883.9,916.1 884.3,915.7 884.7,915.4 885.0,916.2 885.4,914.6 885.7,917.7 886.1,914.0 886.5,916.9 886.8,914.4 887.2,918.5 887.5,917.6 887.9,915.3 888.3,915.8 888.6,914.9 889.0,916.4 889.3,917.1 889.7,920.1 890.1,914.6 890.4,918.3 890.8,915.8 891.1,917.0 891.5,917.9 891.9,917.4 892.2,917.3 892.6,916.4 892.9,916.7 893.3,917.0 893.7,918.4 894.0,914.7 894.4,916.1 894.7,915.1 895.1,915.5 895.5,915.7 895.8,918.4 896.2,919.9 896.5,918.8 896.9,915.2 897.3,917.0 897.6,915.3 898.0,917.5 898.3,918.7 898.7,917.8 899.1,918.2 899.4,916.8 899.8,914.2 900.1,914.2 900.5,916.8 900.9,917.8 901.2,918.8 901.6,916.5 901.9,917.1 902.3,917.4 902.7,918.5 903.0,916.9 903.4,915.7 903.7,918.1 904.1,917.3 904.5,917.1 904.8,915.1 905.2,916.2 905.5,913.8 905.9,913.0 906.3,915.0 906.6,914.4 907.0,915.5 907.3,916.3 907.7,914.1 908.1,916.0 908.4,913.1 908.8,914.4 909.1,912.2 909.5,913.6 909.9,913.3 910.2,913.5 910.6,914.6 910.9,912.1 911.3,914.6 911.7,913.8 912.0,915.4 912.4,916.2 912.7,915.5 913.1,915.9 913.5,915.4 913.8,917.7 914.2,916.6 914.5,918.0 914.9,916.3 915.3,919.3 915.6,916.7 916.0,919.5 916.3,917.4 916.7,918.8 917.1,917.9 917.4,919.0 917.8,918.1 918.1,919.9 918.5,919.1 918.9,919.2 919.2,920.5 919.6,917.3 919.9,920.1 920.3,918.4 920.7,916.4 921.0,919.0 921.4,918.1 921.7,920.7 922.1,917.8 922.5,918.6 922.8,918.8 923.2,916.0 923.5,919.2 923.9,917.2 924.3,920.5 924.6,920.9 925.0,918.6 925.3,916.5 925.7,918.9 926.1,918.9 926.4,919.7 926.8,918.3 927.1,917.1 927.5,918.5 927.9,917.5 928.2,921.2 928.6,917.8 928.9,917.9 929.3,918.7 929.7,917.1 930.0,918.2 930.4,918.6 930.7,918.2 931.1,918.5 931.5,920.5 931.8,919.5 932.2,917.1 932.5,918.3 932.9,919.9 933.3,918.0 933.6,919.0 934.0,918.9 934.3,919.7 934.7,918.7 935.1,918.8 935.4,917.8 935.8,919.5 936.1,917.7 936.5,921.3 936.9,919.0 937.2,918.7 937.6,920.1 937.9,918.9 938.3,919.2 938.7,919.0 939.0,918.1 939.4,917.9 939.7,918.2 940.1,920.6 940.5,918.3 940.8,918.6 941.2,918.6 941.5,920.1 941.9,921.9 942.3,918.0 942.6,919.9 943.0,919.4 943.3,918.8 943.7,919.9 944.1,917.6 944.4,920.4 944.8,919.6 945.1,918.0 945.5,921.5 945.9,920.5 946.2,920.9 946.6,917.4 946.9,919.0 947.3,918.7 947.7,920.2 948.0,921.2 948.4,916.9 948.7,919.5 949.1,919.3 949.5,920.8 949.8,919.4 950.2,917.8 950.5,919.2 950.9,918.1 951.3,918.5 951.6,919.6 952.0,918.9 952.3,919.9 952.7,917.5 953.1,922.7 953.4,921.3 953.8,920.5 954.1,917.9 954.5,916.7 954.9,918.5 955.2,919.3 955.6,922.6 955.9,921.4 956.3,919.0 956.7,921.3 957.0,921.3 957.4,919.7 957.7,921.3 958.1,920.2 958.5,918.9 958.8,918.2 959.2,919.6 959.5,921.1 959.9,918.0 960.3,917.6 960.6,920.5 961.0,916.2 961.3,922.2 961.7,919.2 962.1,920.8 962.4,922.3 962.8,917.9 963.1,918.5 963.5,922.8 963.9,919.5 964.2,919.7 964.6,920.2 964.9,921.3 965.3,921.7 965.7,920.0 966.0,919.5 966.4,919.9 966.7,920.3 967.1,921.7 967.5,920.1 967.8,922.4 968.2,918.8 968.5,920.7 968.9,922.3 969.3,921.7 969.6,920.4 970.0,918.8 970.3,919.1" fill="none" stroke="#b4de2c" stroke-width="5.2" stroke-linejoin="round" stroke-linecap="round"/>
<path d="M97.3,904.8 97.7,914.4 98.1,922.9 98.4,930.8 98.8,938.6 99.1,945.9 99.5,952.1 99.9,956.2 100.2,962.5 100.6,968.9 100.9,977.4 101.3,987.8 101.7,994.9 102.0,1000.9 102.4,1004.4 102.7,1007.3 103.1,1009.7 103.5,1013.4 103.8,1015.7 104.2,1019.1 104.5,1018.8 104.9,1022.3 105.3,1024.8 105.6,1023.2 106.0,1027.3 106.3,1026.0 106.7,1029.8 107.1,1032.3 107.4,1031.6 107.8,1033.2 108.1,1033.0 108.5,1035.4 108.9,1037.5 109.2,1036.8 109.6,1037.8 109.9,1039.4 110.3,1040.9 110.7,1038.5 111.0,1041.5 111.4,1041.3 111.7,1043.6 112.1,1045.1 112.5,1044.8 112.8,1046.8 113.2,1044.2 113.5,1045.6 113.9,1045.3 114.3,1047.3 114.6,1047.9 115.0,1048.0 115.3,1046.9 115.7,1049.1 116.1,1049.0 116.4,1051.1 116.8,1050.2 117.1,1052.8 117.5,1051.8 117.9,1049.0 118.2,1052.0 118.6,1050.5 118.9,1054.6 119.3,1055.7 119.7,1053.8 120.0,1054.9 120.4,1052.3 120.7,1051.4 121.1,1054.3 121.5,1055.1 121.8,1053.5 122.2,1056.3 122.5,1056.9 122.9,1057.7 123.3,1059.4 123.6,1058.5 124.0,1057.0 124.3,1058.0 124.7,1059.0 125.1,1056.6 125.4,1060.6 125.8,1060.2 126.1,1058.6 126.5,1058.2 126.9,1065.5 127.2,1061.0 127.6,1061.3 127.9,1062.9 128.3,1061.8 128.7,1060.8 129.0,1061.7 129.4,1059.4 129.7,1062.1 130.1,1058.7 130.5,1062.0 130.8,1062.4 131.2,1059.3 131.5,1064.9 131.9,1060.3 132.3,1063.9 132.6,1061.6 133.0,1063.1 133.3,1061.7 133.7,1066.8 134.1,1064.7 134.4,1066.0 134.8,1064.6 135.1,1064.6 135.5,1063.9 135.9,1063.4 136.2,1064.9 136.6,1064.3 136.9,1064.0 137.3,1062.2 137.7,1064.0 138.0,1065.6 138.4,1064.0 138.7,1065.4 139.1,1064.8 139.5,1063.5 139.8,1063.9 140.2,1064.2 140.5,1065.0 140.9,1065.2 141.3,1067.4 141.6,1064.2 142.0,1062.8 142.3,1067.1 142.7,1065.5 143.1,1066.1 143.4,1070.3 143.8,1068.7 144.1,1067.5 144.5,1068.1 144.9,1067.0 145.2,1068.4 145.6,1066.1 145.9,1066.0 146.3,1066.5 146.7,1069.7 147.0,1069.8 147.4,1066.6 147.7,1069.4 148.1,1067.5 148.5,1069.5 148.8,1067.5 149.2,1069.5 149.5,1068.0 149.9,1067.9 150.3,1068.4 150.6,1068.7 151.0,1067.7 151.3,1066.7 151.7,1071.3 152.1,1068.3 152.4,1066.3 152.8,1065.7 153.1,1065.1 153.5,1068.4 153.9,1071.4 154.2,1067.1 154.6,1069.1 154.9,1067.0 155.3,1071.4 155.7,1070.4 156.0,1070.4 156.4,1072.0 156.7,1072.5 157.1,1071.7 157.5,1069.4 157.8,1068.4 158.2,1068.9 158.5,1067.9 158.9,1073.1 159.3,1070.3 159.6,1070.8 160.0,1071.0 160.3,1073.7 160.7,1070.0 161.1,1072.6 161.4,1071.3 161.8,1070.7 162.1,1068.2 162.5,1072.3 162.9,1070.0 163.2,1070.4 163.6,1071.4 163.9,1071.3 164.3,1072.7 164.7,1070.2 165.0,1071.4 165.4,1071.6 165.7,1071.2 166.1,1072.1 166.5,1070.8 166.8,1072.9 167.2,1070.1 167.5,1069.1 167.9,1071.1 168.3,1072.9 168.6,1070.4 169.0,1070.2 169.3,1070.7 169.7,1071.4 170.1,1070.9 170.4,1071.6 170.8,1068.7 171.1,1073.3 171.5,1072.0 171.9,1069.9 172.2,1073.2 172.6,1071.8 172.9,1073.3 173.3,1069.4 173.7,1073.6 174.0,1071.2 174.4,1068.2 174.7,1072.3 175.1,1070.7 175.5,1069.7 175.8,1070.8 176.2,1068.3 176.5,1072.0 176.9,1070.8 177.3,1070.8 177.6,1073.2 178.0,1071.2 178.3,1070.2 178.7,1069.8 179.1,1071.1 179.4,1072.7 179.8,1070.3 180.1,1069.6 180.5,1072.5 180.9,1071.2 181.2,1071.1 181.6,1074.2 181.9,1069.4 182.3,1071.5 182.7,1068.6 183.0,1070.7 183.4,1072.0 183.7,1072.8 184.1,1069.3 184.5,1072.4 184.8,1072.3 185.2,1071.0 185.5,1074.7 185.9,1071.2 186.3,1069.9 186.6,1071.8 187.0,1068.4 187.3,1073.4 187.7,1072.6 188.1,1070.6 188.4,1072.1 188.8,1071.9 189.1,1074.0 189.5,1070.3 189.9,1069.3 190.2,1068.2 190.6,1070.7 190.9,1068.9 191.3,1070.9 191.7,1071.7 192.0,1070.5 192.4,1069.7 192.7,1072.8 193.1,1070.7 193.5,1071.3 193.8,1072.3 194.2,1069.1 194.5,1069.6 194.9,1074.4 195.3,1070.6 195.6,1069.3 196.0,1070.3 196.3,1069.8 196.7,1068.8 197.1,1070.0 197.4,1070.5 197.8,1070.4 198.1,1071.1 198.5,1067.8 198.9,1068.0 199.2,1071.3 199.6,1069.4 199.9,1071.7 200.3,1070.3 200.7,1067.7 201.0,1070.5 201.4,1068.1 201.7,1069.9 202.1,1071.2 202.5,1072.4 202.8,1069.1 203.2,1070.1 203.5,1069.4 203.9,1070.0 204.3,1064.9 204.6,1068.0 205.0,1068.9 205.3,1069.0 205.7,1067.1 206.1,1069.3 206.4,1069.5 206.8,1067.8 207.1,1067.2 207.5,1066.9 207.9,1067.5 208.2,1068.9 208.6,1069.1 208.9,1066.2 209.3,1065.6 209.7,1065.5 210.0,1066.9 210.4,1065.8 210.7,1065.3 211.1,1064.9 211.5,1064.1 211.8,1062.8 212.2,1060.9 212.5,1060.5 212.9,1060.4 213.3,1059.7 213.6,1057.7 214.0,1056.5 214.3,1057.6 214.7,1054.0 215.1,1053.7 215.4,1051.7 215.8,1049.6 216.1,1047.5 216.5,1047.6 216.9,1046.2 217.2,1045.6 217.6,1042.4 217.9,1040.5 218.3,1039.2 218.7,1035.8 219.0,1034.0 219.4,1031.7 219.7,1027.9 220.1,1026.8 220.5,1024.8 220.8,1025.0 221.2,1022.7 221.5,1021.8 221.9,1021.7 222.3,1022.0 222.6,1024.0 223.0,1026.8 223.3,1029.4 223.7,1034.2 224.1,1036.8 224.4,1039.1 224.8,1041.2 225.1,1043.8 225.5,1047.0 225.9,1050.2 226.2,1052.4 226.6,1055.8 226.9,1058.0 227.3,1059.0 227.7,1059.7 228.0,1061.2 228.4,1062.4 228.7,1063.4 229.1,1066.0 229.5,1063.7 229.8,1065.8 230.2,1066.9 230.5,1066.8 230.9,1067.0 231.3,1066.7 231.6,1067.6 232.0,1069.4 232.3,1070.5 232.7,1068.6 233.1,1070.0 233.4,1070.3 233.8,1071.1 234.1,1070.2 234.5,1070.6 234.9,1071.4 235.2,1068.6 235.6,1070.4 235.9,1067.9 236.3,1067.7 236.7,1069.5 237.0,1068.5 237.4,1071.5 237.7,1072.3 238.1,1070.6 238.5,1070.9 238.8,1070.8 239.2,1070.9 239.5,1071.5 239.9,1071.9 240.3,1070.8 240.6,1070.4 241.0,1070.9 241.3,1072.8 241.7,1071.1 242.1,1073.8 242.4,1071.5 242.8,1073.8 243.1,1070.3 243.5,1071.0 243.9,1072.7 244.2,1072.8 244.6,1071.9 244.9,1075.0 245.3,1072.3 245.7,1072.7 246.0,1071.5 246.4,1074.6 246.7,1073.6 247.1,1073.0 247.5,1070.2 247.8,1073.0 248.2,1071.8 248.5,1073.1 248.9,1073.8 249.3,1071.5 249.6,1072.9 250.0,1073.8 250.3,1072.8 250.7,1072.2 251.1,1071.2 251.4,1071.7 251.8,1070.9 252.1,1074.0 252.5,1072.8 252.9,1071.0 253.2,1072.6 253.6,1070.9 253.9,1068.1 254.3,1074.3 254.7,1074.3 255.0,1070.6 255.4,1071.6 255.7,1072.9 256.1,1072.1 256.5,1071.4 256.8,1071.9 257.2,1072.2 257.5,1071.8 257.9,1072.9 258.3,1072.2 258.6,1071.5 259.0,1072.6 259.3,1070.2 259.7,1074.5 260.1,1070.1 260.4,1072.3 260.8,1072.9 261.1,1073.0 261.5,1072.8 261.9,1074.1 262.2,1070.8 262.6,1072.2 262.9,1072.5 263.3,1071.6 263.7,1071.5 264.0,1074.0 264.4,1071.2 264.7,1071.5 265.1,1071.8 265.5,1071.9 265.8,1072.4 266.2,1071.8 266.5,1072.6 266.9,1072.2 267.3,1072.7 267.6,1073.9 268.0,1070.8 268.3,1074.2 268.7,1071.3 269.1,1072.8 269.4,1072.1 269.8,1071.4 270.1,1069.0 270.5,1074.0 270.9,1070.7 271.2,1070.6 271.6,1073.2 271.9,1071.7 272.3,1074.3 272.7,1073.9 273.0,1072.5 273.4,1071.8 273.7,1072.5 274.1,1069.6 274.5,1071.6 274.8,1071.6 275.2,1070.7 275.5,1071.6 275.9,1069.2 276.3,1072.5 276.6,1073.0 277.0,1069.3 277.3,1071.3 277.7,1073.3 278.1,1071.6 278.4,1069.6 278.8,1069.6 279.1,1072.1 279.5,1073.5 279.9,1069.3 280.2,1070.9 280.6,1069.7 280.9,1070.4 281.3,1071.2 281.7,1070.6 282.0,1069.7 282.4,1073.6 282.7,1070.3 283.1,1070.3 283.5,1072.1 283.8,1070.5 284.2,1070.1 284.5,1071.7 284.9,1068.9 285.3,1071.4 285.6,1071.7 286.0,1071.2 286.3,1069.9 286.7,1070.1 287.1,1067.7 287.4,1069.9 287.8,1070.4 288.1,1071.2 288.5,1070.2 288.9,1069.4 289.2,1068.7 289.6,1069.8 289.9,1070.0 290.3,1071.4 290.7,1069.7 291.0,1068.9 291.4,1069.4 291.7,1068.8 292.1,1069.2 292.5,1066.3 292.8,1067.1 293.2,1067.6 293.5,1069.9 293.9,1069.1 294.3,1069.4 294.6,1070.8 295.0,1067.6 295.3,1070.6 295.7,1069.5 296.1,1067.9 296.4,1071.0 296.8,1066.7 297.1,1067.1 297.5,1068.4 297.9,1069.2 298.2,1068.3 298.6,1065.4 298.9,1068.0 299.3,1068.2 299.7,1071.9 300.0,1070.2 300.4,1068.3 300.7,1066.5 301.1,1068.5 301.5,1066.2 301.8,1068.1 302.2,1068.3 302.5,1067.1 302.9,1068.0 303.3,1067.1 303.6,1066.6 304.0,1069.6 304.3,1068.2 304.7,1066.8 305.1,1066.0 305.4,1067.3 305.8,1067.8 306.1,1068.1 306.5,1069.0 306.9,1067.4 307.2,1065.1 307.6,1069.3 307.9,1068.0 308.3,1067.4 308.7,1068.0 309.0,1063.9 309.4,1065.3 309.7,1064.9 310.1,1067.2 310.5,1063.5 310.8,1064.6 311.2,1067.1 311.5,1065.6 311.9,1063.9 312.3,1066.9 312.6,1062.3 313.0,1064.6 313.3,1063.6 313.7,1064.5 314.1,1063.3 314.4,1062.7 314.8,1063.8 315.1,1062.5 315.5,1064.3 315.9,1063.9 316.2,1065.5 316.6,1064.5 316.9,1064.7 317.3,1066.7 317.7,1068.1 318.0,1065.0 318.4,1067.6 318.7,1068.4 319.1,1066.9 319.5,1067.3 319.8,1068.7 320.2,1067.1 320.5,1067.1 320.9,1069.6 321.3,1066.3 321.6,1066.1 322.0,1064.1 322.3,1065.2 322.7,1064.6 323.1,1067.9 323.4,1066.9 323.8,1063.2 324.1,1067.1 324.5,1065.0 324.9,1063.2 325.2,1064.1 325.6,1063.0 325.9,1060.7 326.3,1058.9 326.7,1059.8 327.0,1060.3 327.4,1059.3 327.7,1058.0 328.1,1059.1 328.5,1055.5 328.8,1056.6 329.2,1054.7 329.5,1054.5 329.9,1053.2 330.3,1053.9 330.6,1052.8 331.0,1051.2 331.3,1053.6 331.7,1053.5 332.1,1054.8 332.4,1053.9 332.8,1052.5 333.1,1053.1 333.5,1052.1 333.9,1053.5 334.2,1056.0 334.6,1057.3 334.9,1057.6 335.3,1058.2 335.7,1059.4 336.0,1060.1 336.4,1059.0 336.7,1060.5 337.1,1062.6 337.5,1063.0 337.8,1062.4 338.2,1061.9 338.5,1061.9 338.9,1061.8 339.3,1061.3 339.6,1060.0 340.0,1063.2 340.3,1062.4 340.7,1062.9 341.1,1065.8 341.4,1064.3 341.8,1062.4 342.1,1064.4 342.5,1061.4 342.9,1065.3 343.2,1064.2 343.6,1063.6 343.9,1064.8 344.3,1066.2 344.7,1063.4 345.0,1062.7 345.4,1067.3 345.7,1064.3 346.1,1066.5 346.5,1063.4 346.8,1064.9 347.2,1063.5 347.5,1065.4 347.9,1064.1 348.3,1063.5 348.6,1066.8 349.0,1065.0 349.3,1061.5 349.7,1064.2 350.1,1063.2 350.4,1062.7 350.8,1063.6 351.1,1063.7 351.5,1064.4 351.9,1063.2 352.2,1061.6 352.6,1063.5 352.9,1065.4 353.3,1062.1 353.7,1064.9 354.0,1064.6 354.4,1063.2 354.7,1064.2 355.1,1062.5 355.5,1062.9 355.8,1061.8 356.2,1063.9 356.5,1065.1 356.9,1061.9 357.3,1064.5 357.6,1059.4 358.0,1061.1 358.3,1060.7 358.7,1064.6 359.1,1060.9 359.4,1062.8 359.8,1058.3 360.1,1061.4 360.5,1061.8 360.9,1060.7 361.2,1056.3 361.6,1060.5 361.9,1061.2 362.3,1061.7 362.7,1060.0 363.0,1057.3 363.4,1058.6 363.7,1059.0 364.1,1057.0 364.5,1057.3 364.8,1055.4 365.2,1054.8 365.5,1054.3 365.9,1051.4 366.3,1054.2 366.6,1049.6 367.0,1048.4 367.3,1045.3 367.7,1045.0 368.1,1043.1 368.4,1040.1 368.8,1038.1 369.1,1039.5 369.5,1037.7 369.9,1033.8 370.2,1031.9 370.6,1032.0 370.9,1030.6 371.3,1029.3 371.7,1026.7 372.0,1026.5 372.4,1025.2 372.7,1024.8 373.1,1025.2 373.5,1026.6 373.8,1028.0 374.2,1030.2 374.5,1031.3 374.9,1033.8 375.3,1035.5 375.6,1038.5 376.0,1040.6 376.3,1042.0 376.7,1045.6 377.1,1047.3 377.4,1049.9 377.8,1051.1 378.1,1053.8 378.5,1054.8 378.9,1056.9 379.2,1057.9 379.6,1059.1 379.9,1059.2 380.3,1058.3 380.7,1058.2 381.0,1063.4 381.4,1061.7 381.7,1062.2 382.1,1061.7 382.5,1061.7 382.8,1066.7 383.2,1061.5 383.5,1063.3 383.9,1063.6 384.3,1062.4 384.6,1062.5 385.0,1063.5 385.3,1064.3 385.7,1064.3 386.1,1066.3 386.4,1063.7 386.8,1066.1 387.1,1067.8 387.5,1067.1 387.9,1064.4 388.2,1062.1 388.6,1067.4 388.9,1067.1 389.3,1065.6 389.7,1068.3 390.0,1066.0 390.4,1066.8 390.7,1065.2 391.1,1067.3 391.5,1066.2 391.8,1066.2 392.2,1068.5 392.5,1067.3 392.9,1064.9 393.3,1068.1 393.6,1068.4 394.0,1066.0 394.3,1066.7 394.7,1067.4 395.1,1067.0 395.4,1067.6 395.8,1068.4 396.1,1066.7 396.5,1070.5 396.9,1066.5 397.2,1066.8 397.6,1070.5 397.9,1071.1 398.3,1067.7 398.7,1067.4 399.0,1066.1 399.4,1069.4 399.7,1068.0 400.1,1066.6 400.5,1068.4 400.8,1069.8 401.2,1068.8 401.5,1071.1 401.9,1069.6 402.3,1068.5 402.6,1067.8 403.0,1068.7 403.3,1069.7 403.7,1069.2 404.1,1069.4 404.4,1068.2 404.8,1069.0 405.1,1069.7 405.5,1067.7 405.9,1066.0 406.2,1070.4 406.6,1068.8 406.9,1067.3 407.3,1068.2 407.7,1067.5 408.0,1065.4 408.4,1067.6 408.7,1065.8 409.1,1068.2 409.5,1067.7 409.8,1069.6 410.2,1067.7 410.5,1068.5 410.9,1067.5 411.3,1067.3 411.6,1065.8 412.0,1069.4 412.3,1068.2 412.7,1067.0 413.1,1068.2 413.4,1067.3 413.8,1066.8 414.1,1068.3 414.5,1069.7 414.9,1067.5 415.2,1065.8 415.6,1067.0 415.9,1070.5 416.3,1066.7 416.7,1069.7 417.0,1067.5 417.4,1069.0 417.7,1067.7 418.1,1065.6 418.5,1067.3 418.8,1071.0 419.2,1067.7 419.5,1068.7 419.9,1067.4 420.3,1067.7 420.6,1068.4 421.0,1068.6 421.3,1071.2 421.7,1067.9 422.1,1067.6 422.4,1066.9 422.8,1066.0 423.1,1065.5 423.5,1068.9 423.9,1065.2 424.2,1070.0 424.6,1069.2 424.9,1067.5 425.3,1066.2 425.7,1067.9 426.0,1067.9 426.4,1069.6 426.7,1066.8 427.1,1067.3 427.5,1067.8 427.8,1067.5 428.2,1067.0 428.5,1065.4 428.9,1065.5 429.3,1066.9 429.6,1067.6 430.0,1069.4 430.3,1071.3 430.7,1070.4 431.1,1068.5 431.4,1070.7 431.8,1067.7 432.1,1067.1 432.5,1071.3 432.9,1066.3 433.2,1067.3 433.6,1067.5 433.9,1070.1 434.3,1067.0 434.7,1069.1 435.0,1067.3 435.4,1066.1 435.7,1068.3 436.1,1068.2 436.5,1066.2 436.8,1066.6 437.2,1066.7 437.5,1069.3 437.9,1068.6 438.3,1068.3 438.6,1068.6 439.0,1067.2 439.3,1068.6 439.7,1067.0 440.1,1065.9 440.4,1066.9 440.8,1068.2 441.1,1068.0 441.5,1069.5 441.9,1065.5 442.2,1067.6 442.6,1068.5 442.9,1066.5 443.3,1068.3 443.7,1067.4 444.0,1066.3 444.4,1069.6 444.7,1066.0 445.1,1069.5 445.5,1067.4 445.8,1066.7 446.2,1066.8 446.5,1067.0 446.9,1066.9 447.3,1068.5 447.6,1065.4 448.0,1070.0 448.3,1069.4 448.7,1070.3 449.1,1066.8 449.4,1064.9 449.8,1067.4 450.1,1068.1 450.5,1068.8 450.9,1067.6 451.2,1068.3 451.6,1068.7 451.9,1066.2 452.3,1071.2 452.7,1066.9 453.0,1069.0 453.4,1070.2 453.7,1067.5 454.1,1068.7 454.5,1071.1 454.8,1068.4 455.2,1070.3 455.5,1069.3 455.9,1069.2 456.3,1070.0 456.6,1068.6 457.0,1068.7 457.3,1070.4 457.7,1069.5 458.1,1069.9 458.4,1067.4 458.8,1069.2 459.1,1071.0 459.5,1070.6 459.9,1069.8 460.2,1068.6 460.6,1068.5 460.9,1070.1 461.3,1071.6 461.7,1069.6 462.0,1071.5 462.4,1069.2 462.7,1071.4 463.1,1068.3 463.5,1070.0 463.8,1068.3 464.2,1070.8 464.5,1070.7 464.9,1068.6 465.3,1068.9 465.6,1069.4 466.0,1067.9 466.3,1068.8 466.7,1068.9 467.1,1071.3 467.4,1072.2 467.8,1069.7 468.1,1069.9 468.5,1070.7 468.9,1069.7 469.2,1070.1 469.6,1071.7 469.9,1070.9 470.3,1070.4 470.7,1069.8 471.0,1072.7 471.4,1069.8 471.7,1070.9 472.1,1069.3 472.5,1069.9 472.8,1071.0 473.2,1070.3 473.5,1071.6 473.9,1071.0 474.3,1069.0 474.6,1067.7 475.0,1072.4 475.3,1070.2 475.7,1073.2 476.1,1071.1 476.4,1070.1 476.8,1071.9 477.1,1070.8 477.5,1071.2 477.9,1069.9 478.2,1072.2 478.6,1072.8 478.9,1070.6 479.3,1073.8 479.7,1070.6 480.0,1071.7 480.4,1069.1 480.7,1068.7 481.1,1074.4 481.5,1073.4 481.8,1073.1 482.2,1069.1 482.5,1071.8 482.9,1072.1 483.3,1071.6 483.6,1071.9 484.0,1070.2 484.3,1071.3 484.7,1069.9 485.1,1071.0 485.4,1072.0 485.8,1070.4 486.1,1071.1 486.5,1070.9 486.9,1071.5 487.2,1072.8 487.6,1071.8 487.9,1072.1 488.3,1069.5 488.7,1071.0 489.0,1072.7 489.4,1070.3 489.7,1070.9 490.1,1070.1 490.5,1073.4 490.8,1070.9 491.2,1070.5 491.5,1072.3 491.9,1073.0 492.3,1072.2 492.6,1072.8 493.0,1071.7 493.3,1071.3 493.7,1070.8 494.1,1070.7 494.4,1070.6 494.8,1071.9 495.1,1071.2 495.5,1071.5 495.9,1072.2 496.2,1071.3 496.6,1069.4 496.9,1070.2 497.3,1069.8 497.7,1068.6 498.0,1071.5 498.4,1069.6 498.7,1069.5 499.1,1069.8 499.5,1072.5 499.8,1070.8 500.2,1072.6 500.5,1071.1 500.9,1070.6 501.3,1072.0 501.6,1072.0 502.0,1071.3 502.3,1069.7 502.7,1070.5 503.1,1069.4 503.4,1070.7 503.8,1071.2 504.1,1073.1 504.5,1073.0 504.9,1071.9 505.2,1072.3 505.6,1071.2 505.9,1074.8 506.3,1073.0 506.7,1074.6 507.0,1071.3 507.4,1071.4 507.7,1072.2 508.1,1071.0 508.5,1071.1 508.8,1069.2 509.2,1071.9 509.5,1070.8 509.9,1071.7 510.3,1070.2 510.6,1067.9 511.0,1071.1 511.3,1072.0 511.7,1068.5 512.1,1068.9 512.4,1069.8 512.8,1069.9 513.1,1067.8 513.5,1072.6 513.9,1071.5 514.2,1069.2 514.6,1067.4 514.9,1070.5 515.3,1072.7 515.7,1071.0 516.0,1071.5 516.4,1068.4 516.7,1070.0 517.1,1067.5 517.5,1072.4 517.8,1070.4 518.2,1066.8 518.5,1067.6 518.9,1069.7 519.3,1069.2 519.6,1068.4 520.0,1068.4 520.3,1068.7 520.7,1066.5 521.1,1063.4 521.4,1063.8 521.8,1061.1 522.1,1060.3 522.5,1060.6 522.9,1058.6 523.2,1056.3 523.6,1056.3 523.9,1054.3 524.3,1055.1 524.7,1053.0 525.0,1052.6 525.4,1050.5 525.7,1050.7 526.1,1048.5 526.5,1047.5 526.8,1046.2 527.2,1046.0 527.5,1044.3 527.9,1047.5 528.3,1044.5 528.6,1045.4 529.0,1044.5 529.3,1044.5 529.7,1045.9 530.1,1044.5 530.4,1044.9 530.8,1044.5 531.1,1044.7 531.5,1043.8 531.9,1043.7 532.2,1040.2 532.6,1037.8 532.9,1037.3 533.3,1036.0 533.7,1032.8 534.0,1031.8 534.4,1031.8 534.7,1032.0 535.1,1032.1 535.5,1033.2 535.8,1035.1 536.2,1038.4 536.5,1039.7 536.9,1042.5 537.3,1043.7 537.6,1045.4 538.0,1047.9 538.3,1048.5 538.7,1050.7 539.1,1050.8 539.4,1053.1 539.8,1055.7 540.1,1056.6 540.5,1057.6 540.9,1059.6 541.2,1060.3 541.6,1060.5 541.9,1060.0 542.3,1062.6 542.7,1065.3 543.0,1060.9 543.4,1060.2 543.7,1061.7 544.1,1061.8 544.5,1061.6 544.8,1062.0 545.2,1065.2 545.5,1065.5 545.9,1066.6 546.3,1065.8 546.6,1064.3 547.0,1066.7 547.3,1064.5 547.7,1065.1 548.1,1064.1 548.4,1067.6 548.8,1067.5 549.1,1065.6 549.5,1065.9 549.9,1066.5 550.2,1066.8 550.6,1067.9 550.9,1066.8 551.3,1067.4 551.7,1064.8 552.0,1066.5 552.4,1064.4 552.7,1069.7 553.1,1069.2 553.5,1068.2 553.8,1068.9 554.2,1070.3 554.5,1068.7 554.9,1065.1 555.3,1067.2 555.6,1064.0 556.0,1066.4 556.3,1065.8 556.7,1067.6 557.1,1068.3 557.4,1066.4 557.8,1067.4 558.1,1068.2 558.5,1067.6 558.9,1067.6 559.2,1064.4 559.6,1067.3 559.9,1069.2 560.3,1068.4 560.7,1065.9 561.0,1067.7 561.4,1068.6 561.7,1066.8 562.1,1069.2 562.5,1067.1 562.8,1067.8 563.2,1068.2 563.5,1071.6 563.9,1067.9 564.3,1067.6 564.6,1069.5 565.0,1067.8 565.3,1068.8 565.7,1065.2 566.1,1069.0 566.4,1068.5 566.8,1066.7 567.1,1070.6 567.5,1068.3 567.9,1068.3 568.2,1066.7 568.6,1066.3 568.9,1067.8 569.3,1066.5 569.7,1069.4 570.0,1070.0 570.4,1067.8 570.7,1066.4 571.1,1068.2 571.5,1067.2 571.8,1069.0 572.2,1069.0 572.5,1068.1 572.9,1068.8 573.3,1070.2 573.6,1071.0 574.0,1068.0 574.3,1069.6 574.7,1068.3 575.1,1067.1 575.4,1070.0 575.8,1068.7 576.1,1068.3 576.5,1068.4 576.9,1067.5 577.2,1066.1 577.6,1069.7 577.9,1068.3 578.3,1067.2 578.7,1067.9 579.0,1068.1 579.4,1065.7 579.7,1066.6 580.1,1065.0 580.5,1066.1 580.8,1064.4 581.2,1068.0 581.5,1063.6 581.9,1064.6 582.3,1064.1 582.6,1062.6 583.0,1064.2 583.3,1062.2 583.7,1061.4 584.1,1061.6 584.4,1060.1 584.8,1062.6 585.1,1061.3 585.5,1061.2 585.9,1058.2 586.2,1059.3 586.6,1057.4 586.9,1057.6 587.3,1058.3 587.7,1056.1 588.0,1054.6 588.4,1055.6 588.7,1054.4 589.1,1054.5 589.5,1049.2 589.8,1051.0 590.2,1049.5 590.5,1048.5 590.9,1049.0 591.3,1047.6 591.6,1046.7 592.0,1047.7 592.3,1048.3 592.7,1050.2 593.1,1049.1 593.4,1049.5 593.8,1049.6 594.1,1052.2 594.5,1053.4 594.9,1055.2 595.2,1054.2 595.6,1056.6 595.9,1056.3 596.3,1059.8 596.7,1059.3 597.0,1059.1 597.4,1063.2 597.7,1063.2 598.1,1063.5 598.5,1064.1 598.8,1062.5 599.2,1066.1 599.5,1063.6 599.9,1068.2 600.3,1066.3 600.6,1063.9 601.0,1068.0 601.3,1069.9 601.7,1067.4 602.1,1069.5 602.4,1068.2 602.8,1068.0 603.1,1065.9 603.5,1071.0 603.9,1069.2 604.2,1070.4 604.6,1068.8 604.9,1069.3 605.3,1071.9 605.7,1070.2 606.0,1070.3 606.4,1069.2 606.7,1071.2 607.1,1072.0 607.5,1070.4 607.8,1070.8 608.2,1069.4 608.5,1073.1 608.9,1070.3 609.3,1071.0 609.6,1073.7 610.0,1071.0 610.3,1069.2 610.7,1070.1 611.1,1071.0 611.4,1074.0 611.8,1071.9 612.1,1071.3 612.5,1072.8 612.9,1073.5 613.2,1070.6 613.6,1073.7 613.9,1073.0 614.3,1072.4 614.7,1068.5 615.0,1072.1 615.4,1073.8 615.7,1071.5 616.1,1075.2 616.5,1072.1 616.8,1070.6 617.2,1072.8 617.5,1072.5 617.9,1073.2 618.3,1071.8 618.6,1073.9 619.0,1071.4 619.3,1072.3 619.7,1070.4 620.1,1071.1 620.4,1072.5 620.8,1071.3 621.1,1071.6 621.5,1072.0 621.9,1072.6 622.2,1073.3 622.6,1073.4 622.9,1073.7 623.3,1072.6 623.7,1071.6 624.0,1070.1 624.4,1071.9 624.7,1071.2 625.1,1069.8 625.5,1074.7 625.8,1069.8 626.2,1072.9 626.5,1073.1 626.9,1072.0 627.3,1076.0 627.6,1072.4 628.0,1071.3 628.3,1074.8 628.7,1071.2 629.1,1070.4 629.4,1070.9 629.8,1071.4 630.1,1072.3 630.5,1072.7 630.9,1070.1 631.2,1072.6 631.6,1075.2 631.9,1071.1 632.3,1071.8 632.7,1072.9 633.0,1073.6 633.4,1070.9 633.7,1070.5 634.1,1070.3 634.5,1073.2 634.8,1072.9 635.2,1068.5 635.5,1068.5 635.9,1069.7 636.3,1069.2 636.6,1071.9 637.0,1071.5 637.3,1073.9 637.7,1072.2 638.1,1071.1 638.4,1072.6 638.8,1069.5 639.1,1068.7 639.5,1070.7 639.9,1071.9 640.2,1068.1 640.6,1071.7 640.9,1071.5 641.3,1069.5 641.7,1070.3 642.0,1069.6 642.4,1070.0 642.7,1071.0 643.1,1068.6 643.5,1071.2 643.8,1070.8 644.2,1070.8 644.5,1066.5 644.9,1066.6 645.3,1070.2 645.6,1068.3 646.0,1068.0 646.3,1067.8 646.7,1066.9 647.1,1068.4 647.4,1067.6 647.8,1067.7 648.1,1069.2 648.5,1066.7 648.9,1070.0 649.2,1065.0 649.6,1071.9 649.9,1066.2 650.3,1069.0 650.7,1069.4 651.0,1068.0 651.4,1069.0 651.7,1067.7 652.1,1065.2 652.5,1068.3 652.8,1069.4 653.2,1066.8 653.5,1065.1 653.9,1066.7 654.3,1068.0 654.6,1067.9 655.0,1069.1 655.3,1068.2 655.7,1068.1 656.1,1064.3 656.4,1070.6 656.8,1067.3 657.1,1068.5 657.5,1066.6 657.9,1066.9 658.2,1067.2 658.6,1069.4 658.9,1069.3 659.3,1067.9 659.7,1070.0 660.0,1066.3 660.4,1067.7 660.7,1066.2 661.1,1068.8 661.5,1066.9 661.8,1068.2 662.2,1069.3 662.5,1063.6 662.9,1069.9 663.3,1067.1 663.6,1066.1 664.0,1063.6 664.3,1066.0 664.7,1063.0 665.1,1066.5 665.4,1066.1 665.8,1069.1 666.1,1065.8 666.5,1067.8 666.9,1067.9 667.2,1069.2 667.6,1065.7 667.9,1067.1 668.3,1063.6 668.7,1064.2 669.0,1065.4 669.4,1065.7 669.7,1063.8 670.1,1064.9 670.5,1066.6 670.8,1064.7 671.2,1065.1 671.5,1063.9 671.9,1067.2 672.3,1067.6 672.6,1065.2 673.0,1064.7 673.3,1066.6 673.7,1065.0 674.1,1063.4 674.4,1062.2 674.8,1062.7 675.1,1065.9 675.5,1061.8 675.9,1066.1 676.2,1061.7 676.6,1060.8 676.9,1062.6 677.3,1059.7 677.7,1060.1 678.0,1057.2 678.4,1056.4 678.7,1056.7 679.1,1057.6 679.5,1055.7 679.8,1053.2 680.2,1056.4 680.5,1054.9 680.9,1054.2 681.3,1053.0 681.6,1049.9 682.0,1054.9 682.3,1050.9 682.7,1051.7 683.1,1052.1 683.4,1051.0 683.8,1049.2 684.1,1048.4 684.5,1048.2 684.9,1048.3 685.2,1047.6 685.6,1046.5 685.9,1047.2 686.3,1047.2 686.7,1047.7 687.0,1047.8 687.4,1049.5 687.7,1049.2 688.1,1050.9 688.5,1050.9 688.8,1051.2 689.2,1051.6 689.5,1053.9 689.9,1056.0 690.3,1057.8 690.6,1057.2 691.0,1057.7 691.3,1058.6 691.7,1061.0 692.1,1060.5 692.4,1060.2 692.8,1062.4 693.1,1059.7 693.5,1062.4 693.9,1062.6 694.2,1062.9 694.6,1061.8 694.9,1065.5 695.3,1067.0 695.7,1062.9 696.0,1065.5 696.4,1066.6 696.7,1069.3 697.1,1065.9 697.5,1065.5 697.8,1067.2 698.2,1070.3 698.5,1068.0 698.9,1068.5 699.3,1070.9 699.6,1065.9 700.0,1066.1 700.3,1070.5 700.7,1070.6 701.1,1067.9 701.4,1070.7 701.8,1070.2 702.1,1070.6 702.5,1069.4 702.9,1070.0 703.2,1069.6 703.6,1070.9 703.9,1070.6 704.3,1073.3 704.7,1071.9 705.0,1068.7 705.4,1071.7 705.7,1073.2 706.1,1071.6 706.5,1072.8 706.8,1071.2 707.2,1072.3 707.5,1070.0 707.9,1072.5 708.3,1069.4 708.6,1073.3 709.0,1069.3 709.3,1068.5 709.7,1072.3 710.1,1071.3 710.4,1071.8 710.8,1072.3 711.1,1071.6 711.5,1070.5 711.9,1072.1 712.2,1072.3 712.6,1072.5 712.9,1074.7 713.3,1070.8 713.7,1072.0 714.0,1072.8 714.4,1071.3 714.7,1070.3 715.1,1071.2 715.5,1073.6 715.8,1071.7 716.2,1073.0 716.5,1071.1 716.9,1072.8 717.3,1071.2 717.6,1071.0 718.0,1072.4 718.3,1072.4 718.7,1074.4 719.1,1070.0 719.4,1073.1 719.8,1074.7 720.1,1074.3 720.5,1071.9 720.9,1071.5 721.2,1071.8 721.6,1072.9 721.9,1072.8 722.3,1073.0 722.7,1073.4 723.0,1071.0 723.4,1071.0 723.7,1070.9 724.1,1070.7 724.5,1072.5 724.8,1073.1 725.2,1076.3 725.5,1073.4 725.9,1072.7 726.3,1074.7 726.6,1071.7 727.0,1073.2 727.3,1074.1 727.7,1073.9 728.1,1073.4 728.4,1072.3 728.8,1071.1 729.1,1072.6 729.5,1072.0 729.9,1073.8 730.2,1072.7 730.6,1073.7 730.9,1070.6 731.3,1074.3 731.7,1071.7 732.0,1070.7 732.4,1071.0 732.7,1072.0 733.1,1074.5 733.5,1073.9 733.8,1071.3 734.2,1073.1 734.5,1072.8 734.9,1070.7 735.3,1071.6 735.6,1070.1 736.0,1071.7 736.3,1069.2 736.7,1071.9 737.1,1071.7 737.4,1071.9 737.8,1071.8 738.1,1074.6 738.5,1072.5 738.9,1073.3 739.2,1074.1 739.6,1074.3 739.9,1074.0 740.3,1072.2 740.7,1071.5 741.0,1071.9 741.4,1072.3 741.7,1073.0 742.1,1072.9 742.5,1074.5 742.8,1072.8 743.2,1075.5 743.5,1074.4 743.9,1072.3 744.3,1074.2 744.6,1068.9 745.0,1074.9 745.3,1073.5 745.7,1073.5 746.1,1070.6 746.4,1076.5 746.8,1072.6 747.1,1072.7 747.5,1074.5 747.9,1072.6 748.2,1071.7 748.6,1073.8 748.9,1071.4 749.3,1073.9 749.7,1073.1 750.0,1074.4 750.4,1071.1 750.7,1074.6 751.1,1073.2 751.5,1075.6 751.8,1071.9 752.2,1075.4 752.5,1073.7 752.9,1073.8 753.3,1071.7 753.6,1073.5 754.0,1073.6 754.3,1071.5 754.7,1071.0 755.1,1071.5 755.4,1074.7 755.8,1072.8 756.1,1073.9 756.5,1072.9 756.9,1072.7 757.2,1072.7 757.6,1071.9 757.9,1073.6 758.3,1072.3 758.7,1072.2 759.0,1069.9 759.4,1071.8 759.7,1070.2 760.1,1070.2 760.5,1072.0 760.8,1068.9 761.2,1069.9 761.5,1070.7 761.9,1071.1 762.3,1069.0 762.6,1069.9 763.0,1069.8 763.3,1068.2 763.7,1067.0 764.1,1067.2 764.4,1070.5 764.8,1070.0 765.1,1068.3 765.5,1069.4 765.9,1069.9 766.2,1070.1 766.6,1070.8 766.9,1074.2 767.3,1070.1 767.7,1071.6 768.0,1070.6 768.4,1071.0 768.7,1070.8 769.1,1071.8 769.5,1071.5 769.8,1072.7 770.2,1072.6 770.5,1071.3 770.9,1075.0 771.3,1070.8 771.6,1072.9 772.0,1075.5 772.3,1071.4 772.7,1074.3 773.1,1074.4 773.4,1072.9 773.8,1069.8 774.1,1074.4 774.5,1072.6 774.9,1071.6 775.2,1074.2 775.6,1071.4 775.9,1073.9 776.3,1071.7 776.7,1073.2 777.0,1070.9 777.4,1071.9 777.7,1071.1 778.1,1071.4 778.5,1072.7 778.8,1072.2 779.2,1072.7 779.5,1074.3 779.9,1072.3 780.3,1069.8 780.6,1072.0 781.0,1072.6 781.3,1073.9 781.7,1073.9 782.1,1073.8 782.4,1072.1 782.8,1073.4 783.1,1070.4 783.5,1074.3 783.9,1073.1 784.2,1073.2 784.6,1071.9 784.9,1072.6 785.3,1071.5 785.7,1073.3 786.0,1070.6 786.4,1073.9 786.7,1073.3 787.1,1075.4 787.5,1072.4 787.8,1072.3 788.2,1072.8 788.5,1072.5 788.9,1072.3 789.3,1070.9 789.6,1070.9 790.0,1071.7 790.3,1072.1 790.7,1070.8 791.1,1070.8 791.4,1072.1 791.8,1073.5 792.1,1072.2 792.5,1073.5 792.9,1073.9 793.2,1073.6 793.6,1071.9 793.9,1071.9 794.3,1069.8 794.7,1071.5 795.0,1073.2 795.4,1071.0 795.7,1074.4 796.1,1074.5 796.5,1072.0 796.8,1073.8 797.2,1070.5 797.5,1071.0 797.9,1072.0 798.3,1072.5 798.6,1072.2 799.0,1071.3 799.3,1075.3 799.7,1072.9 800.1,1072.9 800.4,1073.5 800.8,1072.7 801.1,1072.2 801.5,1071.7 801.9,1070.2 802.2,1074.6 802.6,1071.2 802.9,1070.1 803.3,1071.4 803.7,1070.4 804.0,1075.0 804.4,1072.9 804.7,1074.1 805.1,1074.1 805.5,1072.9 805.8,1072.8 806.2,1070.9 806.5,1071.6 806.9,1070.6 807.3,1071.4 807.6,1070.2 808.0,1072.6 808.3,1071.8 808.7,1070.6 809.1,1068.6 809.4,1071.3 809.8,1071.5 810.1,1070.4 810.5,1069.1 810.9,1071.2 811.2,1072.1 811.6,1068.6 811.9,1071.9 812.3,1068.9 812.7,1071.7 813.0,1074.3 813.4,1072.2 813.7,1072.9 814.1,1072.1 814.5,1072.6 814.8,1075.5 815.2,1074.4 815.5,1072.6 815.9,1072.5 816.3,1073.1 816.6,1076.1 817.0,1073.4 817.3,1074.7 817.7,1072.6 818.1,1071.4 818.4,1075.0 818.8,1073.1 819.1,1072.1 819.5,1072.3 819.9,1072.3 820.2,1072.4 820.6,1071.1 820.9,1075.0 821.3,1073.9 821.7,1074.7 822.0,1072.9 822.4,1073.9 822.7,1073.7 823.1,1075.1 823.5,1074.6 823.8,1074.0 824.2,1072.6 824.5,1071.8 824.9,1072.4 825.3,1072.7 825.6,1072.8 826.0,1071.8 826.3,1075.9 826.7,1074.0 827.1,1070.8 827.4,1072.1 827.8,1071.8 828.1,1074.0 828.5,1075.1 828.9,1072.3 829.2,1074.6 829.6,1073.3 829.9,1075.3 830.3,1075.6 830.7,1074.2 831.0,1074.7 831.4,1073.8 831.7,1073.3 832.1,1072.2 832.5,1074.2 832.8,1073.7 833.2,1073.3 833.5,1073.7 833.9,1073.6 834.3,1072.4 834.6,1073.1 835.0,1075.4 835.3,1073.5 835.7,1075.8 836.1,1072.3 836.4,1072.0 836.8,1074.1 837.1,1075.0 837.5,1073.0 837.9,1074.8 838.2,1075.2 838.6,1075.4 838.9,1073.8 839.3,1073.9 839.7,1071.7 840.0,1074.0 840.4,1074.3 840.7,1075.9 841.1,1072.2 841.5,1072.8 841.8,1072.6 842.2,1075.2 842.5,1070.5 842.9,1072.5 843.3,1076.8 843.6,1074.9 844.0,1072.2 844.3,1073.9 844.7,1075.2 845.1,1074.7 845.4,1073.7 845.8,1072.9 846.1,1075.1 846.5,1074.0 846.9,1075.1 847.2,1074.5 847.6,1073.4 847.9,1076.0 848.3,1073.3 848.7,1074.6 849.0,1073.1 849.4,1073.7 849.7,1073.7 850.1,1073.1 850.5,1074.3 850.8,1075.8 851.2,1076.5 851.5,1076.0 851.9,1073.7 852.3,1076.0 852.6,1074.6 853.0,1076.4 853.3,1072.2 853.7,1076.0 854.1,1073.1 854.4,1075.5 854.8,1073.3 855.1,1075.2 855.5,1073.5 855.9,1071.3 856.2,1072.6 856.6,1073.6 856.9,1073.9 857.3,1070.8 857.7,1072.2 858.0,1072.8 858.4,1073.5 858.7,1074.1 859.1,1072.7 859.5,1071.7 859.8,1074.2 860.2,1073.3 860.5,1074.9 860.9,1073.0 861.3,1074.6 861.6,1072.4 862.0,1074.0 862.3,1073.7 862.7,1074.2 863.1,1072.3 863.4,1073.4 863.8,1072.3 864.1,1073.2 864.5,1074.3 864.9,1077.5 865.2,1073.4 865.6,1074.3 865.9,1073.5 866.3,1074.8 866.7,1073.9 867.0,1074.6 867.4,1073.7 867.7,1076.4 868.1,1075.0 868.5,1070.7 868.8,1073.4 869.2,1073.1 869.5,1069.9 869.9,1071.7 870.3,1072.2 870.6,1071.8 871.0,1072.9 871.3,1070.2 871.7,1073.7 872.1,1073.7 872.4,1073.0 872.8,1072.1 873.1,1072.4 873.5,1071.9 873.9,1072.9 874.2,1072.1 874.6,1072.9 874.9,1070.2 875.3,1071.3 875.7,1068.5 876.0,1068.0 876.4,1066.1 876.7,1067.1 877.1,1065.4 877.5,1065.5 877.8,1065.7 878.2,1062.7 878.5,1062.3 878.9,1062.4 879.3,1060.2 879.6,1058.8 880.0,1058.9 880.3,1058.2 880.7,1057.5 881.1,1056.4 881.4,1054.0 881.8,1054.2 882.1,1054.0 882.5,1052.7 882.9,1053.0 883.2,1053.0 883.6,1054.3 883.9,1056.5 884.3,1057.3 884.7,1057.7 885.0,1061.1 885.4,1062.7 885.7,1064.7 886.1,1064.7 886.5,1065.7 886.8,1066.4 887.2,1065.1 887.5,1067.8 887.9,1063.5 888.3,1065.2 888.6,1064.2 889.0,1065.3 889.3,1067.4 889.7,1067.0 890.1,1067.4 890.4,1066.9 890.8,1063.0 891.1,1066.3 891.5,1063.1 891.9,1065.0 892.2,1065.0 892.6,1064.7 892.9,1066.1 893.3,1064.1 893.7,1067.5 894.0,1065.7 894.4,1066.0 894.7,1065.2 895.1,1064.9 895.5,1063.6 895.8,1065.1 896.2,1061.0 896.5,1062.2 896.9,1060.8 897.3,1059.7 897.6,1059.6 898.0,1057.9 898.3,1058.9 898.7,1058.3 899.1,1057.5 899.4,1057.8 899.8,1056.7 900.1,1056.4 900.5,1057.8 900.9,1058.7 901.2,1062.3 901.6,1060.4 901.9,1062.9 902.3,1063.8 902.7,1066.3 903.0,1064.6 903.4,1066.0 903.7,1066.0 904.1,1066.2 904.5,1066.6 904.8,1067.1 905.2,1069.7 905.5,1068.8 905.9,1068.4 906.3,1068.9 906.6,1068.4 907.0,1069.3 907.3,1069.6 907.7,1070.7 908.1,1071.3 908.4,1068.0 908.8,1070.8 909.1,1072.5 909.5,1069.5 909.9,1070.7 910.2,1071.4 910.6,1072.8 910.9,1072.3 911.3,1071.3 911.7,1072.4 912.0,1073.2 912.4,1072.5 912.7,1074.5 913.1,1072.7 913.5,1070.9 913.8,1071.3 914.2,1072.2 914.5,1072.1 914.9,1073.2 915.3,1072.9 915.6,1074.7 916.0,1073.5 916.3,1074.5 916.7,1071.4 917.1,1071.8 917.4,1073.4 917.8,1072.5 918.1,1073.3 918.5,1072.8 918.9,1071.6 919.2,1074.8 919.6,1074.0 919.9,1070.3 920.3,1071.6 920.7,1072.5 921.0,1073.4 921.4,1072.3 921.7,1070.5 922.1,1073.6 922.5,1072.1 922.8,1074.1 923.2,1072.8 923.5,1073.8 923.9,1073.6 924.3,1073.7 924.6,1071.7 925.0,1073.9 925.3,1072.7 925.7,1070.7 926.1,1071.9 926.4,1072.0 926.8,1073.1 927.1,1073.4 927.5,1070.9 927.9,1073.4 928.2,1072.3 928.6,1071.0 928.9,1073.6 929.3,1071.4 929.7,1070.8 930.0,1073.5 930.4,1073.7 930.7,1071.5 931.1,1073.9 931.5,1073.8 931.8,1071.7 932.2,1075.2 932.5,1072.4 932.9,1072.7 933.3,1069.1 933.6,1073.3 934.0,1071.6 934.3,1073.0 934.7,1070.1 935.1,1074.0 935.4,1074.5 935.8,1075.1 936.1,1068.3 936.5,1073.3 936.9,1072.9 937.2,1068.2 937.6,1071.4 937.9,1072.3 938.3,1074.4 938.7,1071.3 939.0,1072.7 939.4,1072.4 939.7,1073.0 940.1,1071.9 940.5,1073.7 940.8,1073.8 941.2,1070.6 941.5,1074.0 941.9,1071.4 942.3,1072.1 942.6,1073.7 943.0,1072.5 943.3,1072.8 943.7,1072.9 944.1,1072.5 944.4,1070.9 944.8,1070.0 945.1,1071.9 945.5,1071.6 945.9,1070.8 946.2,1069.8 946.6,1070.7 946.9,1069.6 947.3,1068.1 947.7,1069.7 948.0,1070.0 948.4,1070.4 948.7,1068.5 949.1,1068.8 949.5,1070.3 949.8,1069.4 950.2,1070.1 950.5,1071.6 950.9,1071.1 951.3,1073.3 951.6,1071.4 952.0,1073.6 952.3,1072.9 952.7,1075.0 953.1,1071.9 953.4,1071.9 953.8,1073.8 954.1,1071.7 954.5,1071.9 954.9,1072.9 955.2,1073.1 955.6,1070.8 955.9,1073.2 956.3,1072.5 956.7,1072.9 957.0,1073.3 957.4,1072.9 957.7,1074.7 958.1,1074.0 958.5,1073.2 958.8,1073.6 959.2,1075.0 959.5,1074.7 959.9,1075.4 960.3,1073.6 960.6,1074.1 961.0,1076.7 961.3,1074.0 961.7,1076.4 962.1,1075.3 962.4,1073.7 962.8,1072.4 963.1,1075.2 963.5,1073.5 963.9,1073.5 964.2,1072.2 964.6,1076.2 964.9,1074.8 965.3,1074.7 965.7,1075.2 966.0,1075.1 966.4,1074.9 966.7,1075.5 967.1,1074.5 967.5,1071.5 967.8,1075.9 968.2,1075.5 968.5,1075.0 968.9,1077.1 969.3,1073.2 969.6,1071.2 970.0,1077.0 970.3,1075.6" fill="none" stroke="#c0ad04" stroke-width="5.2" stroke-linejoin="round" stroke-linecap="round"/>
<path d="M97.3,1161.2 97.7,1167.8 98.1,1174.0 98.4,1178.1 98.8,1184.3 99.1,1190.1 99.5,1194.2 99.9,1197.7 100.2,1201.9 100.6,1204.7 100.9,1209.3 101.3,1212.4 101.7,1215.5 102.0,1218.8 102.4,1223.5 102.7,1225.3 103.1,1227.1 103.5,1229.0 103.8,1231.3 104.2,1232.8 104.5,1231.7 104.9,1233.4 105.3,1235.0 105.6,1234.3 106.0,1233.9 106.3,1234.7 106.7,1236.5 107.1,1236.0 107.4,1235.7 107.8,1237.6 108.1,1239.9 108.5,1240.0 108.9,1239.0 109.2,1242.7 109.6,1239.2 109.9,1240.7 110.3,1239.2 110.7,1243.1 111.0,1242.2 111.4,1240.2 111.7,1242.1 112.1,1246.6 112.5,1245.4 112.8,1245.0 113.2,1246.6 113.5,1243.3 113.9,1244.9 114.3,1244.6 114.6,1245.8 115.0,1246.9 115.3,1248.7 115.7,1249.8 116.1,1250.2 116.4,1253.1 116.8,1248.7 117.1,1249.8 117.5,1250.9 117.9,1249.3 118.2,1250.4 118.6,1251.7 118.9,1250.2 119.3,1252.4 119.7,1253.8 120.0,1250.6 120.4,1249.0 120.7,1252.8 121.1,1251.3 121.5,1253.4 121.8,1252.7 122.2,1254.0 122.5,1255.5 122.9,1255.2 123.3,1253.6 123.6,1252.6 124.0,1250.8 124.3,1251.5 124.7,1253.7 125.1,1255.3 125.4,1254.3 125.8,1254.6 126.1,1253.2 126.5,1253.3 126.9,1253.4 127.2,1257.0 127.6,1253.3 127.9,1257.4 128.3,1255.2 128.7,1257.5 129.0,1257.2 129.4,1258.1 129.7,1258.9 130.1,1256.1 130.5,1256.0 130.8,1256.9 131.2,1256.6 131.5,1258.8 131.9,1257.8 132.3,1258.1 132.6,1258.8 133.0,1257.6 133.3,1260.0 133.7,1255.9 134.1,1259.0 134.4,1259.5 134.8,1257.8 135.1,1258.0 135.5,1260.4 135.9,1258.7 136.2,1256.5 136.6,1257.4 136.9,1260.9 137.3,1258.3 137.7,1261.5 138.0,1261.7 138.4,1259.5 138.7,1260.7 139.1,1258.8 139.5,1259.5 139.8,1259.2 140.2,1261.1 140.5,1258.5 140.9,1260.2 141.3,1260.6 141.6,1261.4 142.0,1257.7 142.3,1258.2 142.7,1259.6 143.1,1260.6 143.4,1261.2 143.8,1261.4 144.1,1264.1 144.5,1262.2 144.9,1262.2 145.2,1260.8 145.6,1262.6 145.9,1262.6 146.3,1262.6 146.7,1261.6 147.0,1262.7 147.4,1264.1 147.7,1260.9 148.1,1259.1 148.5,1263.3 148.8,1263.3 149.2,1262.0 149.5,1261.8 149.9,1266.3 150.3,1261.9 150.6,1260.9 151.0,1262.0 151.3,1263.5 151.7,1262.0 152.1,1262.4 152.4,1263.4 152.8,1262.4 153.1,1263.3 153.5,1263.1 153.9,1261.7 154.2,1263.4 154.6,1261.7 154.9,1264.7 155.3,1262.2 155.7,1263.2 156.0,1261.1 156.4,1263.0 156.7,1261.9 157.1,1265.7 157.5,1263.6 157.8,1264.5 158.2,1261.4 158.5,1262.2 158.9,1263.7 159.3,1262.1 159.6,1265.5 160.0,1263.5 160.3,1264.2 160.7,1264.5 161.1,1263.9 161.4,1265.2 161.8,1263.2 162.1,1264.7 162.5,1265.8 162.9,1264.5 163.2,1264.4 163.6,1263.8 163.9,1264.3 164.3,1265.2 164.7,1263.9 165.0,1262.0 165.4,1264.5 165.7,1264.1 166.1,1264.9 166.5,1264.3 166.8,1266.4 167.2,1262.6 167.5,1262.9 167.9,1265.1 168.3,1262.9 168.6,1264.7 169.0,1264.2 169.3,1261.6 169.7,1265.1 170.1,1266.1 170.4,1264.5 170.8,1262.3 171.1,1265.2 171.5,1262.8 171.9,1264.0 172.2,1264.7 172.6,1263.1 172.9,1261.8 173.3,1263.9 173.7,1264.0 174.0,1262.9 174.4,1263.0 174.7,1265.0 175.1,1263.9 175.5,1263.4 175.8,1263.2 176.2,1264.2 176.5,1264.1 176.9,1263.7 177.3,1262.0 177.6,1263.4 178.0,1263.0 178.3,1263.9 178.7,1265.4 179.1,1265.0 179.4,1264.6 179.8,1263.9 180.1,1263.3 180.5,1264.1 180.9,1263.0 181.2,1263.1 181.6,1262.4 181.9,1263.5 182.3,1263.4 182.7,1266.0 183.0,1264.2 183.4,1262.9 183.7,1264.4 184.1,1262.7 184.5,1264.7 184.8,1264.3 185.2,1267.2 185.5,1261.7 185.9,1263.1 186.3,1263.0 186.6,1263.5 187.0,1264.0 187.3,1261.7 187.7,1262.0 188.1,1263.3 188.4,1264.2 188.8,1261.3 189.1,1260.7 189.5,1264.3 189.9,1263.8 190.2,1264.1 190.6,1261.3 190.9,1262.3 191.3,1262.8 191.7,1263.0 192.0,1262.1 192.4,1262.1 192.7,1263.4 193.1,1261.4 193.5,1261.2 193.8,1261.2 194.2,1260.9 194.5,1261.6 194.9,1261.1 195.3,1260.6 195.6,1262.9 196.0,1261.2 196.3,1260.2 196.7,1262.1 197.1,1259.5 197.4,1260.0 197.8,1259.7 198.1,1258.8 198.5,1258.8 198.9,1259.2 199.2,1256.9 199.6,1258.0 199.9,1258.6 200.3,1258.3 200.7,1258.1 201.0,1260.5 201.4,1257.9 201.7,1256.5 202.1,1256.2 202.5,1256.0 202.8,1256.2 203.2,1255.0 203.5,1256.1 203.9,1253.3 204.3,1254.0 204.6,1253.0 205.0,1250.6 205.3,1251.1 205.7,1249.8 206.1,1247.3 206.4,1248.7 206.8,1245.6 207.1,1243.0 207.5,1241.1 207.9,1239.0 208.2,1238.2 208.6,1236.1 208.9,1233.0 209.3,1231.4 209.7,1229.1 210.0,1226.3 210.4,1223.0 210.7,1219.1 211.1,1215.9 211.5,1212.1 211.8,1207.1 212.2,1199.6 212.5,1198.0 212.9,1194.3 213.3,1189.5 213.6,1184.8 214.0,1179.5 214.3,1173.4 214.7,1168.4 215.1,1165.2 215.4,1162.2 215.8,1160.1 216.1,1157.8 216.5,1156.5 216.9,1156.5 217.2,1156.7 217.6,1158.8 217.9,1160.8 218.3,1164.1 218.7,1167.4 219.0,1170.6 219.4,1174.4 219.7,1178.8 220.1,1184.9 220.5,1191.6 220.8,1197.1 221.2,1203.0 221.5,1207.5 221.9,1211.2 222.3,1215.1 222.6,1219.4 223.0,1224.0 223.3,1225.9 223.7,1230.8 224.1,1233.8 224.4,1236.0 224.8,1239.5 225.1,1241.2 225.5,1243.5 225.9,1244.7 226.2,1246.4 226.6,1246.2 226.9,1249.2 227.3,1247.3 227.7,1250.3 228.0,1251.2 228.4,1254.4 228.7,1254.2 229.1,1253.9 229.5,1254.2 229.8,1255.8 230.2,1255.8 230.5,1259.1 230.9,1254.7 231.3,1257.8 231.6,1255.5 232.0,1259.5 232.3,1257.5 232.7,1260.9 233.1,1258.2 233.4,1260.6 233.8,1259.6 234.1,1261.0 234.5,1259.7 234.9,1255.8 235.2,1259.0 235.6,1258.0 235.9,1261.5 236.3,1261.1 236.7,1260.6 237.0,1261.3 237.4,1261.1 237.7,1260.2 238.1,1263.7 238.5,1261.5 238.8,1261.0 239.2,1259.5 239.5,1260.7 239.9,1261.6 240.3,1261.5 240.6,1261.2 241.0,1261.8 241.3,1260.5 241.7,1262.0 242.1,1260.1 242.4,1261.0 242.8,1261.3 243.1,1263.4 243.5,1263.0 243.9,1262.5 244.2,1261.0 244.6,1262.0 244.9,1263.6 245.3,1264.2 245.7,1260.7 246.0,1262.1 246.4,1262.8 246.7,1263.2 247.1,1262.8 247.5,1263.7 247.8,1260.9 248.2,1264.9 248.5,1261.3 248.9,1263.0 249.3,1263.6 249.6,1264.5 250.0,1264.2 250.3,1264.1 250.7,1264.7 251.1,1262.8 251.4,1264.0 251.8,1265.1 252.1,1262.1 252.5,1261.3 252.9,1261.8 253.2,1265.0 253.6,1264.8 253.9,1262.7 254.3,1263.5 254.7,1263.9 255.0,1264.6 255.4,1260.8 255.7,1262.5 256.1,1263.0 256.5,1263.7 256.8,1263.4 257.2,1262.9 257.5,1263.8 257.9,1260.0 258.3,1267.5 258.6,1264.5 259.0,1264.6 259.3,1262.6 259.7,1264.0 260.1,1266.2 260.4,1265.9 260.8,1263.6 261.1,1261.9 261.5,1263.7 261.9,1263.1 262.2,1264.7 262.6,1261.9 262.9,1263.3 263.3,1263.9 263.7,1263.0 264.0,1265.0 264.4,1262.1 264.7,1262.0 265.1,1263.2 265.5,1264.7 265.8,1263.2 266.2,1262.9 266.5,1264.7 266.9,1263.9 267.3,1263.0 267.6,1263.8 268.0,1263.3 268.3,1264.5 268.7,1263.9 269.1,1262.6 269.4,1263.0 269.8,1263.1 270.1,1264.2 270.5,1264.2 270.9,1262.6 271.2,1263.4 271.6,1264.1 271.9,1265.1 272.3,1264.0 272.7,1266.2 273.0,1263.7 273.4,1264.6 273.7,1263.2 274.1,1262.3 274.5,1263.7 274.8,1264.2 275.2,1264.0 275.5,1263.7 275.9,1263.1 276.3,1262.4 276.6,1263.1 277.0,1264.1 277.3,1264.7 277.7,1259.0 278.1,1264.2 278.4,1264.8 278.8,1265.0 279.1,1263.8 279.5,1264.1 279.9,1262.6 280.2,1263.1 280.6,1263.9 280.9,1261.7 281.3,1262.0 281.7,1263.3 282.0,1261.2 282.4,1263.0 282.7,1260.9 283.1,1263.2 283.5,1262.9 283.8,1262.1 284.2,1261.5 284.5,1262.1 284.9,1259.7 285.3,1262.1 285.6,1262.8 286.0,1264.2 286.3,1261.8 286.7,1262.3 287.1,1264.3 287.4,1264.8 287.8,1261.7 288.1,1263.7 288.5,1263.9 288.9,1262.9 289.2,1260.9 289.6,1260.9 289.9,1262.9 290.3,1265.2 290.7,1261.8 291.0,1264.1 291.4,1264.5 291.7,1260.2 292.1,1261.1 292.5,1263.9 292.8,1263.1 293.2,1262.5 293.5,1261.7 293.9,1262.6 294.3,1260.8 294.6,1265.1 295.0,1260.1 295.3,1259.1 295.7,1261.8 296.1,1263.5 296.4,1260.8 296.8,1261.4 297.1,1260.1 297.5,1261.3 297.9,1260.0 298.2,1260.0 298.6,1259.4 298.9,1260.6 299.3,1263.9 299.7,1261.2 300.0,1261.6 300.4,1264.3 300.7,1260.4 301.1,1259.9 301.5,1262.0 301.8,1259.6 302.2,1261.7 302.5,1262.8 302.9,1259.8 303.3,1260.5 303.6,1263.6 304.0,1259.8 304.3,1260.3 304.7,1261.5 305.1,1260.8 305.4,1260.0 305.8,1263.4 306.1,1260.4 306.5,1261.7 306.9,1260.6 307.2,1260.9 307.6,1259.3 307.9,1262.5 308.3,1260.6 308.7,1262.9 309.0,1259.6 309.4,1260.5 309.7,1261.8 310.1,1261.3 310.5,1260.3 310.8,1261.0 311.2,1259.4 311.5,1261.2 311.9,1257.5 312.3,1261.4 312.6,1263.0 313.0,1262.4 313.3,1262.3 313.7,1260.6 314.1,1261.8 314.4,1260.6 314.8,1261.0 315.1,1261.0 315.5,1256.5 315.9,1262.4 316.2,1261.8 316.6,1262.3 316.9,1259.8 317.3,1262.1 317.7,1261.8 318.0,1258.0 318.4,1258.7 318.7,1261.2 319.1,1260.2 319.5,1261.1 319.8,1260.2 320.2,1263.2 320.5,1258.5 320.9,1259.2 321.3,1259.7 321.6,1259.2 322.0,1260.3 322.3,1261.0 322.7,1259.2 323.1,1261.6 323.4,1262.9 323.8,1262.6 324.1,1263.8 324.5,1262.6 324.9,1261.0 325.2,1263.5 325.6,1262.0 325.9,1263.6 326.3,1260.8 326.7,1258.1 327.0,1259.4 327.4,1261.3 327.7,1261.8 328.1,1260.7 328.5,1262.3 328.8,1259.4 329.2,1260.0 329.5,1262.3 329.9,1261.0 330.3,1261.0 330.6,1262.7 331.0,1262.3 331.3,1259.7 331.7,1261.0 332.1,1258.3 332.4,1260.6 332.8,1261.0 333.1,1258.1 333.5,1262.5 333.9,1263.0 334.2,1260.9 334.6,1261.4 334.9,1262.1 335.3,1259.7 335.7,1261.3 336.0,1260.3 336.4,1257.5 336.7,1258.3 337.1,1258.6 337.5,1260.8 337.8,1259.3 338.2,1260.5 338.5,1258.3 338.9,1257.1 339.3,1261.7 339.6,1262.4 340.0,1259.0 340.3,1258.1 340.7,1259.9 341.1,1256.6 341.4,1257.7 341.8,1255.9 342.1,1258.3 342.5,1257.8 342.9,1256.7 343.2,1256.2 343.6,1254.8 343.9,1255.5 344.3,1258.0 344.7,1255.6 345.0,1257.5 345.4,1254.4 345.7,1255.1 346.1,1254.3 346.5,1254.3 346.8,1255.2 347.2,1251.4 347.5,1254.4 347.9,1253.9 348.3,1252.5 348.6,1252.1 349.0,1251.1 349.3,1251.7 349.7,1250.2 350.1,1248.4 350.4,1248.9 350.8,1249.1 351.1,1247.5 351.5,1246.3 351.9,1245.6 352.2,1243.8 352.6,1242.8 352.9,1240.1 353.3,1241.0 353.7,1241.1 354.0,1238.7 354.4,1237.1 354.7,1236.4 355.1,1234.1 355.5,1231.9 355.8,1229.7 356.2,1227.4 356.5,1224.0 356.9,1220.2 357.3,1220.9 357.6,1215.7 358.0,1212.0 358.3,1210.5 358.7,1208.6 359.1,1203.9 359.4,1202.8 359.8,1198.2 360.1,1196.2 360.5,1192.4 360.9,1189.7 361.2,1188.2 361.6,1187.3 361.9,1187.1 362.3,1188.4 362.7,1189.9 363.0,1192.8 363.4,1194.2 363.7,1197.8 364.1,1198.3 364.5,1204.6 364.8,1204.5 365.2,1208.6 365.5,1212.7 365.9,1215.6 366.3,1218.8 366.6,1222.1 367.0,1225.9 367.3,1228.5 367.7,1232.2 368.1,1234.8 368.4,1236.7 368.8,1237.8 369.1,1240.7 369.5,1241.4 369.9,1243.3 370.2,1244.0 370.6,1244.9 370.9,1245.3 371.3,1244.6 371.7,1248.8 372.0,1249.0 372.4,1251.9 372.7,1248.9 373.1,1252.2 373.5,1251.0 373.8,1252.4 374.2,1251.6 374.5,1253.6 374.9,1253.5 375.3,1255.1 375.6,1254.5 376.0,1255.2 376.3,1256.6 376.7,1255.9 377.1,1255.3 377.4,1257.4 377.8,1255.9 378.1,1256.9 378.5,1256.1 378.9,1255.9 379.2,1253.0 379.6,1258.1 379.9,1255.8 380.3,1258.5 380.7,1260.0 381.0,1256.1 381.4,1259.1 381.7,1257.9 382.1,1258.8 382.5,1256.7 382.8,1258.4 383.2,1258.6 383.5,1260.4 383.9,1261.5 384.3,1259.0 384.6,1258.1 385.0,1261.7 385.3,1258.5 385.7,1258.7 386.1,1258.9 386.4,1259.5 386.8,1259.8 387.1,1258.1 387.5,1258.8 387.9,1261.6 388.2,1261.2 388.6,1259.6 388.9,1259.4 389.3,1258.8 389.7,1260.5 390.0,1258.4 390.4,1259.3 390.7,1258.5 391.1,1258.3 391.5,1259.3 391.8,1259.3 392.2,1258.5 392.5,1259.2 392.9,1259.4 393.3,1258.7 393.6,1258.5 394.0,1259.2 394.3,1260.4 394.7,1261.0 395.1,1259.8 395.4,1259.2 395.8,1259.6 396.1,1262.3 396.5,1260.9 396.9,1258.4 397.2,1259.7 397.6,1259.0 397.9,1259.3 398.3,1257.5 398.7,1259.9 399.0,1258.1 399.4,1259.2 399.7,1262.1 400.1,1261.4 400.5,1258.9 400.8,1258.7 401.2,1258.9 401.5,1257.6 401.9,1258.9 402.3,1259.9 402.6,1258.9 403.0,1261.4 403.3,1260.3 403.7,1259.7 404.1,1262.9 404.4,1261.5 404.8,1260.6 405.1,1263.1 405.5,1262.4 405.9,1259.7 406.2,1261.1 406.6,1260.1 406.9,1258.7 407.3,1263.3 407.7,1262.8 408.0,1259.1 408.4,1261.5 408.7,1258.6 409.1,1262.3 409.5,1260.8 409.8,1260.5 410.2,1262.6 410.5,1261.0 410.9,1260.6 411.3,1262.2 411.6,1260.6 412.0,1262.2 412.3,1261.0 412.7,1262.2 413.1,1261.9 413.4,1262.2 413.8,1259.7 414.1,1263.7 414.5,1260.9 414.9,1263.6 415.2,1260.4 415.6,1260.8 415.9,1260.9 416.3,1262.8 416.7,1260.7 417.0,1261.9 417.4,1259.1 417.7,1260.7 418.1,1261.6 418.5,1261.2 418.8,1258.8 419.2,1262.1 419.5,1260.1 419.9,1264.1 420.3,1261.2 420.6,1264.6 421.0,1262.4 421.3,1262.1 421.7,1260.8 422.1,1261.4 422.4,1262.2 422.8,1258.9 423.1,1262.9 423.5,1260.0 423.9,1261.3 424.2,1257.9 424.6,1262.3 424.9,1262.7 425.3,1262.1 425.7,1262.1 426.0,1261.2 426.4,1261.9 426.7,1263.4 427.1,1261.2 427.5,1262.5 427.8,1262.8 428.2,1261.5 428.5,1262.1 428.9,1262.1 429.3,1261.2 429.6,1265.2 430.0,1261.3 430.3,1264.2 430.7,1263.4 431.1,1259.1 431.4,1262.3 431.8,1263.4 432.1,1263.1 432.5,1260.7 432.9,1262.3 433.2,1260.3 433.6,1260.6 433.9,1261.7 434.3,1262.3 434.7,1264.2 435.0,1262.5 435.4,1263.5 435.7,1260.4 436.1,1260.5 436.5,1261.4 436.8,1264.5 437.2,1260.3 437.5,1260.0 437.9,1262.0 438.3,1263.8 438.6,1259.9 439.0,1261.8 439.3,1260.3 439.7,1264.2 440.1,1263.2 440.4,1262.6 440.8,1262.2 441.1,1261.9 441.5,1262.4 441.9,1261.4 442.2,1261.0 442.6,1260.7 442.9,1262.3 443.3,1261.2 443.7,1263.5 444.0,1259.4 444.4,1263.1 444.7,1263.0 445.1,1264.0 445.5,1262.0 445.8,1260.3 446.2,1261.1 446.5,1263.9 446.9,1261.9 447.3,1261.8 447.6,1261.6 448.0,1262.3 448.3,1262.1 448.7,1260.2 449.1,1261.6 449.4,1263.8 449.8,1264.4 450.1,1262.2 450.5,1261.7 450.9,1264.3 451.2,1262.2 451.6,1260.8 451.9,1262.2 452.3,1263.4 452.7,1264.5 453.0,1261.7 453.4,1263.1 453.7,1262.0 454.1,1264.0 454.5,1262.8 454.8,1262.8 455.2,1261.1 455.5,1262.0 455.9,1262.0 456.3,1257.5 456.6,1263.6 457.0,1262.4 457.3,1262.1 457.7,1261.9 458.1,1262.4 458.4,1262.7 458.8,1260.6 459.1,1262.6 459.5,1262.6 459.9,1262.5 460.2,1260.4 460.6,1262.2 460.9,1260.7 461.3,1262.9 461.7,1264.2 462.0,1263.6 462.4,1261.9 462.7,1261.7 463.1,1261.6 463.5,1262.9 463.8,1261.5 464.2,1261.7 464.5,1259.0 464.9,1261.2 465.3,1261.3 465.6,1261.7 466.0,1264.1 466.3,1260.5 466.7,1260.6 467.1,1263.2 467.4,1261.1 467.8,1262.2 468.1,1262.6 468.5,1262.4 468.9,1261.3 469.2,1263.7 469.6,1264.5 469.9,1261.0 470.3,1262.0 470.7,1263.7 471.0,1262.1 471.4,1261.0 471.7,1261.8 472.1,1263.5 472.5,1261.0 472.8,1262.8 473.2,1262.9 473.5,1261.5 473.9,1263.2 474.3,1263.3 474.6,1263.8 475.0,1263.7 475.3,1260.4 475.7,1263.6 476.1,1263.2 476.4,1263.7 476.8,1261.2 477.1,1263.6 477.5,1262.9 477.9,1260.8 478.2,1264.2 478.6,1261.3 478.9,1261.0 479.3,1263.0 479.7,1261.6 480.0,1262.9 480.4,1262.1 480.7,1262.8 481.1,1263.5 481.5,1262.4 481.8,1263.6 482.2,1263.6 482.5,1261.3 482.9,1263.6 483.3,1263.3 483.6,1262.6 484.0,1263.9 484.3,1264.7 484.7,1263.5 485.1,1260.4 485.4,1263.0 485.8,1262.2 486.1,1262.0 486.5,1262.9 486.9,1262.0 487.2,1264.6 487.6,1262.8 487.9,1262.4 488.3,1263.5 488.7,1263.5 489.0,1264.0 489.4,1263.3 489.7,1262.4 490.1,1262.6 490.5,1259.5 490.8,1260.4 491.2,1263.8 491.5,1262.0 491.9,1264.6 492.3,1264.4 492.6,1260.9 493.0,1262.6 493.3,1265.4 493.7,1261.0 494.1,1262.2 494.4,1261.2 494.8,1261.0 495.1,1260.6 495.5,1260.7 495.9,1261.3 496.2,1259.0 496.6,1260.3 496.9,1258.4 497.3,1259.6 497.7,1259.0 498.0,1257.1 498.4,1257.9 498.7,1256.3 499.1,1255.7 499.5,1258.1 499.8,1253.4 500.2,1256.3 500.5,1256.0 500.9,1254.0 501.3,1255.3 501.6,1254.5 502.0,1251.4 502.3,1252.7 502.7,1251.8 503.1,1249.5 503.4,1250.3 503.8,1249.7 504.1,1246.7 504.5,1243.7 504.9,1246.5 505.2,1244.0 505.6,1241.8 505.9,1242.7 506.3,1239.1 506.7,1241.1 507.0,1242.7 507.4,1236.5 507.7,1239.6 508.1,1236.7 508.5,1236.6 508.8,1235.1 509.2,1236.0 509.5,1234.5 509.9,1233.1 510.3,1232.1 510.6,1232.4 511.0,1233.2 511.3,1231.6 511.7,1232.8 512.1,1233.2 512.4,1232.2 512.8,1235.4 513.1,1235.4 513.5,1239.2 513.9,1240.2 514.2,1238.5 514.6,1239.7 514.9,1240.0 515.3,1240.7 515.7,1243.3 516.0,1242.9 516.4,1243.2 516.7,1244.1 517.1,1245.9 517.5,1246.8 517.8,1245.9 518.2,1246.2 518.5,1247.1 518.9,1250.5 519.3,1244.9 519.6,1246.7 520.0,1249.5 520.3,1249.5 520.7,1251.5 521.1,1252.0 521.4,1253.3 521.8,1249.8 522.1,1252.1 522.5,1251.3 522.9,1253.3 523.2,1252.5 523.6,1253.8 523.9,1251.8 524.3,1253.3 524.7,1252.6 525.0,1253.1 525.4,1253.0 525.7,1252.4 526.1,1255.8 526.5,1254.8 526.8,1256.2 527.2,1253.3 527.5,1252.0 527.9,1254.2 528.3,1255.1 528.6,1256.7 529.0,1257.3 529.3,1257.7 529.7,1258.4 530.1,1257.4 530.4,1256.6 530.8,1255.5 531.1,1257.8 531.5,1256.3 531.9,1256.0 532.2,1258.2 532.6,1257.8 532.9,1258.9 533.3,1256.8 533.7,1259.6 534.0,1258.6 534.4,1258.0 534.7,1257.3 535.1,1257.0 535.5,1256.7 535.8,1260.7 536.2,1256.9 536.5,1259.9 536.9,1258.8 537.3,1258.4 537.6,1258.6 538.0,1259.3 538.3,1260.7 538.7,1260.3 539.1,1259.6 539.4,1257.8 539.8,1257.3 540.1,1262.4 540.5,1258.5 540.9,1257.8 541.2,1261.5 541.6,1257.9 541.9,1261.0 542.3,1261.3 542.7,1260.4 543.0,1261.3 543.4,1258.3 543.7,1258.5 544.1,1259.7 544.5,1259.8 544.8,1259.6 545.2,1260.2 545.5,1258.5 545.9,1256.5 546.3,1259.6 546.6,1258.6 547.0,1259.8 547.3,1261.2 547.7,1258.3 548.1,1258.8 548.4,1256.4 548.8,1258.7 549.1,1257.6 549.5,1257.2 549.9,1257.9 550.2,1254.6 550.6,1256.8 550.9,1256.3 551.3,1257.7 551.7,1252.3 552.0,1254.6 552.4,1257.7 552.7,1253.5 553.1,1253.2 553.5,1256.1 553.8,1256.5 554.2,1253.0 554.5,1251.6 554.9,1251.3 555.3,1251.1 555.6,1250.0 556.0,1249.6 556.3,1250.5 556.7,1249.8 557.1,1249.9 557.4,1248.7 557.8,1246.3 558.1,1248.7 558.5,1247.5 558.9,1245.8 559.2,1245.8 559.6,1246.1 559.9,1245.4 560.3,1244.8 560.7,1245.6 561.0,1245.6 561.4,1243.7 561.7,1243.9 562.1,1242.5 562.5,1243.5 562.8,1244.3 563.2,1244.9 563.5,1244.0 563.9,1243.8 564.3,1243.0 564.6,1244.4 565.0,1242.6 565.3,1244.5 565.7,1244.5 566.1,1243.3 566.4,1245.3 566.8,1244.7 567.1,1246.2 567.5,1244.7 567.9,1246.4 568.2,1248.3 568.6,1246.4 568.9,1247.6 569.3,1245.6 569.7,1246.3 570.0,1244.1 570.4,1247.1 570.7,1245.8 571.1,1247.9 571.5,1244.9 571.8,1246.9 572.2,1248.5 572.5,1249.2 572.9,1246.3 573.3,1248.3 573.6,1253.2 574.0,1250.5 574.3,1249.7 574.7,1245.3 575.1,1248.4 575.4,1250.8 575.8,1250.5 576.1,1251.1 576.5,1252.0 576.9,1250.9 577.2,1252.2 577.6,1248.3 577.9,1255.2 578.3,1251.0 578.7,1250.6 579.0,1254.1 579.4,1252.9 579.7,1253.7 580.1,1251.4 580.5,1253.0 580.8,1253.8 581.2,1251.1 581.5,1252.7 581.9,1252.9 582.3,1253.0 582.6,1252.5 583.0,1251.8 583.3,1254.6 583.7,1254.5 584.1,1256.0 584.4,1254.3 584.8,1253.6 585.1,1252.6 585.5,1255.0 585.9,1254.6 586.2,1258.2 586.6,1258.7 586.9,1257.8 587.3,1254.3 587.7,1253.7 588.0,1255.6 588.4,1254.8 588.7,1258.3 589.1,1256.5 589.5,1255.9 589.8,1256.5 590.2,1258.5 590.5,1255.4 590.9,1257.6 591.3,1255.1 591.6,1256.8 592.0,1256.2 592.3,1257.8 592.7,1257.6 593.1,1259.3 593.4,1258.6 593.8,1256.8 594.1,1255.9 594.5,1256.7 594.9,1257.4 595.2,1257.8 595.6,1257.1 595.9,1259.9 596.3,1259.8 596.7,1258.1 597.0,1257.9 597.4,1258.4 597.7,1258.8 598.1,1258.9 598.5,1256.7 598.8,1258.5 599.2,1256.5 599.5,1259.4 599.9,1260.4 600.3,1258.0 600.6,1259.9 601.0,1258.8 601.3,1258.8 601.7,1262.7 602.1,1261.2 602.4,1260.8 602.8,1259.6 603.1,1260.8 603.5,1260.1 603.9,1261.1 604.2,1259.3 604.6,1260.5 604.9,1260.1 605.3,1258.8 605.7,1263.2 606.0,1262.1 606.4,1259.9 606.7,1259.0 607.1,1260.1 607.5,1260.1 607.8,1260.4 608.2,1259.3 608.5,1260.3 608.9,1261.6 609.3,1262.1 609.6,1258.9 610.0,1261.7 610.3,1260.4 610.7,1260.3 611.1,1261.4 611.4,1260.9 611.8,1262.9 612.1,1262.9 612.5,1261.6 612.9,1261.2 613.2,1264.6 613.6,1264.7 613.9,1262.7 614.3,1262.0 614.7,1263.6 615.0,1264.3 615.4,1261.6 615.7,1264.8 616.1,1262.1 616.5,1263.8 616.8,1261.7 617.2,1262.5 617.5,1261.8 617.9,1262.4 618.3,1263.8 618.6,1261.2 619.0,1262.0 619.3,1263.1 619.7,1261.7 620.1,1265.1 620.4,1260.4 620.8,1265.7 621.1,1261.4 621.5,1263.5 621.9,1264.4 622.2,1262.8 622.6,1260.1 622.9,1261.5 623.3,1262.0 623.7,1262.6 624.0,1263.1 624.4,1263.3 624.7,1263.7 625.1,1260.2 625.5,1262.8 625.8,1259.0 626.2,1261.5 626.5,1259.7 626.9,1258.6 627.3,1262.3 627.6,1260.9 628.0,1262.2 628.3,1258.5 628.7,1258.9 629.1,1260.3 629.4,1259.4 629.8,1260.3 630.1,1259.2 630.5,1259.5 630.9,1258.2 631.2,1261.6 631.6,1259.2 631.9,1257.8 632.3,1260.4 632.7,1260.0 633.0,1259.5 633.4,1259.3 633.7,1258.3 634.1,1258.6 634.5,1255.4 634.8,1256.2 635.2,1256.6 635.5,1258.7 635.9,1259.9 636.3,1257.8 636.6,1257.5 637.0,1259.4 637.3,1257.1 637.7,1258.4 638.1,1257.9 638.4,1255.3 638.8,1257.5 639.1,1257.1 639.5,1255.0 639.9,1255.0 640.2,1254.4 640.6,1258.1 640.9,1259.0 641.3,1256.8 641.7,1257.9 642.0,1253.3 642.4,1257.2 642.7,1257.9 643.1,1257.2 643.5,1253.0 643.8,1256.0 644.2,1253.9 644.5,1255.5 644.9,1252.7 645.3,1253.5 645.6,1252.4 646.0,1253.8 646.3,1252.8 646.7,1254.4 647.1,1253.8 647.4,1253.0 647.8,1252.2 648.1,1251.6 648.5,1251.9 648.9,1253.0 649.2,1251.9 649.6,1252.0 649.9,1251.3 650.3,1251.1 650.7,1250.0 651.0,1247.9 651.4,1251.6 651.7,1251.4 652.1,1248.9 652.5,1253.2 652.8,1248.3 653.2,1251.5 653.5,1250.2 653.9,1250.2 654.3,1251.3 654.6,1250.8 655.0,1249.4 655.3,1247.6 655.7,1247.3 656.1,1249.3 656.4,1251.3 656.8,1250.2 657.1,1248.9 657.5,1249.4 657.9,1249.9 658.2,1251.5 658.6,1247.8 658.9,1250.1 659.3,1249.4 659.7,1247.9 660.0,1247.5 660.4,1251.1 660.7,1249.7 661.1,1248.9 661.5,1249.5 661.8,1250.9 662.2,1249.6 662.5,1252.0 662.9,1249.2 663.3,1248.5 663.6,1249.7 664.0,1248.5 664.3,1249.5 664.7,1252.1 665.1,1252.9 665.4,1251.4 665.8,1250.8 666.1,1249.2 666.5,1249.1 666.9,1251.4 667.2,1251.3 667.6,1250.2 667.9,1250.5 668.3,1253.9 668.7,1253.1 669.0,1251.7 669.4,1252.1 669.7,1253.8 670.1,1252.5 670.5,1252.5 670.8,1250.1 671.2,1250.2 671.5,1250.0 671.9,1249.7 672.3,1253.2 672.6,1254.0 673.0,1252.5 673.3,1254.7 673.7,1255.0 674.1,1254.5 674.4,1252.6 674.8,1257.4 675.1,1257.6 675.5,1254.9 675.9,1258.9 676.2,1256.4 676.6,1255.5 676.9,1256.3 677.3,1254.5 677.7,1256.8 678.0,1255.4 678.4,1259.2 678.7,1258.3 679.1,1256.2 679.5,1258.9 679.8,1256.0 680.2,1258.6 680.5,1259.1 680.9,1258.6 681.3,1256.9 681.6,1258.5 682.0,1258.5 682.3,1258.9 682.7,1261.1 683.1,1261.4 683.4,1261.3 683.8,1258.2 684.1,1258.1 684.5,1259.3 684.9,1259.9 685.2,1256.4 685.6,1258.5 685.9,1262.1 686.3,1257.7 686.7,1258.5 687.0,1258.6 687.4,1260.4 687.7,1259.7 688.1,1259.4 688.5,1257.7 688.8,1260.8 689.2,1260.0 689.5,1259.1 689.9,1260.2 690.3,1261.3 690.6,1258.1 691.0,1258.0 691.3,1258.9 691.7,1259.1 692.1,1256.0 692.4,1259.6 692.8,1262.1 693.1,1260.1 693.5,1262.1 693.9,1256.5 694.2,1260.5 694.6,1262.7 694.9,1263.0 695.3,1260.1 695.7,1259.7 696.0,1261.4 696.4,1259.2 696.7,1260.5 697.1,1258.6 697.5,1261.2 697.8,1261.1 698.2,1263.4 698.5,1261.7 698.9,1260.2 699.3,1261.1 699.6,1259.4 700.0,1261.3 700.3,1261.0 700.7,1261.9 701.1,1262.7 701.4,1258.5 701.8,1261.9 702.1,1262.5 702.5,1259.7 702.9,1264.2 703.2,1260.5 703.6,1265.0 703.9,1262.7 704.3,1262.9 704.7,1262.0 705.0,1263.0 705.4,1260.2 705.7,1260.5 706.1,1258.9 706.5,1262.4 706.8,1260.7 707.2,1262.8 707.5,1262.6 707.9,1259.8 708.3,1262.7 708.6,1262.1 709.0,1262.1 709.3,1262.4 709.7,1261.8 710.1,1261.8 710.4,1263.3 710.8,1260.4 711.1,1260.1 711.5,1260.7 711.9,1263.3 712.2,1261.4 712.6,1264.6 712.9,1257.5 713.3,1260.9 713.7,1261.2 714.0,1262.3 714.4,1263.8 714.7,1261.6 715.1,1260.5 715.5,1263.1 715.8,1264.1 716.2,1258.3 716.5,1262.8 716.9,1262.4 717.3,1260.8 717.6,1261.3 718.0,1262.4 718.3,1262.0 718.7,1261.6 719.1,1260.3 719.4,1262.4 719.8,1261.0 720.1,1262.1 720.5,1261.1 720.9,1262.3 721.2,1263.0 721.6,1262.3 721.9,1262.9 722.3,1260.0 722.7,1262.7 723.0,1262.4 723.4,1261.1 723.7,1261.8 724.1,1258.7 724.5,1262.0 724.8,1261.4 725.2,1259.1 725.5,1262.2 725.9,1260.5 726.3,1261.5 726.6,1260.5 727.0,1261.3 727.3,1260.5 727.7,1259.8 728.1,1260.6 728.4,1260.8 728.8,1257.0 729.1,1259.5 729.5,1258.7 729.9,1258.1 730.2,1261.0 730.6,1260.7 730.9,1258.2 731.3,1258.2 731.7,1260.8 732.0,1259.1 732.4,1259.7 732.7,1257.6 733.1,1260.3 733.5,1262.2 733.8,1260.2 734.2,1260.9 734.5,1263.8 734.9,1262.8 735.3,1263.8 735.6,1262.9 736.0,1263.9 736.3,1260.3 736.7,1261.6 737.1,1260.8 737.4,1266.0 737.8,1263.5 738.1,1263.3 738.5,1262.7 738.9,1262.5 739.2,1260.5 739.6,1266.6 739.9,1263.9 740.3,1264.1 740.7,1262.1 741.0,1263.9 741.4,1264.5 741.7,1263.9 742.1,1264.8 742.5,1262.8 742.8,1264.4 743.2,1265.2 743.5,1264.8 743.9,1264.5 744.3,1263.8 744.6,1262.6 745.0,1264.8 745.3,1263.4 745.7,1262.7 746.1,1265.0 746.4,1261.8 746.8,1263.2 747.1,1265.1 747.5,1265.3 747.9,1263.5 748.2,1264.1 748.6,1264.7 748.9,1263.9 749.3,1262.9 749.7,1264.6 750.0,1264.2 750.4,1264.1 750.7,1265.5 751.1,1264.4 751.5,1263.4 751.8,1264.2 752.2,1266.7 752.5,1263.0 752.9,1263.6 753.3,1262.9 753.6,1264.5 754.0,1262.2 754.3,1264.6 754.7,1265.0 755.1,1262.9 755.4,1262.8 755.8,1261.9 756.1,1264.0 756.5,1262.4 756.9,1263.1 757.2,1263.4 757.6,1263.0 757.9,1265.1 758.3,1266.2 758.7,1261.0 759.0,1262.9 759.4,1264.3 759.7,1262.5 760.1,1263.2 760.5,1264.3 760.8,1265.9 761.2,1265.6 761.5,1263.6 761.9,1264.2 762.3,1263.5 762.6,1263.7 763.0,1262.4 763.3,1261.5 763.7,1263.5 764.1,1265.3 764.4,1265.0 764.8,1261.4 765.1,1263.7 765.5,1263.1 765.9,1264.4 766.2,1262.5 766.6,1265.3 766.9,1263.7 767.3,1264.8 767.7,1265.2 768.0,1261.3 768.4,1263.7 768.7,1266.1 769.1,1264.0 769.5,1265.4 769.8,1264.6 770.2,1263.3 770.5,1264.4 770.9,1265.4 771.3,1265.8 771.6,1266.0 772.0,1262.5 772.3,1265.1 772.7,1262.1 773.1,1263.8 773.4,1263.7 773.8,1264.9 774.1,1264.4 774.5,1265.7 774.9,1263.1 775.2,1265.2 775.6,1264.5 775.9,1264.0 776.3,1262.3 776.7,1264.8 777.0,1264.4 777.4,1265.1 777.7,1263.9 778.1,1263.6 778.5,1264.5 778.8,1264.6 779.2,1264.9 779.5,1266.6 779.9,1263.1 780.3,1266.8 780.6,1259.9 781.0,1265.3 781.3,1262.9 781.7,1266.8 782.1,1262.8 782.4,1265.5 782.8,1262.6 783.1,1262.4 783.5,1265.1 783.9,1265.2 784.2,1263.0 784.6,1267.3 784.9,1263.6 785.3,1266.1 785.7,1262.6 786.0,1262.7 786.4,1264.1 786.7,1262.6 787.1,1264.6 787.5,1261.0 787.8,1264.2 788.2,1263.2 788.5,1262.7 788.9,1264.3 789.3,1263.7 789.6,1263.4 790.0,1265.1 790.3,1264.4 790.7,1264.5 791.1,1265.8 791.4,1263.9 791.8,1265.1 792.1,1263.4 792.5,1264.8 792.9,1264.7 793.2,1263.2 793.6,1261.9 793.9,1262.2 794.3,1262.7 794.7,1264.7 795.0,1263.8 795.4,1263.5 795.7,1264.6 796.1,1264.9 796.5,1265.8 796.8,1263.1 797.2,1264.7 797.5,1264.9 797.9,1262.6 798.3,1264.1 798.6,1262.6 799.0,1263.6 799.3,1264.4 799.7,1261.5 800.1,1262.7 800.4,1262.7 800.8,1264.0 801.1,1262.8 801.5,1264.3 801.9,1262.6 802.2,1263.1 802.6,1264.6 802.9,1264.2 803.3,1264.0 803.7,1263.7 804.0,1265.1 804.4,1265.6 804.7,1263.2 805.1,1262.7 805.5,1262.3 805.8,1266.1 806.2,1262.4 806.5,1261.8 806.9,1264.0 807.3,1265.1 807.6,1261.9 808.0,1263.4 808.3,1261.6 808.7,1262.6 809.1,1265.8 809.4,1263.8 809.8,1263.2 810.1,1263.6 810.5,1263.9 810.9,1263.3 811.2,1261.8 811.6,1261.8 811.9,1266.2 812.3,1262.3 812.7,1265.0 813.0,1262.4 813.4,1265.1 813.7,1264.3 814.1,1263.0 814.5,1266.0 814.8,1261.9 815.2,1262.9 815.5,1262.0 815.9,1262.1 816.3,1262.6 816.6,1261.8 817.0,1262.6 817.3,1265.3 817.7,1260.6 818.1,1261.3 818.4,1261.7 818.8,1262.3 819.1,1264.3 819.5,1263.9 819.9,1263.5 820.2,1263.1 820.6,1266.1 820.9,1261.2 821.3,1261.1 821.7,1262.7 822.0,1263.0 822.4,1262.3 822.7,1261.4 823.1,1260.8 823.5,1262.2 823.8,1261.5 824.2,1261.8 824.5,1261.1 824.9,1263.8 825.3,1262.7 825.6,1263.8 826.0,1261.4 826.3,1261.5 826.7,1260.8 827.1,1260.5 827.4,1259.7 827.8,1259.2 828.1,1256.3 828.5,1257.7 828.9,1258.3 829.2,1253.8 829.6,1255.4 829.9,1256.0 830.3,1256.4 830.7,1253.7 831.0,1253.7 831.4,1254.2 831.7,1252.9 832.1,1250.1 832.5,1248.9 832.8,1250.0 833.2,1247.8 833.5,1245.6 833.9,1245.0 834.3,1244.7 834.6,1243.1 835.0,1242.2 835.3,1241.4 835.7,1239.7 836.1,1241.8 836.4,1241.0 836.8,1240.9 837.1,1239.7 837.5,1240.1 837.9,1240.8 838.2,1241.7 838.6,1240.1 838.9,1242.9 839.3,1242.5 839.7,1244.5 840.0,1244.9 840.4,1249.3 840.7,1249.0 841.1,1249.3 841.5,1252.2 841.8,1251.5 842.2,1251.9 842.5,1253.4 842.9,1254.2 843.3,1255.2 843.6,1256.4 844.0,1256.1 844.3,1256.3 844.7,1257.2 845.1,1256.5 845.4,1256.9 845.8,1255.8 846.1,1253.9 846.5,1253.5 846.9,1252.2 847.2,1254.9 847.6,1253.4 847.9,1251.4 848.3,1249.9 848.7,1251.2 849.0,1249.7 849.4,1249.7 849.7,1247.5 850.1,1246.4 850.5,1249.8 850.8,1245.5 851.2,1246.1 851.5,1247.3 851.9,1241.9 852.3,1244.9 852.6,1243.4 853.0,1242.5 853.3,1242.4 853.7,1240.7 854.1,1239.8 854.4,1242.5 854.8,1241.2 855.1,1242.4 855.5,1243.2 855.9,1243.6 856.2,1244.8 856.6,1246.3 856.9,1248.8 857.3,1248.9 857.7,1251.1 858.0,1250.5 858.4,1251.6 858.7,1253.1 859.1,1254.3 859.5,1255.1 859.8,1257.2 860.2,1256.8 860.5,1256.3 860.9,1259.5 861.3,1257.6 861.6,1258.1 862.0,1258.7 862.3,1258.1 862.7,1257.5 863.1,1259.5 863.4,1259.3 863.8,1259.0 864.1,1260.6 864.5,1260.5 864.9,1260.4 865.2,1259.2 865.6,1261.5 865.9,1264.1 866.3,1263.2 866.7,1263.7 867.0,1262.5 867.4,1263.9 867.7,1262.0 868.1,1262.4 868.5,1263.6 868.8,1261.2 869.2,1263.2 869.5,1263.5 869.9,1265.5 870.3,1262.2 870.6,1263.8 871.0,1262.4 871.3,1262.6 871.7,1259.7 872.1,1262.1 872.4,1265.0 872.8,1264.2 873.1,1263.7 873.5,1266.9 873.9,1264.3 874.2,1261.9 874.6,1263.3 874.9,1263.6 875.3,1265.8 875.7,1262.5 876.0,1264.3 876.4,1265.1 876.7,1262.6 877.1,1263.9 877.5,1261.1 877.8,1263.9 878.2,1260.8 878.5,1263.3 878.9,1266.2 879.3,1264.4 879.6,1264.0 880.0,1264.1 880.3,1266.9 880.7,1264.7 881.1,1265.4 881.4,1263.4 881.8,1263.4 882.1,1262.6 882.5,1263.7 882.9,1263.0 883.2,1265.3 883.6,1264.9 883.9,1263.8 884.3,1263.3 884.7,1260.1 885.0,1263.2 885.4,1264.4 885.7,1264.8 886.1,1260.0 886.5,1260.9 886.8,1264.1 887.2,1262.5 887.5,1263.5 887.9,1263.1 888.3,1264.4 888.6,1261.1 889.0,1262.7 889.3,1264.6 889.7,1263.5 890.1,1262.0 890.4,1263.6 890.8,1263.3 891.1,1261.5 891.5,1263.6 891.9,1263.5 892.2,1262.2 892.6,1263.6 892.9,1260.5 893.3,1263.1 893.7,1261.6 894.0,1260.5 894.4,1260.9 894.7,1263.2 895.1,1260.7 895.5,1260.9 895.8,1260.4 896.2,1260.1 896.5,1262.4 896.9,1264.0 897.3,1262.8 897.6,1261.6 898.0,1261.9 898.3,1260.5 898.7,1260.3 899.1,1259.4 899.4,1262.8 899.8,1260.6 900.1,1260.1 900.5,1260.3 900.9,1261.5 901.2,1260.6 901.6,1261.5 901.9,1261.8 902.3,1263.5 902.7,1260.3 903.0,1262.5 903.4,1261.4 903.7,1261.9 904.1,1264.9 904.5,1263.7 904.8,1262.5 905.2,1263.9 905.5,1263.5 905.9,1265.2 906.3,1263.2 906.6,1264.7 907.0,1264.0 907.3,1264.5 907.7,1264.5 908.1,1264.1 908.4,1265.2 908.8,1266.4 909.1,1264.6 909.5,1265.0 909.9,1266.1 910.2,1264.8 910.6,1266.9 910.9,1266.8 911.3,1263.3 911.7,1265.3 912.0,1264.8 912.4,1267.1 912.7,1267.3 913.1,1264.5 913.5,1265.2 913.8,1266.0 914.2,1265.6 914.5,1267.1 914.9,1267.4 915.3,1266.9 915.6,1267.6 916.0,1267.4 916.3,1266.0 916.7,1265.5 917.1,1265.1 917.4,1267.2 917.8,1267.3 918.1,1267.5 918.5,1265.7 918.9,1265.6 919.2,1266.5 919.6,1267.8 919.9,1266.6 920.3,1266.4 920.7,1265.0 921.0,1266.7 921.4,1266.8 921.7,1264.9 922.1,1268.4 922.5,1264.9 922.8,1267.3 923.2,1265.8 923.5,1266.3 923.9,1265.1 924.3,1265.4 924.6,1267.0 925.0,1265.9 925.3,1265.7 925.7,1267.3 926.1,1267.1 926.4,1266.3 926.8,1266.4 927.1,1268.4 927.5,1265.9 927.9,1266.6 928.2,1266.7 928.6,1264.3 928.9,1263.6 929.3,1266.3 929.7,1267.3 930.0,1266.4 930.4,1265.4 930.7,1265.3 931.1,1267.2 931.5,1265.7 931.8,1264.0 932.2,1267.0 932.5,1266.4 932.9,1266.6 933.3,1267.5 933.6,1267.9 934.0,1266.9 934.3,1265.9 934.7,1263.3 935.1,1266.5 935.4,1265.9 935.8,1267.9 936.1,1267.8 936.5,1266.7 936.9,1267.9 937.2,1266.0 937.6,1266.1 937.9,1265.0 938.3,1265.7 938.7,1266.4 939.0,1267.5 939.4,1265.1 939.7,1267.2 940.1,1269.2 940.5,1264.3 940.8,1265.8 941.2,1266.1 941.5,1267.4 941.9,1268.7 942.3,1267.7 942.6,1266.1 943.0,1265.0 943.3,1266.0 943.7,1266.1 944.1,1266.4 944.4,1264.9 944.8,1268.1 945.1,1265.2 945.5,1267.0 945.9,1266.4 946.2,1264.7 946.6,1266.2 946.9,1266.1 947.3,1265.8 947.7,1267.2 948.0,1265.5 948.4,1269.4 948.7,1267.6 949.1,1264.9 949.5,1262.8 949.8,1267.7 950.2,1266.4 950.5,1266.2 950.9,1264.8 951.3,1264.1 951.6,1263.6 952.0,1269.4 952.3,1268.1 952.7,1265.3 953.1,1268.5 953.4,1263.5 953.8,1266.9 954.1,1266.9 954.5,1264.8 954.9,1265.4 955.2,1264.6 955.6,1266.0 955.9,1267.7 956.3,1267.2 956.7,1266.5 957.0,1267.4 957.4,1263.5 957.7,1268.6 958.1,1265.8 958.5,1264.1 958.8,1265.4 959.2,1265.0 959.5,1266.0 959.9,1266.2 960.3,1262.7 960.6,1267.5 961.0,1268.1 961.3,1264.4 961.7,1267.7 962.1,1267.4 962.4,1267.1 962.8,1267.9 963.1,1263.9 963.5,1266.7 963.9,1264.4 964.2,1268.9 964.6,1264.4 964.9,1264.0 965.3,1267.2 965.7,1266.5 966.0,1265.7 966.4,1265.8 966.7,1266.4 967.1,1267.9 967.5,1264.6 967.8,1264.8 968.2,1264.8 968.5,1265.5 968.9,1265.6 969.3,1263.8 969.6,1265.9 970.0,1263.8 970.3,1265.1" fill="none" stroke="#525252" stroke-width="5.2" stroke-linejoin="round" stroke-linecap="round"/>
</g>
<g id="ticklabels" font-size="49.8">
<text x="200.0" y="1382.6" text-anchor="middle">10</text>
<text x="328.2" y="1382.6" text-anchor="middle">20</text>
<text x="456.4" y="1382.6" text-anchor="middle">30</text>
<text x="584.6" y="1382.6" text-anchor="middle">40</text>
<text x="712.8" y="1382.6" text-anchor="middle">50</text>
<text x="841.0" y="1382.6" text-anchor="middle">60</text>
<text x="969.2" y="1382.6" text-anchor="middle">70</text>
</g>
<g id="dlabels" font-size="35">
<text x="267.3" y="327.8">d<tspan font-size="22.4" dy="8.6">003</tspan><tspan dy="-8.6">= 2.90 nm</tspan></text>
<text x="270.5" y="513.8">d<tspan font-size="22.4" dy="8.6">003</tspan><tspan dy="-8.6">= 0.86 nm</tspan></text>
<text x="268.1" y="671.9">d<tspan font-size="22.4" dy="8.6">003</tspan><tspan dy="-8.6">= 0.82 nm</tspan></text>
<text x="266.9" y="829.8">d<tspan font-size="22.4" dy="8.6">003</tspan><tspan dy="-8.6">= 0.76 nm</tspan></text>
<text x="264.1" y="988.1">d<tspan font-size="22.4" dy="8.6">003</tspan><tspan dy="-8.6">= 0.75 nm</tspan></text>
<text x="263.4" y="1125.7">d<tspan font-size="22.4" dy="8.6">003</tspan><tspan dy="-8.6">= 0.75 nm</tspan></text>
</g>
<g id="samplelabels" font-size="34.7">
<text x="629.6" y="330.0"><tspan dy="0.0">Mg/Al-C</tspan><tspan font-size="22.4" dy="8.3">12</tspan><tspan dy="-8.3">H</tspan><tspan font-size="22.4" dy="8.3">25</tspan><tspan dy="-8.3">SO</tspan><tspan font-size="22.4" dy="8.3">4</tspan><tspan font-size="22.4" dy="-21.3">-</tspan></text>
<text x="630.6" y="549.8" font-size="34.3"><tspan dy="0.0">Mg/Al-WO</tspan><tspan font-size="22.4" dy="8.3">4</tspan><tspan font-size="21.5" dy="-19.1">2-</tspan></text>
<text x="627.6" y="693.5"><tspan dy="0.0">Mg/Al-F</tspan><tspan font-size="22.4" dy="-13.0">-</tspan></text>
<text x="627.6" y="848.3"><tspan dy="0.0">Mg/Al-OH</tspan><tspan font-size="22.4" dy="-13.0">-</tspan></text>
<text x="626.8" y="1003.5"><tspan dy="0.0">Li/Al-CO</tspan><tspan font-size="22.4" dy="8.3">3</tspan><tspan font-size="21.5" dy="-19.1">2-</tspan></text>
<text x="626.8" y="1129.4"><tspan dy="0.0">Mg/Ga-CO</tspan><tspan font-size="22.4" dy="8.3">3</tspan><tspan font-size="21.5" dy="-19.1">2-</tspan></text>
</g>
<g id="peaklabels">
<text transform="translate(151.0,91.6) rotate(-90)" text-anchor="middle" font-size="39">(003)</text>
<text transform="translate(198.0,1185.0) rotate(-90)" text-anchor="middle" font-size="34.3">(003)</text>
<text transform="translate(342.0,1199.7) rotate(-90)" text-anchor="middle" font-size="34.3">(006)</text>
<text transform="translate(493.2,1205.5) rotate(-90)" text-anchor="middle" font-size="34.3">(009)</text>
<text transform="translate(574.9,1192.9) rotate(-90)" text-anchor="middle" font-size="34.3">(015)</text>
<text transform="translate(668.2,1198.4) rotate(-90)" text-anchor="middle" font-size="34.3">(018)</text>
<text transform="translate(823.2,1204.6) rotate(-90)" text-anchor="middle" font-size="34.3">(110)</text>
<text transform="translate(885.6,1203.0) rotate(-90)" text-anchor="middle" font-size="34.3">(113)</text>
</g>
<text id="ylabel" transform="translate(38.1,881.7) rotate(-90)" font-size="51.45" font-weight="bold">Intensity (arb. units)</text>
<text id="xlabel" x="484.8" y="1447.8" font-size="52" font-weight="bold"><tspan font-style="italic">2&#952;</tspan><tspan dx="-1.8"> (&#176;)</tspan></text>
</svg>
</body>
</html>
